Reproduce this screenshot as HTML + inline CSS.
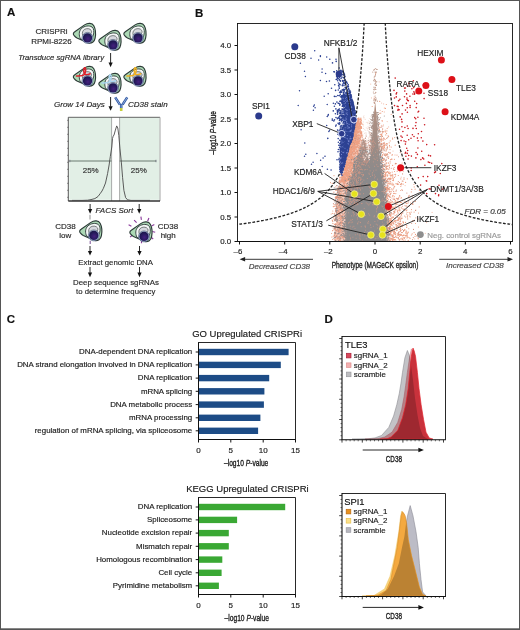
<!DOCTYPE html><html><head><meta charset="utf-8"><style>html,body{margin:0;padding:0;background:#fff}svg{display:block;will-change:transform;font-family:"Liberation Sans",sans-serif}</style></head><body>
<svg width="520" height="630" viewBox="0 0 520 630" font-family="'Liberation Sans', sans-serif">
<rect x="0" y="0" width="520" height="630" fill="#fff"/>
<defs>
<radialGradient id="nuc" cx="0.55" cy="0.6" r="0.6"><stop offset="0" stop-color="#45207e"/><stop offset="0.6" stop-color="#271a5e"/><stop offset="1" stop-color="#1c1648"/></radialGradient>
<g id="cellbody">
<path d="M2.2 15.2C0.8 13.8 1.2 12.3 2.8 11.3L12.6 4.4C16 2.1 20.2 2.3 21.8 5.2C23.4 8.2 24 13 23.1 17.6C22.5 21.3 19.6 23.2 16.2 22.4L5 17.6C3.9 17 3 16.2 2.2 15.2Z" fill="#acd9b5" stroke="#2c3a37" stroke-width="1.15"/>
<path d="M8.4 18.3C6.8 15 6.7 10.7 9.5 8C12.4 5.3 17.3 4.6 20 6.5C22 7.9 22.2 11.5 21.3 14.9L18.8 19.8L12.5 20.2Z" fill="#f4f6f6" stroke="#34403f" stroke-width="0.95"/>
<path d="M10.7 14.8C9.9 12.4 10.5 10 12.7 8.8C15.1 7.6 18 8 19.2 9.9C19.9 11.1 19.5 12.7 18.5 13.4L13.5 15.2Z" fill="#d6d8de" stroke="#4c5252" stroke-width="0.7"/>
</g>
<g id="nucleus">
<circle cx="15.5" cy="17.4" r="5.5" fill="#aabfe2" stroke="#3a4a62" stroke-width="0.55"/>
<circle cx="15.5" cy="17.4" r="4.65" fill="url(#nuc)"/>
</g>
<g id="cell"><use href="#cellbody"/><use href="#nucleus"/></g>
</defs>
<text x="7" y="16.3" font-size="11.5" font-weight="bold" fill="#111" stroke="#111" stroke-width="0.16">A</text>
<text x="195" y="16.5" font-size="11.5" font-weight="bold" fill="#111" stroke="#111" stroke-width="0.16">B</text>
<text x="6.8" y="322.7" font-size="11.5" font-weight="bold" fill="#111" stroke="#111" stroke-width="0.16">C</text>
<text x="324.5" y="322.6" font-size="11.5" font-weight="bold" fill="#111" stroke="#111" stroke-width="0.16">D</text>
<text x="51.5" y="34.4" font-size="8" text-anchor="middle" fill="#2a2a2a" stroke="#2a2a2a" stroke-width="0.16">CRISPRi</text>
<text x="51.4" y="44.2" font-size="8" text-anchor="middle" fill="#2a2a2a" stroke="#2a2a2a" stroke-width="0.16">RPMI-8226</text>
<use href="#cell" transform="translate(72 20.5)"/>
<use href="#cell" transform="translate(97.5 27.5)"/>
<use href="#cell" transform="translate(122.5 20.5)"/>
<text x="18.3" y="60.4" font-size="7.75" font-style="italic" fill="#2a2a2a" stroke="#2a2a2a" stroke-width="0.16">Transduce sgRNA library</text>
<line x1="110.6" y1="53" x2="110.6" y2="63.1" stroke="#111" stroke-width="0.9"/>
<path d="M108.5 62.6L112.7 62.6L110.6 67.2Z" fill="#111"/>
<g transform="translate(72 63.5)"><use href="#cellbody"/><path d="M4.5 12.6C7.5 12.4 10.5 12.6 12.3 11C13.8 9 14.2 5.2 13 4.2C11.6 3.8 11.2 7.4 12.4 10.2C13.4 11.8 15.8 11.3 18.2 10.2" fill="none" stroke="#e0202a" stroke-width="1.5" stroke-linecap="round" stroke-linejoin="round"/><use href="#nucleus"/></g>
<g transform="translate(97.5 70.5)"><use href="#cellbody"/><path d="M4.5 12.6C7.5 12.4 10.5 12.6 12.3 11C13.8 9 14.2 5.2 13 4.2C11.6 3.8 11.2 7.4 12.4 10.2C13.4 11.8 15.8 11.3 18.2 10.2" fill="none" stroke="#a9d4ef" stroke-width="1.5" stroke-linecap="round" stroke-linejoin="round"/><use href="#nucleus"/></g>
<g transform="translate(122.5 63.5)"><use href="#cellbody"/><path d="M4.5 12.6C7.5 12.4 10.5 12.6 12.3 11C13.8 9 14.2 5.2 13 4.2C11.6 3.8 11.2 7.4 12.4 10.2C13.4 11.8 15.8 11.3 18.2 10.2" fill="none" stroke="#f0b020" stroke-width="1.5" stroke-linecap="round" stroke-linejoin="round"/><use href="#nucleus"/></g>
<text x="54" y="106.8" font-size="8" font-style="italic" fill="#2a2a2a" stroke="#2a2a2a" stroke-width="0.16">Grow 14 Days</text>
<line x1="110.6" y1="97" x2="110.6" y2="106.7" stroke="#111" stroke-width="0.9"/>
<path d="M108.5 106.2L112.7 106.2L110.6 110.8Z" fill="#111"/>
<g fill="none" stroke-linecap="butt"><path d="M115.2 97.4L119.9 104.6M127.2 97.4L122.5 104.6" stroke="#2d55a2" stroke-width="2.5"/><path d="M115.2 97.4L119.9 104.6M127.2 97.4L122.5 104.6" stroke="#b4cdee" stroke-width="0.7"/><path d="M121.2 104L121.2 108.2" stroke="#2d55a2" stroke-width="2.6"/><path d="M121.2 104.5L121.2 108" stroke="#b4cdee" stroke-width="0.6"/><path d="M121.2 108L121.2 111" stroke="#c6cf3c" stroke-width="2.6"/></g>
<text x="128" y="106.8" font-size="8" font-style="italic" fill="#2a2a2a" stroke="#2a2a2a" stroke-width="0.16">CD38 stain</text>
<rect x="69.3" y="117.3" width="90.10000000000001" height="82.5" fill="#e2efe6"/>
<rect x="111.6" y="117.3" width="8" height="83.7" fill="#fff"/>
<line x1="111.6" y1="117.3" x2="111.6" y2="201" stroke="#8a8a8a" stroke-width="0.7"/>
<line x1="119.6" y1="117.3" x2="119.6" y2="201" stroke="#8a8a8a" stroke-width="0.7"/>
<line x1="68.3" y1="117.3" x2="160" y2="117.3" stroke="#555" stroke-width="0.9"/>
<line x1="160" y1="117.3" x2="160" y2="201" stroke="#9a9a9a" stroke-width="0.9"/>
<line x1="68.3" y1="117.3" x2="68.3" y2="201" stroke="#444" stroke-width="0.9"/>
<line x1="68.3" y1="201" x2="160" y2="201" stroke="#333" stroke-width="1.4"/>
<line x1="67.1" y1="120.3" x2="68.3" y2="120.3" stroke="#444" stroke-width="0.6"/>
<line x1="67.1" y1="127.3" x2="68.3" y2="127.3" stroke="#444" stroke-width="0.6"/>
<line x1="67.1" y1="134.3" x2="68.3" y2="134.3" stroke="#444" stroke-width="0.6"/>
<line x1="67.1" y1="141.3" x2="68.3" y2="141.3" stroke="#444" stroke-width="0.6"/>
<line x1="67.1" y1="148.3" x2="68.3" y2="148.3" stroke="#444" stroke-width="0.6"/>
<line x1="67.1" y1="155.3" x2="68.3" y2="155.3" stroke="#444" stroke-width="0.6"/>
<line x1="67.1" y1="162.3" x2="68.3" y2="162.3" stroke="#444" stroke-width="0.6"/>
<line x1="67.1" y1="169.3" x2="68.3" y2="169.3" stroke="#444" stroke-width="0.6"/>
<line x1="67.1" y1="176.3" x2="68.3" y2="176.3" stroke="#444" stroke-width="0.6"/>
<line x1="67.1" y1="183.3" x2="68.3" y2="183.3" stroke="#444" stroke-width="0.6"/>
<line x1="67.1" y1="190.3" x2="68.3" y2="190.3" stroke="#444" stroke-width="0.6"/>
<line x1="67.1" y1="197.3" x2="68.3" y2="197.3" stroke="#444" stroke-width="0.6"/>
<line x1="69.5" y1="161" x2="111.6" y2="161" stroke="#6a7a70" stroke-width="1.0"/>
<line x1="119.6" y1="161" x2="156" y2="161" stroke="#6a7a70" stroke-width="1.0"/>
<line x1="69.8" y1="159.8" x2="69.8" y2="162.2" stroke="#556" stroke-width="0.7"/>
<line x1="156" y1="159.8" x2="156" y2="162.2" stroke="#556" stroke-width="0.7"/>
<text x="90.7" y="173.1" font-size="8" text-anchor="middle" fill="#333" stroke="#333" stroke-width="0.16">25%</text>
<text x="138.8" y="172.8" font-size="8" text-anchor="middle" fill="#333" stroke="#333" stroke-width="0.16">25%</text>
<path d="M72 200.4L82 200.4L87.5 200.2L91 199.6L94.9 198.6L98 196.5L100.2 193.6L102 191L103.4 188.3L105.5 183L107.6 173.5L109.1 165L110.3 156.5L111.8 147L112.5 138.5L113.2 136.2L114 135L115.4 130.1L116.7 125.9L117.8 128L118.8 135.4L119.9 148.1L121.4 162.9L122.6 177.7L123.9 190.4L125.6 197.6L127.5 199.8L131 200.4L150 200.4" fill="none" stroke="#4a4a4a" stroke-width="0.9"/>
<line x1="90.1" y1="204" x2="90.1" y2="209.6" stroke="#111" stroke-width="0.9"/>
<path d="M88 209.1L92.2 209.1L90.1 213.7Z" fill="#111"/>
<line x1="139.2" y1="204" x2="139.2" y2="209.6" stroke="#111" stroke-width="0.9"/>
<path d="M137.1 209.1L141.3 209.1L139.2 213.7Z" fill="#111"/>
<text x="95.5" y="212.8" font-size="8" font-style="italic" fill="#2a2a2a" stroke="#2a2a2a" stroke-width="0.16">FACS Sort</text>
<g transform="translate(78.3 218)"><use href="#cell"/></g>
<line x1="90" y1="214.8" x2="90" y2="219.5" stroke="#777" stroke-width="0.8"/>
<line x1="90.2" y1="240.8" x2="90.2" y2="244" stroke="#6a3a8a" stroke-width="0.9"/>
<text x="65.5" y="228.7" font-size="8" text-anchor="middle" fill="#2a2a2a" stroke="#2a2a2a" stroke-width="0.16">CD38</text>
<text x="65.3" y="238.3" font-size="8" text-anchor="middle" fill="#2a2a2a" stroke="#2a2a2a" stroke-width="0.16">low</text>
<path d="M134.1 220.1L136.6 222.6M140.9 216.6L141.4 219.8M148.9 218L147.6 221.2M154.3 224.6L151.6 226.1M155.2 232.2L152.3 231.5M153.2 239L150.5 236.8M141.5 243.2L141.5 240.4M130.1 237L132.8 234.9M128.6 224.8L131.4 226.2" stroke="#8c3c9c" stroke-width="1.15" fill="none"/>
<g transform="translate(128.5 219)"><use href="#cell"/></g>
<text x="168" y="228.8" font-size="8" text-anchor="middle" fill="#2a2a2a" stroke="#2a2a2a" stroke-width="0.16">CD38</text>
<text x="168.2" y="238.3" font-size="8" text-anchor="middle" fill="#2a2a2a" stroke="#2a2a2a" stroke-width="0.16">high</text>
<line x1="90" y1="246" x2="90" y2="251.5" stroke="#111" stroke-width="0.9"/>
<path d="M87.9 251L92.1 251L90 255.6Z" fill="#111"/>
<line x1="139.5" y1="246" x2="139.5" y2="251.5" stroke="#111" stroke-width="0.9"/>
<path d="M137.4 251L141.6 251L139.5 255.6Z" fill="#111"/>
<text x="115.6" y="264.6" font-size="7.8" text-anchor="middle" fill="#2a2a2a" stroke="#2a2a2a" stroke-width="0.16">Extract genomic DNA</text>
<line x1="90" y1="267" x2="90" y2="273.1" stroke="#111" stroke-width="0.9"/>
<path d="M87.9 272.6L92.1 272.6L90 277.2Z" fill="#111"/>
<line x1="139.5" y1="267" x2="139.5" y2="273.1" stroke="#111" stroke-width="0.9"/>
<path d="M137.4 272.6L141.6 272.6L139.5 277.2Z" fill="#111"/>
<text x="116" y="285" font-size="7.85" text-anchor="middle" fill="#2a2a2a" stroke="#2a2a2a" stroke-width="0.16">Deep sequence sgRNAs</text>
<text x="115.7" y="294.2" font-size="7.75" text-anchor="middle" fill="#2a2a2a" stroke="#2a2a2a" stroke-width="0.16">to determine frequency</text>
<g>
<clipPath id="pclip"><rect x="237.5" y="23.5" width="275.0" height="218.0"/></clipPath>
<g clip-path="url(#pclip)">
<path d="M364.8 9.8L364.0 26.4L363.2 40.8L362.4 53.4L361.5 64.5L360.7 74.4L359.9 83.2L359.1 91.2L358.3 98.4L357.5 104.9L356.7 110.9L355.9 116.3L355.1 121.4L354.3 126.0L353.5 130.3L352.7 134.3L351.9 138.0L351.1 141.5L350.3 144.8L349.5 147.8L348.7 150.7L347.9 153.3L347.1 155.9L346.3 158.3L345.5 160.5L344.7 162.7L343.9 164.7L343.1 166.7L342.3 168.5L341.5 170.3L340.7 171.9L339.8 173.5L339.0 175.0L338.2 176.5L337.4 177.9L336.6 179.2L335.8 180.5L335.0 181.8L334.2 182.9L333.4 184.1L332.6 185.2L331.8 186.2L331.0 187.2L330.2 188.2L329.4 189.2L328.6 190.1L327.8 191.0L327.0 191.8L326.2 192.6L325.4 193.4L324.6 194.2L323.8 195.0L323.0 195.7L322.2 196.4L321.4 197.1L320.6 197.7L319.8 198.4L318.9 199.0L318.1 199.6L317.3 200.2L316.5 200.8L315.7 201.3L314.9 201.9L314.1 202.4L313.3 202.9L312.5 203.4L311.7 203.9L310.9 204.4L310.1 204.9L309.3 205.3L308.5 205.8L307.7 206.2L306.9 206.6L306.1 207.0L305.3 207.4L304.5 207.8L303.7 208.2L302.9 208.6L302.1 208.9L301.3 209.3L300.5 209.7L299.7 210.0L298.9 210.3L298.1 210.7L297.2 211.0L296.4 211.3L295.6 211.6L294.8 211.9L294.0 212.2L293.2 212.5L292.4 212.8L291.6 213.1L290.8 213.4L290.0 213.6L289.2 213.9L288.4 214.2L287.6 214.4L286.8 214.7L286.0 214.9L285.2 215.2L284.4 215.4L283.6 215.6L282.8 215.9L282.0 216.1L281.2 216.3L280.4 216.5L279.6 216.7L278.8 217.0L278.0 217.2L277.2 217.4L276.3 217.6L275.5 217.8L274.7 218.0L273.9 218.2L273.1 218.3L272.3 218.5L271.5 218.7L270.7 218.9L269.9 219.1L269.1 219.2L268.3 219.4L267.5 219.6L266.7 219.8L265.9 219.9L265.1 220.1L264.3 220.2L263.5 220.4L262.7 220.6L261.9 220.7L261.1 220.9L260.3 221.0L259.5 221.1L258.7 221.3L257.9 221.4L257.1 221.6L256.3 221.7L255.4 221.9L254.6 222.0L253.8 222.1L253.0 222.3L252.2 222.4L251.4 222.5L250.6 222.6L249.8 222.8L249.0 222.9L248.2 223.0L247.4 223.1L246.6 223.2L245.8 223.4L245.0 223.5L244.2 223.6L243.4 223.7L242.6 223.8L241.8 223.9L241.0 224.0L240.2 224.1L239.4 224.2L238.6 224.4L237.8 224.5L237.0 224.6" fill="none" stroke="#222" stroke-width="1.3" stroke-dasharray="2.8 1.6" clip-path="url(#pclip)"/>
<path d="M384.6 9.8L385.4 26.4L386.2 40.8L387.0 53.4L387.9 64.5L388.7 74.4L389.5 83.2L390.3 91.2L391.1 98.4L391.9 104.9L392.7 110.9L393.5 116.3L394.3 121.4L395.1 126.0L395.9 130.3L396.7 134.3L397.5 138.0L398.3 141.5L399.1 144.8L399.9 147.8L400.7 150.7L401.5 153.3L402.3 155.9L403.1 158.3L403.9 160.5L404.7 162.7L405.5 164.7L406.3 166.7L407.1 168.5L407.9 170.3L408.7 171.9L409.6 173.5L410.4 175.0L411.2 176.5L412.0 177.9L412.8 179.2L413.6 180.5L414.4 181.8L415.2 182.9L416.0 184.1L416.8 185.2L417.6 186.2L418.4 187.2L419.2 188.2L420.0 189.2L420.8 190.1L421.6 191.0L422.4 191.8L423.2 192.6L424.0 193.4L424.8 194.2L425.6 195.0L426.4 195.7L427.2 196.4L428.0 197.1L428.8 197.7L429.6 198.4L430.5 199.0L431.3 199.6L432.1 200.2L432.9 200.8L433.7 201.3L434.5 201.9L435.3 202.4L436.1 202.9L436.9 203.4L437.7 203.9L438.5 204.4L439.3 204.9L440.1 205.3L440.9 205.8L441.7 206.2L442.5 206.6L443.3 207.0L444.1 207.4L444.9 207.8L445.7 208.2L446.5 208.6L447.3 208.9L448.1 209.3L448.9 209.7L449.7 210.0L450.5 210.3L451.3 210.7L452.2 211.0L453.0 211.3L453.8 211.6L454.6 211.9L455.4 212.2L456.2 212.5L457.0 212.8L457.8 213.1L458.6 213.4L459.4 213.6L460.2 213.9L461.0 214.2L461.8 214.4L462.6 214.7L463.4 214.9L464.2 215.2L465.0 215.4L465.8 215.6L466.6 215.9L467.4 216.1L468.2 216.3L469.0 216.5L469.8 216.7L470.6 217.0L471.4 217.2L472.2 217.4L473.1 217.6L473.9 217.8L474.7 218.0L475.5 218.2L476.3 218.3L477.1 218.5L477.9 218.7L478.7 218.9L479.5 219.1L480.3 219.2L481.1 219.4L481.9 219.6L482.7 219.8L483.5 219.9L484.3 220.1L485.1 220.2L485.9 220.4L486.7 220.6L487.5 220.7L488.3 220.9L489.1 221.0L489.9 221.1L490.7 221.3L491.5 221.4L492.3 221.6L493.1 221.7L494.0 221.9L494.8 222.0L495.6 222.1L496.4 222.3L497.2 222.4L498.0 222.5L498.8 222.6L499.6 222.8L500.4 222.9L501.2 223.0L502.0 223.1L502.8 223.2L503.6 223.4L504.4 223.5L505.2 223.6L506.0 223.7L506.8 223.8L507.6 223.9L508.4 224.0L509.2 224.1L510.0 224.2L510.8 224.4L511.6 224.5L512.4 224.6" fill="none" stroke="#222" stroke-width="1.3" stroke-dasharray="2.8 1.6" clip-path="url(#pclip)"/>
<path d="M373.5 207.2h0M369.2 128.1h0M360.2 231.2h0M381.0 195.8h0M380.7 226.6h0M377.3 216.1h0M375.2 215.6h0M354.6 178.3h0M374.8 170.7h0M368.4 201.1h0M391.0 238.4h0M362.4 167.9h0M378.5 205.5h0M384.9 212.4h0M375.5 202.9h0M358.1 210.4h0M376.9 214.5h0M371.5 97.9h0M399.4 217.6h0M376.6 115.7h0M393.2 235.5h0M376.5 214.6h0M383.6 206.7h0M380.4 167.9h0M373.9 160.1h0M376.9 133.1h0M375.2 116.1h0M393.6 207.9h0M389.8 187.3h0M372.5 177.9h0M373.6 154.9h0M382.1 120.7h0M375.0 204.8h0M376.2 134.0h0M401.2 177.2h0M377.1 181.8h0M373.2 210.7h0M372.8 192.8h0M376.1 212.5h0M384.2 165.0h0M370.1 178.9h0M389.1 183.1h0M409.4 216.1h0M371.2 167.8h0M382.5 209.3h0M377.1 139.2h0M363.5 199.7h0M397.6 223.6h0M382.2 171.5h0M377.4 205.4h0M389.3 181.0h0M375.6 138.3h0M380.4 192.2h0M383.6 103.9h0M377.7 172.4h0M379.5 225.0h0M388.0 196.0h0M384.7 203.2h0M372.5 193.8h0M374.7 163.7h0M378.0 233.4h0M388.5 241.2h0M381.5 169.5h0M377.4 176.4h0M368.5 219.7h0M376.5 178.7h0M379.2 81.8h0M373.1 167.0h0M387.2 189.8h0M374.7 182.2h0M415.9 210.2h0M399.7 210.7h0M377.2 199.8h0M379.9 161.5h0M383.4 188.3h0M381.1 161.8h0M359.4 209.2h0M387.6 227.6h0M419.9 234.5h0M399.0 224.0h0M361.4 179.7h0M378.8 136.6h0M364.1 172.1h0M388.6 126.9h0M375.8 201.5h0M368.4 195.9h0M386.7 194.1h0M380.2 110.4h0M356.6 235.5h0M373.9 200.5h0M375.6 180.8h0M370.7 84.1h0M383.0 225.3h0M365.7 207.8h0M380.7 160.8h0M386.4 197.6h0M389.2 238.9h0M396.0 221.2h0M369.1 186.3h0M373.9 234.6h0M381.6 103.1h0M385.9 164.3h0M385.3 130.1h0M370.2 227.3h0M396.2 206.5h0M381.7 190.8h0M385.0 176.3h0M365.1 182.3h0M390.3 194.8h0M376.0 157.6h0M384.3 112.0h0M382.4 205.0h0M376.7 173.6h0M394.1 186.8h0M382.6 128.4h0M378.2 150.7h0M376.3 181.3h0M381.4 224.8h0M369.5 218.8h0M373.5 141.7h0M382.1 202.5h0M371.8 205.3h0M403.3 171.5h0M377.9 172.7h0M378.0 200.5h0M379.4 195.3h0M364.3 180.8h0M386.5 199.6h0M379.3 176.0h0M377.5 128.5h0M379.3 170.7h0M379.3 213.8h0M376.3 199.5h0M374.8 119.9h0M375.2 146.5h0M378.4 193.9h0M393.5 179.1h0M367.2 168.0h0M373.4 234.9h0M375.5 140.9h0M392.6 240.0h0M360.3 194.9h0M381.4 134.5h0M384.2 168.7h0M379.5 216.6h0M380.8 161.5h0M380.3 174.6h0M361.2 171.4h0M383.5 207.8h0M375.3 196.4h0M379.8 160.6h0M369.0 173.4h0M425.3 233.3h0M390.6 223.1h0M374.5 208.8h0M374.0 219.7h0M376.2 230.2h0M366.6 213.7h0M376.9 160.3h0M378.5 192.9h0M383.5 162.4h0M379.4 129.4h0M374.0 168.3h0M379.2 237.1h0M372.0 221.9h0M395.0 155.0h0M383.3 184.6h0M374.5 175.4h0M382.5 160.6h0M386.9 143.6h0M380.8 184.0h0M355.9 190.4h0M390.3 218.4h0M381.0 160.7h0M397.7 198.7h0M381.9 149.0h0M353.1 177.4h0M381.0 218.7h0M374.2 97.0h0M394.5 186.4h0M370.5 179.3h0M376.6 155.8h0M383.3 164.7h0M381.4 125.4h0M376.7 208.0h0M374.1 180.4h0M390.5 191.6h0M380.1 174.1h0M383.3 195.2h0M378.6 186.2h0M378.5 197.7h0M398.8 218.7h0M372.7 195.1h0M393.9 233.1h0M369.1 147.5h0M387.1 203.3h0M374.2 236.6h0M393.0 151.1h0M379.2 204.7h0M369.4 197.9h0M373.8 192.6h0M364.2 202.7h0M382.6 209.9h0M368.9 233.7h0M374.0 222.7h0M359.7 210.2h0M382.5 132.8h0M372.3 224.0h0M367.3 227.8h0M380.7 208.2h0M406.7 205.8h0M376.6 127.1h0M389.8 230.6h0M383.5 143.5h0M372.2 175.6h0M373.0 138.0h0M383.5 125.0h0M380.0 170.4h0M387.2 121.6h0M381.8 139.3h0M378.4 174.2h0M386.5 211.1h0M367.1 231.9h0M378.0 175.5h0M375.1 128.5h0M414.7 238.9h0M375.5 214.1h0M375.5 141.2h0M369.7 182.0h0M376.9 164.4h0M397.9 237.7h0M359.3 200.2h0M370.3 201.0h0M360.6 209.4h0M388.4 231.5h0M375.7 197.4h0M405.1 185.6h0M400.3 221.2h0M389.6 222.7h0M374.7 218.5h0M361.7 231.4h0M381.0 219.7h0M375.2 181.2h0M375.1 146.5h0M385.6 167.4h0M390.4 163.1h0M387.9 201.5h0M374.0 172.5h0M393.6 239.8h0M432.1 212.4h0M380.9 187.2h0M379.4 236.2h0M384.4 208.5h0M375.5 176.8h0M382.2 229.2h0M378.6 176.3h0M376.5 235.1h0M382.2 204.4h0M389.9 183.8h0M371.6 147.4h0M380.7 188.5h0M368.3 207.9h0M426.6 222.5h0M372.4 230.2h0M369.6 237.3h0M379.6 241.5h0M382.1 232.4h0M376.0 204.8h0M380.4 185.2h0M412.5 198.2h0M372.8 224.4h0M384.0 190.6h0M385.4 229.9h0M377.3 204.3h0M375.0 179.6h0M369.0 187.9h0M370.7 184.7h0" stroke="#f5c8b8" stroke-width="1.30" stroke-linecap="round" fill="none"/>
<path d="M389.5 229.0h0M387.3 176.2h0M381.8 148.2h0M383.2 220.9h0M384.0 233.7h0M398.9 218.7h0M381.0 182.5h0M358.1 221.5h0M374.7 133.5h0M366.6 167.8h0M367.5 224.6h0M385.9 166.9h0M391.9 184.7h0M375.1 155.0h0M386.6 162.9h0M374.9 168.6h0M387.5 188.3h0M370.8 191.7h0M382.3 111.5h0M374.5 139.3h0M371.7 221.0h0M383.4 180.2h0M376.5 200.1h0M386.1 178.0h0M402.1 163.0h0M376.2 232.8h0M405.2 240.0h0M392.9 231.1h0M373.1 127.9h0M382.9 181.7h0M375.2 184.9h0M385.3 237.8h0M383.9 187.2h0M372.5 168.4h0M379.4 152.6h0M371.8 231.5h0M383.7 207.0h0M379.0 193.7h0M415.0 236.4h0M372.9 192.5h0M375.5 205.8h0M375.6 206.8h0M379.4 168.9h0M380.2 192.9h0M387.1 202.1h0M378.6 240.8h0M378.2 222.3h0M368.6 188.4h0M372.9 240.8h0M383.1 218.9h0M379.4 148.2h0M390.7 183.2h0M375.7 151.4h0M380.8 224.6h0M368.6 193.8h0M386.6 203.5h0M379.0 216.7h0M380.5 212.1h0M388.2 181.4h0M375.9 126.1h0M377.5 144.9h0M373.0 231.4h0M391.6 220.9h0M373.3 231.1h0M389.5 196.3h0M396.0 224.7h0M370.4 222.9h0M387.3 203.3h0M376.9 184.8h0M382.0 224.1h0M376.9 151.3h0M375.2 201.5h0M379.5 129.5h0M375.8 149.2h0M377.0 160.3h0M384.4 229.1h0M377.6 230.0h0M401.5 234.7h0M381.2 180.6h0M381.1 181.0h0M368.9 223.5h0M380.7 224.6h0M374.9 150.7h0M381.0 138.8h0M390.6 178.7h0M375.5 218.5h0M387.5 179.0h0M394.3 199.4h0M374.4 102.8h0M363.8 222.7h0M382.7 236.4h0M387.4 194.7h0M381.2 182.2h0M385.8 191.1h0M379.7 217.3h0M386.7 226.6h0M367.7 233.1h0M379.6 187.2h0M364.2 227.0h0M382.7 222.5h0M396.9 198.7h0M355.6 236.6h0M386.2 200.8h0M379.4 166.8h0M366.3 237.3h0M371.1 232.4h0M362.6 204.6h0M388.5 204.7h0M385.5 226.3h0M381.8 185.3h0M385.5 230.4h0M365.8 202.1h0M375.6 200.2h0M368.6 241.3h0M382.4 131.1h0M367.7 224.3h0M393.4 238.9h0M375.7 73.6h0M387.4 175.5h0M384.0 208.4h0M376.0 153.4h0M381.5 197.9h0M419.4 190.4h0M372.1 151.1h0M374.7 149.2h0M379.7 123.3h0M385.1 139.5h0M383.2 232.3h0M389.6 220.2h0M377.7 222.1h0M380.0 152.3h0M386.6 133.4h0M393.8 237.5h0M383.3 229.7h0M381.7 204.8h0M414.1 232.6h0M375.8 164.4h0M367.8 200.8h0M355.8 223.7h0M372.2 106.5h0M373.0 222.8h0M370.5 221.6h0M385.1 216.9h0M390.1 226.3h0M364.6 178.8h0M379.0 156.6h0M409.0 197.8h0M392.7 207.5h0M353.3 184.4h0M399.7 169.6h0M375.3 135.1h0M406.4 225.2h0M387.4 197.0h0M352.6 204.1h0M372.4 204.1h0M375.9 147.0h0M369.5 218.9h0M374.8 171.3h0M381.2 163.3h0M380.8 240.7h0M379.8 113.3h0M371.2 197.4h0M369.1 233.6h0M385.8 134.9h0M382.1 120.8h0M369.0 224.4h0M353.5 235.9h0M373.4 209.6h0M369.1 218.5h0M378.7 148.3h0M374.8 136.7h0M374.2 219.1h0M370.2 216.9h0M376.3 171.9h0M391.2 147.1h0M372.8 139.0h0M365.3 174.3h0M375.3 208.2h0M376.9 140.1h0M372.6 150.0h0M394.9 228.8h0M384.1 240.4h0M377.2 141.6h0M404.9 210.2h0M384.6 241.3h0M362.3 188.9h0M376.3 238.1h0M374.9 238.8h0M380.3 211.9h0M385.5 108.4h0M383.3 209.9h0M392.6 139.1h0M396.0 237.3h0M379.7 101.4h0M383.2 222.0h0M388.7 195.6h0M364.8 218.5h0M402.0 208.5h0M391.2 114.3h0M373.0 130.1h0M372.1 141.2h0M407.8 215.0h0M379.1 227.9h0M368.4 225.4h0M371.2 232.5h0M383.8 212.4h0M382.1 178.2h0M367.6 154.6h0M386.6 181.3h0M383.7 188.2h0M393.2 184.1h0M402.7 236.0h0M381.8 210.8h0M363.9 192.8h0M370.1 177.8h0M349.7 165.6h0M380.8 113.1h0M373.1 185.8h0M368.6 223.2h0M385.2 203.2h0M376.2 217.7h0M372.6 195.5h0M380.0 220.9h0M386.2 199.2h0M408.7 196.6h0M376.3 130.6h0M372.0 229.5h0M378.4 154.1h0M377.1 232.5h0M365.0 191.1h0M379.8 163.9h0M407.3 178.8h0M379.3 203.5h0M379.2 186.5h0M381.0 172.1h0M374.0 98.9h0M382.5 205.9h0M351.8 204.4h0M372.1 240.9h0M386.3 104.5h0M371.3 206.1h0M383.3 236.4h0M382.3 121.1h0M393.9 213.9h0M380.1 218.4h0M384.4 202.0h0M370.9 191.1h0M374.8 231.4h0M371.8 176.6h0M379.0 218.4h0M383.8 210.6h0M381.3 137.1h0M373.9 194.3h0M377.0 222.2h0M381.9 217.0h0M380.0 144.8h0M372.9 170.4h0M382.5 136.5h0M375.6 123.2h0M382.1 202.9h0M390.8 214.9h0M384.9 211.6h0M372.0 211.2h0M385.6 197.3h0M379.8 195.6h0M352.0 211.4h0M382.8 236.3h0M394.6 212.4h0M397.2 235.7h0M380.4 144.8h0M405.5 217.0h0M380.2 235.0h0M371.6 241.2h0M400.8 178.9h0M380.6 172.4h0M375.2 218.1h0M384.4 108.0h0" stroke="#eea083" stroke-width="1.20" stroke-linecap="round" fill="none"/>
<path d="M356.3 121L355.3 127.6L354 134.1L352.6 140.7L349.9 147.2L348.2 153.8L346.5 160.3L344.9 166.9L343.2 173.4L341 180L338.5 190L336.5 210L335.5 241.5L349.5 241.5L348.5 215L347.5 195L350 180L355 168L359.5 156L362 146L361 135L358.5 126L356.5 121Z" fill="#f3d0c4"/>
<path d="M341.3 223.6h0M345.8 234.6h0M337.7 212.8h0M354.1 182.8h0M338.8 213.4h0M337.8 200.6h0M342.1 176.3h0M345.9 206.0h0M341.0 196.1h0M356.7 163.9h0M334.9 234.6h0M347.9 153.7h0M340.5 238.1h0M342.3 209.9h0M347.4 199.6h0M347.6 185.9h0M340.5 204.9h0M351.7 168.2h0M361.3 160.8h0M352.7 133.1h0M335.9 186.9h0M356.1 138.2h0M344.7 185.6h0M348.3 205.4h0M347.7 152.1h0M347.2 190.2h0M343.9 182.9h0M356.9 121.7h0M347.6 185.3h0M344.3 223.8h0M340.3 182.7h0M349.8 207.6h0M339.0 197.6h0M339.5 239.9h0M348.2 234.4h0M354.2 142.3h0M361.6 136.5h0M335.5 236.9h0M344.4 228.1h0M350.3 179.4h0M359.3 150.4h0M345.4 231.5h0M339.4 179.9h0M341.2 217.7h0M353.4 134.4h0M352.1 139.0h0M355.7 164.0h0M353.1 146.4h0M357.7 139.7h0M339.0 214.0h0M337.8 238.4h0M346.3 220.8h0M345.4 222.0h0M337.1 239.1h0M337.3 204.5h0M346.7 159.1h0M351.4 173.1h0M348.7 175.8h0M357.6 158.9h0M345.9 157.6h0M335.6 229.6h0M357.8 144.3h0M343.3 235.7h0M349.7 162.5h0M350.3 233.6h0M347.6 169.0h0M347.1 227.8h0M345.4 222.4h0M346.2 205.7h0M356.0 131.0h0M347.4 225.6h0M356.2 146.5h0M346.1 159.7h0M358.6 147.5h0M343.7 182.9h0M354.3 140.6h0M362.7 136.1h0M353.4 159.2h0M339.3 197.5h0M350.9 169.1h0M351.8 171.8h0M351.9 152.4h0M335.8 190.4h0M345.5 186.5h0M339.4 199.2h0M335.5 219.8h0M349.3 201.4h0M344.5 216.9h0M347.3 186.0h0M340.9 190.9h0M358.2 142.3h0M342.4 173.8h0M338.3 215.4h0M339.2 192.9h0M333.2 227.9h0M342.7 186.9h0M335.6 211.7h0M342.0 193.5h0M349.9 236.1h0M343.6 218.0h0M353.3 131.4h0M339.8 177.2h0M346.3 228.7h0M349.6 182.6h0M337.9 195.7h0M346.0 161.1h0M342.9 200.0h0M340.7 189.7h0M342.1 238.1h0M350.0 169.0h0M349.6 144.9h0M348.9 148.9h0M342.6 176.8h0M354.7 150.9h0M339.1 211.5h0M340.7 219.4h0M348.4 214.8h0M351.2 146.3h0M346.8 206.3h0M358.0 164.6h0M348.7 160.9h0M339.7 227.5h0M339.9 196.4h0M337.0 224.0h0M351.7 190.0h0M335.8 218.3h0M344.8 183.3h0M343.0 236.5h0M349.0 187.7h0M355.1 140.8h0M355.6 132.9h0M346.3 168.4h0M339.3 191.4h0M340.9 180.8h0M335.7 208.7h0M346.3 163.9h0M345.1 228.7h0M346.7 183.7h0M353.9 121.9h0M345.7 175.2h0M346.0 210.9h0M339.9 203.4h0M350.3 230.2h0M342.7 166.3h0M340.4 215.7h0M354.3 129.0h0M361.7 143.0h0M350.2 145.0h0M342.6 180.0h0M350.8 157.2h0M346.1 238.1h0M345.2 157.5h0M350.6 228.8h0M351.5 237.6h0M334.7 224.4h0M349.4 222.9h0M346.7 143.4h0M340.4 217.2h0M358.6 157.2h0M342.7 190.8h0M359.4 143.1h0M338.4 224.1h0M349.7 241.1h0M357.3 142.5h0M331.9 237.1h0M339.7 236.5h0M350.1 222.8h0M351.6 156.6h0M359.9 156.5h0M345.5 229.3h0M349.3 220.1h0M346.2 212.8h0M343.8 169.1h0M357.6 125.7h0M348.0 229.0h0M352.3 164.7h0M339.9 230.0h0M344.1 236.3h0M351.5 155.7h0M340.7 220.9h0M347.7 194.7h0M348.5 171.4h0M359.0 162.9h0M345.6 169.2h0M351.4 232.0h0M351.3 173.2h0M349.4 183.8h0M339.3 186.1h0M355.7 146.4h0M343.1 218.0h0M353.5 121.9h0M338.1 226.3h0M342.9 179.8h0M361.6 128.5h0M345.2 151.8h0M348.4 163.6h0M346.3 210.9h0M358.8 162.9h0M334.4 224.3h0M353.1 193.7h0M351.7 240.2h0M342.5 198.3h0M349.7 238.6h0M356.3 139.2h0M342.4 217.8h0M349.6 184.6h0M335.4 204.9h0M344.9 192.9h0M343.9 155.2h0M337.9 203.8h0M346.4 207.7h0M340.7 218.6h0M349.6 167.4h0M345.5 183.0h0M335.5 218.4h0M348.6 239.5h0M345.0 227.4h0M334.4 213.3h0M339.2 218.3h0M349.3 227.7h0M356.1 158.5h0M355.5 128.3h0M354.0 150.0h0M352.8 220.1h0M354.0 172.6h0M336.4 230.3h0M334.5 232.5h0M352.7 172.0h0M338.7 207.0h0M347.8 153.2h0M353.7 125.0h0M348.0 198.3h0M333.9 192.2h0M352.2 139.0h0M344.9 166.1h0M362.6 147.8h0M360.6 139.5h0M341.2 197.4h0M347.3 192.7h0M341.9 201.8h0M337.4 203.7h0M359.1 135.7h0M353.9 153.1h0M336.5 230.8h0M340.1 195.5h0M357.4 155.3h0M347.4 185.5h0M347.9 154.9h0M339.8 181.8h0M347.3 138.9h0M347.7 150.9h0M352.9 174.6h0M348.9 186.9h0M349.2 225.5h0M344.4 182.6h0M356.2 177.6h0M350.8 211.4h0M347.8 198.7h0M337.7 190.8h0M348.9 180.2h0M346.0 178.5h0M353.1 156.7h0M334.9 232.0h0M337.3 231.1h0M359.0 126.5h0M334.6 227.7h0M355.5 163.6h0M355.6 166.5h0M354.8 128.6h0M356.5 142.1h0M348.1 153.8h0M352.9 163.2h0M337.7 238.1h0M344.7 153.5h0M354.5 148.7h0M343.6 179.2h0M352.6 156.8h0M356.8 129.3h0M355.6 127.6h0M357.5 142.9h0M340.4 200.1h0M339.1 203.5h0M337.0 211.3h0M352.7 158.4h0M349.6 168.1h0M343.1 182.8h0M351.9 130.9h0M362.3 137.5h0M354.3 122.4h0M350.6 230.9h0M350.9 169.3h0M356.5 122.5h0M351.6 160.9h0M336.1 208.2h0M337.7 220.8h0M347.1 237.8h0M345.5 195.2h0M348.3 190.2h0M354.0 130.0h0M341.4 200.2h0M362.9 124.6h0M353.6 140.9h0M335.7 227.4h0M335.7 230.2h0M348.8 211.6h0M353.8 126.4h0M342.0 203.3h0M344.8 168.4h0M357.5 151.9h0M345.4 161.9h0M338.7 197.7h0M340.2 230.6h0M352.9 220.0h0M347.8 221.2h0M348.9 185.7h0M348.8 188.0h0M347.5 154.5h0M360.5 148.4h0M359.0 125.1h0M357.0 132.1h0M356.0 166.2h0M353.2 146.4h0M344.5 183.0h0M335.1 218.1h0M340.7 197.6h0M351.6 179.3h0M340.9 209.1h0M354.1 172.0h0M338.1 188.1h0M349.3 151.7h0M344.2 167.0h0M344.1 180.6h0M346.2 154.4h0M357.0 146.9h0M342.5 236.9h0M335.5 196.8h0M355.2 142.3h0M336.8 193.3h0M353.7 161.6h0M339.7 224.0h0M353.9 126.2h0M351.7 178.4h0M357.3 139.9h0M354.3 132.4h0M338.7 210.6h0M344.0 183.2h0M342.8 237.2h0M349.7 203.5h0M345.2 180.0h0M341.0 222.0h0M358.6 158.7h0M337.0 217.5h0M352.4 173.7h0M349.6 181.6h0M343.9 157.6h0M348.8 187.6h0M350.4 187.8h0M337.9 210.9h0M348.6 214.7h0M344.1 158.4h0M353.8 185.3h0M353.5 132.7h0M348.6 153.0h0M357.1 153.5h0M346.6 239.8h0M339.8 212.9h0M347.2 230.2h0M356.7 135.6h0M347.0 188.0h0M358.2 123.9h0M347.2 219.8h0M349.1 221.1h0M357.9 121.1h0M350.0 208.1h0M346.0 190.4h0M352.6 159.4h0M351.8 168.6h0M360.1 130.0h0M337.3 190.0h0M349.1 186.7h0M352.1 177.4h0M338.8 199.1h0M335.1 215.2h0M354.7 137.7h0M363.7 146.3h0M347.8 237.1h0M350.7 156.1h0M354.2 153.9h0M356.1 136.7h0M351.2 137.8h0M362.7 139.2h0M354.7 165.0h0M341.5 234.8h0M336.2 197.1h0M335.5 239.1h0M359.4 156.9h0M345.9 205.2h0M341.5 225.1h0M339.7 229.1h0M341.5 222.3h0M343.1 236.5h0M335.4 233.2h0M339.2 203.2h0M350.2 236.4h0M339.6 209.5h0M359.9 127.7h0M343.9 188.4h0M358.6 129.0h0M341.4 212.6h0M347.0 232.0h0M343.3 217.6h0M344.5 165.0h0M338.4 238.2h0M348.4 156.0h0M342.4 171.5h0M342.5 229.0h0M343.6 207.1h0M338.0 192.5h0M342.7 174.5h0M335.3 240.6h0M363.4 141.4h0M343.0 220.4h0M339.8 239.4h0M357.2 147.4h0M350.9 214.1h0M358.1 157.3h0M356.8 125.6h0M349.4 240.3h0M340.9 186.3h0M334.2 241.3h0M347.3 167.6h0M356.6 143.7h0M343.5 227.1h0M361.7 134.3h0M342.6 210.7h0M334.0 175.7h0M332.7 239.4h0M347.4 182.8h0M362.4 164.4h0M345.0 196.7h0M338.0 216.6h0M336.5 206.5h0M343.0 187.8h0M342.1 216.1h0M344.8 236.1h0M356.1 158.5h0M347.8 174.1h0M340.0 197.9h0M362.1 146.7h0M337.8 188.8h0M354.2 164.8h0M343.9 210.7h0M345.4 193.5h0M348.7 187.9h0M332.9 223.4h0M358.4 128.4h0M344.0 234.0h0M345.1 199.8h0M348.8 151.0h0M347.5 188.3h0M339.4 231.6h0M340.1 228.7h0M358.4 165.5h0M346.1 212.7h0M352.4 124.0h0M346.1 191.2h0M342.1 160.7h0M343.3 177.1h0M361.0 134.0h0M348.6 210.1h0M337.7 208.1h0M340.4 223.4h0M346.5 189.5h0M350.5 184.2h0M351.1 181.8h0M347.3 226.1h0M354.1 174.9h0M345.6 178.9h0M344.4 240.0h0M354.4 145.6h0M345.3 230.7h0M335.6 220.3h0M339.6 229.8h0M350.0 165.0h0M356.3 135.8h0M336.3 210.4h0M349.0 149.9h0M353.8 144.2h0M357.0 128.6h0M356.8 143.6h0M338.0 223.9h0M349.7 172.0h0M359.4 125.1h0M335.8 218.3h0M337.7 196.8h0M353.0 154.0h0M347.9 208.3h0M360.5 152.4h0M348.8 235.9h0M352.4 185.6h0M348.2 178.7h0M349.0 206.4h0M335.8 226.2h0M359.5 127.9h0M341.8 210.2h0M345.5 174.3h0M346.2 168.6h0M340.4 239.1h0M349.2 225.0h0M340.2 187.1h0M349.3 234.4h0M345.7 240.1h0M348.9 152.9h0M361.8 135.6h0M337.3 222.4h0M335.7 216.4h0M353.7 171.3h0M335.2 208.5h0M349.8 233.9h0M348.7 208.3h0M349.6 197.6h0M339.1 183.1h0M348.3 231.3h0M346.0 223.1h0M357.8 137.7h0M336.8 215.6h0M339.2 224.5h0M334.7 232.8h0M357.9 137.8h0M348.2 202.5h0M335.5 216.0h0M352.6 157.9h0M338.6 232.2h0M341.2 173.9h0M360.0 154.2h0M358.6 157.1h0M360.9 127.0h0M333.6 217.9h0M357.6 167.9h0M345.6 144.7h0M341.5 209.8h0M355.6 122.2h0M337.9 208.0h0M342.1 202.5h0M358.5 159.7h0M358.6 159.3h0M351.0 218.0h0M335.6 198.6h0M359.7 124.4h0M353.9 142.3h0M349.0 212.6h0M344.5 200.2h0M340.2 193.2h0M336.4 202.6h0M334.5 241.4h0M355.4 165.5h0M349.8 225.0h0M339.3 182.1h0M337.1 206.0h0M338.0 229.1h0M335.0 240.8h0M334.7 237.6h0M346.1 160.5h0M348.3 190.4h0M347.1 166.1h0M359.4 126.0h0M346.3 159.7h0M350.3 152.1h0M353.6 126.5h0M354.3 174.0h0M349.0 225.6h0M356.1 139.0h0M341.8 230.4h0M354.8 125.2h0M342.7 222.8h0M347.7 207.8h0M345.6 161.5h0M340.1 197.8h0M351.4 143.5h0M348.9 218.5h0M346.3 184.8h0M348.7 165.8h0M353.7 170.0h0M349.9 236.9h0M346.4 163.6h0M340.2 222.6h0M360.4 137.6h0M339.0 232.1h0M341.9 221.7h0M361.5 128.0h0M345.1 175.2h0M364.7 142.9h0M350.2 148.7h0M341.3 216.2h0M351.0 144.4h0M359.8 136.0h0M337.0 213.3h0M343.3 164.3h0M336.1 201.3h0M351.2 183.2h0M346.4 237.8h0M353.4 164.1h0M363.5 157.4h0M342.4 217.4h0M340.0 180.7h0M341.1 206.2h0M337.4 192.6h0M360.6 133.5h0M353.9 174.3h0M350.1 235.2h0M357.8 142.0h0M347.4 161.9h0M356.0 149.1h0M353.5 133.4h0M357.0 236.2h0M343.6 170.9h0M347.9 198.0h0M349.8 146.8h0M349.3 154.8h0M359.1 118.2h0M360.9 131.1h0M342.3 225.6h0M347.3 236.7h0M340.7 222.6h0M360.0 135.9h0M348.6 235.9h0M354.6 153.6h0M357.4 154.5h0M343.7 233.6h0M335.7 236.9h0M356.3 148.8h0M338.1 207.7h0M349.3 231.6h0M358.5 122.7h0M363.6 142.4h0M361.3 122.0h0M336.2 215.2h0M336.4 236.2h0M349.7 238.7h0M340.6 207.9h0M335.8 235.0h0M340.3 181.9h0M333.3 236.2h0M346.1 229.5h0M342.7 185.0h0M339.2 232.3h0M337.0 206.8h0M347.6 231.5h0M342.0 236.7h0M340.0 195.2h0M354.1 132.3h0M354.9 145.4h0M338.0 220.0h0M335.0 221.0h0M350.4 221.6h0M350.6 232.3h0M360.4 144.9h0M351.8 143.8h0M344.3 167.6h0M335.5 229.3h0M355.6 137.6h0M344.3 162.6h0M346.0 166.3h0M347.3 185.4h0M358.8 131.1h0M332.7 213.4h0M359.9 132.2h0M355.0 146.0h0M344.4 228.1h0M335.4 204.8h0M347.5 186.2h0M349.6 143.8h0M362.0 142.7h0M335.1 228.3h0M346.1 193.4h0M339.8 201.7h0M348.1 224.7h0M355.0 135.3h0M352.2 152.0h0M361.8 142.8h0M347.4 162.7h0M338.9 240.1h0M341.6 188.0h0M345.2 236.9h0M337.6 238.7h0M349.8 181.8h0M342.6 233.5h0M352.3 142.3h0M349.2 183.6h0M344.8 230.8h0M330.5 182.6h0M346.0 221.1h0M343.1 206.6h0M340.7 194.4h0M360.4 150.3h0M346.3 233.4h0M346.1 174.0h0M341.2 203.5h0M344.1 177.8h0M354.3 127.3h0M344.8 203.0h0M340.6 231.3h0M340.5 198.0h0M335.5 197.4h0M354.7 188.4h0M342.9 217.8h0M342.5 237.2h0M353.4 154.8h0M364.0 139.4h0M348.9 209.0h0M341.9 227.3h0M338.6 198.8h0M352.6 196.6h0M352.3 172.1h0M339.3 209.6h0M334.9 219.5h0M363.4 156.7h0M350.4 178.1h0M355.4 208.8h0M348.8 208.1h0M332.3 183.4h0M339.5 193.0h0M352.1 178.6h0M336.4 233.0h0M343.7 213.8h0M340.6 232.0h0M346.3 193.6h0M358.2 145.4h0M340.3 210.1h0M358.8 134.8h0M336.7 206.3h0M354.5 135.6h0M351.9 135.7h0M342.6 231.3h0M348.7 233.1h0M363.1 143.9h0M349.3 198.2h0M354.9 175.6h0M350.0 167.7h0M358.3 132.3h0M359.1 159.9h0M350.0 233.4h0M341.4 162.6h0M359.1 141.3h0M341.0 207.5h0M361.2 165.6h0M348.9 221.2h0M341.2 208.0h0M354.0 239.3h0M354.9 166.9h0M362.9 146.1h0M359.2 145.1h0M339.8 240.6h0M343.9 177.5h0M348.4 201.9h0M347.4 235.9h0M355.1 238.6h0M338.6 205.3h0M340.1 206.0h0M347.9 195.4h0M343.9 186.9h0M344.0 230.2h0M342.9 186.5h0M339.6 193.8h0M357.3 160.6h0M343.2 218.5h0M356.1 171.1h0M357.0 142.3h0M339.7 236.1h0M356.5 126.4h0M357.3 155.2h0M357.0 129.0h0M346.3 155.9h0M334.2 200.7h0M349.1 189.0h0M346.9 191.7h0M348.8 150.6h0M346.9 214.8h0M361.0 132.8h0M358.6 148.9h0M336.8 219.4h0M350.2 186.0h0M339.8 184.6h0M336.7 212.7h0M343.7 236.0h0M336.7 235.4h0M349.7 179.0h0M362.1 134.9h0M349.3 145.8h0M354.8 143.1h0M355.8 121.8h0M336.0 224.0h0M347.2 206.7h0M347.6 153.2h0M345.1 164.7h0M334.3 234.1h0M340.3 238.6h0M342.6 186.8h0M347.7 224.3h0M353.7 177.9h0M336.0 211.9h0M349.7 219.6h0M341.0 195.8h0M344.5 178.6h0M356.7 139.0h0M354.7 129.5h0M341.2 166.1h0M344.5 172.3h0M349.7 184.5h0M336.9 221.7h0M344.2 180.3h0M348.1 148.1h0M338.7 236.8h0M340.8 208.5h0M334.3 206.4h0M354.7 158.8h0M351.2 144.1h0M354.9 122.9h0M337.3 190.7h0M358.2 150.9h0M340.4 234.5h0M357.5 135.8h0M349.5 152.8h0M335.5 233.4h0M358.4 155.0h0M334.2 219.4h0M354.3 130.4h0M348.2 175.9h0M346.6 190.4h0M346.7 237.8h0M360.7 132.4h0M341.2 233.0h0M342.8 196.1h0M353.9 147.3h0M338.9 230.6h0M343.2 218.7h0M343.4 238.0h0M346.9 156.1h0M344.5 179.8h0M349.5 205.5h0M339.6 177.9h0M352.4 157.9h0M336.1 218.9h0M349.4 231.8h0M361.4 135.5h0M338.1 191.1h0M355.7 167.5h0M354.4 145.8h0M339.5 202.6h0M349.0 194.1h0M348.8 227.8h0M342.0 204.9h0M335.1 231.9h0M352.1 171.8h0M340.1 235.9h0M338.8 211.0h0M353.5 134.6h0M351.7 141.6h0M351.2 147.4h0M346.5 180.7h0M338.9 187.0h0M352.4 177.9h0M347.0 157.4h0M336.8 193.8h0M353.6 160.5h0M345.3 186.0h0M361.4 133.9h0M345.8 179.3h0M337.1 238.3h0M349.8 144.0h0M350.3 222.0h0M356.5 127.6h0M349.2 232.6h0M335.3 197.4h0M331.6 233.5h0M344.4 173.0h0M332.6 230.7h0M357.1 163.7h0M349.1 212.2h0M351.1 167.9h0M362.0 146.2h0M341.6 189.7h0M358.9 134.9h0M349.5 193.0h0M336.0 215.9h0M352.0 139.6h0M340.3 174.6h0M348.9 223.7h0M353.7 171.7h0M334.7 227.7h0M341.0 177.4h0M360.7 154.8h0M343.3 169.3h0M351.6 165.0h0M346.9 214.0h0M352.0 148.3h0M335.7 229.8h0M348.1 193.5h0M348.7 224.3h0M357.3 157.4h0M332.2 220.1h0M353.1 153.9h0M360.1 147.0h0M350.1 232.5h0M354.9 134.3h0M344.4 167.4h0M349.0 239.7h0M352.4 174.4h0M334.1 230.1h0M350.7 212.2h0M347.5 170.3h0M359.1 170.4h0M337.8 237.9h0M341.1 202.0h0M351.6 137.6h0M349.7 230.1h0M345.0 236.8h0M350.8 161.9h0M338.2 190.0h0M346.0 164.1h0M332.8 211.0h0M345.3 232.5h0M356.3 147.3h0M351.5 170.2h0M360.3 129.8h0M346.1 171.3h0M334.7 239.5h0M353.0 134.3h0M336.0 210.9h0M356.2 130.7h0M338.6 228.0h0M353.1 145.8h0M341.1 179.6h0M349.6 171.6h0M357.0 140.9h0M334.4 235.6h0M334.7 216.2h0M335.8 224.5h0M349.2 128.2h0M347.1 232.1h0M333.3 206.7h0M354.6 144.8h0M341.7 229.4h0M342.5 187.5h0M358.2 169.5h0M347.8 202.0h0M358.6 126.5h0M347.0 233.4h0M354.6 158.4h0M356.3 127.6h0M335.9 205.1h0M343.2 199.3h0M346.4 213.6h0M348.0 148.9h0M340.5 240.9h0M336.4 206.0h0M353.7 162.2h0M347.9 154.0h0M349.9 240.5h0M337.6 197.9h0M347.0 231.4h0M351.2 190.8h0M358.0 164.5h0M344.6 169.7h0M345.3 187.9h0M341.3 212.1h0M352.5 143.9h0M345.8 161.8h0M357.3 127.3h0M342.5 228.6h0M345.3 232.6h0M349.0 211.4h0M351.9 170.6h0M334.5 237.7h0M350.4 224.1h0M338.7 233.3h0M355.1 125.0h0M339.5 214.3h0M360.1 135.6h0M354.0 154.5h0M364.4 144.8h0M344.8 212.4h0M339.3 180.7h0M347.5 177.3h0M361.7 133.2h0M353.8 148.0h0M349.5 237.8h0M347.5 175.4h0M358.9 161.0h0M343.9 239.0h0M341.5 192.0h0M356.1 142.3h0M349.2 178.1h0M351.5 170.6h0M346.2 224.9h0M345.0 216.2h0M358.1 142.6h0M356.2 125.7h0M335.0 236.6h0M359.4 153.9h0M340.3 219.3h0M356.2 159.9h0M339.1 198.1h0M352.5 142.9h0M358.0 162.6h0M335.5 223.9h0M349.5 218.6h0M333.7 226.0h0M334.2 229.3h0M346.0 210.5h0M354.0 162.1h0M343.6 193.6h0M335.4 217.9h0M363.3 148.8h0M357.0 127.0h0M344.5 200.1h0M357.4 164.0h0M342.2 199.6h0M353.5 178.3h0M331.2 214.0h0M346.7 197.0h0M342.8 198.5h0M352.6 174.4h0M352.9 137.4h0M337.0 190.3h0M341.9 211.0h0M350.4 222.4h0M339.2 238.3h0M335.7 216.1h0M334.8 228.3h0M362.5 148.2h0M336.4 227.6h0M349.7 238.3h0M352.0 158.7h0M344.4 228.2h0M336.4 206.3h0M360.7 137.0h0M349.7 161.1h0M342.6 214.2h0M336.9 230.8h0M351.9 141.0h0M358.0 118.7h0M337.9 229.6h0M336.2 219.7h0M348.4 148.5h0M345.7 226.0h0M352.2 176.3h0M349.8 147.3h0M344.7 226.3h0M361.1 147.0h0M340.7 181.0h0M365.8 152.0h0M352.7 176.1h0M354.2 137.0h0M347.5 188.9h0M342.3 220.7h0M347.0 201.5h0M336.7 230.2h0M341.6 218.6h0M355.0 149.8h0M363.3 148.6h0M337.7 196.3h0M355.7 162.0h0M356.5 160.8h0M345.8 200.1h0M361.4 131.5h0M361.3 160.4h0M347.1 208.4h0M342.0 202.1h0M346.4 186.5h0M362.1 146.4h0M360.3 124.6h0M352.4 144.6h0M356.7 158.7h0M335.3 219.6h0M344.1 240.7h0M336.6 196.4h0M332.6 220.7h0M348.6 214.7h0M355.4 121.7h0M346.6 156.0h0M351.1 181.4h0M335.7 226.6h0M357.7 152.5h0M353.6 230.5h0M349.3 157.2h0M361.6 140.7h0M340.2 206.4h0M340.0 229.4h0M363.5 140.7h0M353.2 167.2h0M339.1 231.5h0M353.9 154.7h0M353.8 133.8h0M334.1 204.7h0M359.3 143.4h0M355.4 116.8h0M347.1 207.4h0M343.9 206.7h0M345.6 236.3h0" stroke="#eea083" stroke-width="1.20" stroke-linecap="round" fill="none"/>
<path d="M338.5 224.8h0M345.3 181.8h0M342.6 233.0h0M344.1 204.4h0M349.3 212.1h0M335.5 237.8h0M350.9 180.1h0M340.0 205.5h0M340.4 237.3h0M342.7 191.3h0M344.6 179.9h0M344.2 184.3h0M343.9 228.0h0M336.6 185.5h0M353.3 183.8h0M337.1 235.7h0M347.1 187.7h0M349.7 231.4h0M342.0 228.8h0M344.6 186.2h0M340.4 187.3h0M338.9 222.7h0M335.6 210.7h0M341.9 177.0h0M336.9 204.0h0M337.9 208.5h0M340.6 240.0h0M338.7 206.1h0M341.7 232.3h0M335.2 241.5h0M336.7 212.5h0M345.6 221.8h0M344.3 226.3h0M348.0 209.8h0M339.0 237.0h0M351.5 187.7h0M347.7 203.7h0M346.6 208.7h0M346.5 190.4h0M337.1 198.0h0M348.6 215.2h0M338.0 241.5h0M341.6 236.8h0M349.3 226.9h0M342.9 185.3h0M338.6 201.0h0M337.7 197.4h0M335.0 228.5h0M339.3 195.9h0M333.9 241.4h0M337.1 196.7h0M343.1 204.0h0M342.6 188.6h0M338.3 203.0h0M349.3 211.4h0M343.5 228.6h0M336.7 204.8h0M343.7 187.0h0M342.4 228.3h0M344.6 185.4h0M341.0 215.7h0M340.6 228.0h0M342.0 220.1h0M336.9 230.6h0M342.4 185.6h0M348.4 200.7h0M349.0 206.1h0M342.6 209.3h0M335.6 230.2h0M343.9 214.3h0M339.5 183.5h0M340.4 229.8h0M351.2 228.9h0M342.3 210.0h0M340.8 197.2h0M338.8 226.8h0M351.0 184.4h0M337.2 200.6h0M341.7 180.4h0M339.3 228.6h0M343.4 231.8h0M344.0 208.9h0M340.2 214.8h0M339.8 225.9h0M335.8 216.4h0M342.1 215.5h0M342.3 208.8h0M338.0 227.8h0M345.2 207.2h0M340.7 207.8h0M339.9 229.0h0M338.6 189.4h0M348.7 179.9h0M346.0 178.3h0M348.6 196.3h0M339.4 223.1h0M340.6 223.8h0M347.0 235.8h0M347.2 176.4h0M336.2 208.2h0M341.8 216.3h0M340.3 201.9h0M342.7 228.7h0M345.5 237.4h0M339.8 206.9h0M337.4 234.0h0M341.7 202.2h0M351.2 176.0h0M340.8 178.9h0M341.2 222.2h0M349.0 215.1h0M343.0 237.8h0M355.5 179.9h0M342.7 195.9h0M345.9 231.8h0M349.6 237.3h0M335.8 208.9h0M347.9 200.9h0M348.2 228.0h0M336.4 236.7h0M342.6 225.8h0M345.4 189.5h0M342.9 203.6h0M347.2 226.8h0M341.0 180.7h0M347.9 235.4h0M346.9 193.0h0M338.4 211.2h0M345.2 219.2h0M338.6 231.7h0M344.1 234.7h0M347.6 217.1h0M336.4 198.6h0M342.8 203.6h0M338.1 210.7h0M349.6 211.4h0M348.4 177.7h0M337.6 208.6h0M338.2 213.1h0M343.4 194.0h0M343.3 179.9h0M347.6 183.2h0M336.4 212.9h0M337.0 207.6h0M340.5 228.8h0M339.9 207.9h0M351.2 177.8h0M333.4 203.6h0M338.9 234.3h0M343.4 227.8h0M344.5 190.7h0M338.2 192.0h0M344.3 179.8h0M348.3 209.8h0M338.1 187.3h0M335.9 216.0h0M335.5 228.1h0M342.5 222.6h0M351.5 204.4h0M341.4 217.8h0M341.3 177.1h0M348.6 207.2h0M339.9 224.0h0M346.8 239.5h0M348.1 206.8h0M347.4 219.5h0M335.3 237.6h0M344.8 237.4h0M350.9 181.5h0M349.5 188.7h0M340.8 228.4h0M335.6 210.2h0M339.3 241.1h0M342.9 233.8h0M337.8 201.7h0M339.8 182.3h0M341.8 210.3h0M345.7 193.5h0M334.8 233.4h0M344.2 215.2h0M352.2 176.3h0M340.2 209.0h0M345.1 218.8h0M349.3 230.4h0M339.0 241.3h0M350.7 180.5h0M346.5 207.3h0M339.0 186.6h0M347.5 213.6h0M343.7 195.7h0M337.1 219.4h0M346.4 235.2h0M339.1 181.4h0M340.7 188.2h0M346.0 177.7h0M334.3 228.9h0M340.1 198.3h0M337.8 192.4h0M349.4 236.4h0M335.0 237.1h0M337.7 199.3h0M346.1 200.4h0M341.3 181.2h0M352.3 177.4h0M336.4 197.4h0M341.6 222.7h0M343.2 229.7h0M341.0 204.2h0M349.1 214.4h0M341.5 234.8h0M349.8 222.1h0M337.2 197.8h0M345.8 233.0h0M349.7 239.9h0M348.5 200.5h0M341.0 234.4h0M347.8 193.2h0M343.6 207.0h0M347.9 198.2h0M338.0 209.0h0M343.7 218.6h0M340.3 212.9h0M340.2 191.3h0M336.2 211.4h0M337.2 200.8h0M337.8 203.2h0M348.2 208.2h0M345.0 240.9h0M339.5 215.0h0M343.0 225.3h0M345.3 187.9h0M344.4 226.2h0M341.8 216.4h0M342.5 203.2h0M346.8 179.8h0M351.7 183.1h0M348.6 238.4h0M342.7 195.3h0M349.9 179.1h0M336.8 206.0h0M339.0 215.1h0M348.9 240.9h0M345.8 178.9h0M350.6 235.7h0M346.7 203.0h0M343.6 185.2h0M346.6 235.2h0M349.5 185.7h0M336.4 236.2h0M349.5 235.3h0M344.3 235.1h0M336.7 216.0h0M339.5 212.5h0M345.2 177.9h0M347.1 185.9h0M334.8 235.6h0M342.0 187.6h0M348.5 212.7h0M346.9 228.3h0M344.3 215.9h0M343.9 183.6h0M341.6 202.1h0M335.7 224.4h0M339.2 216.4h0M332.8 221.4h0M338.2 230.9h0M340.0 200.2h0M338.2 218.8h0M339.2 190.4h0M346.9 215.4h0M350.1 227.0h0M344.7 230.8h0M348.6 191.3h0M349.1 227.9h0" stroke="#d49484" stroke-width="1.10" stroke-linecap="round" fill="none"/>
<path d="M336.3 211.3h0M338.3 203.1h0M337.7 233.7h0M345.8 193.8h0M341.8 203.5h0M346.8 207.0h0M349.8 233.0h0M339.8 187.6h0M342.1 186.1h0M335.4 193.8h0M346.1 192.7h0M345.5 191.8h0M338.5 194.2h0M336.4 210.6h0M337.8 236.9h0M339.3 192.0h0M345.9 203.2h0M345.0 206.6h0M339.3 205.4h0M346.0 238.1h0M337.8 192.9h0M340.9 204.3h0M339.6 204.4h0M349.7 223.5h0M343.1 219.1h0M341.1 200.9h0M346.2 239.4h0M349.2 227.6h0M349.2 187.5h0M343.0 233.4h0M337.1 217.1h0M340.7 241.3h0M346.6 234.7h0M336.5 221.3h0M343.5 239.7h0M339.7 189.8h0M349.4 185.9h0M339.4 236.8h0M348.3 236.5h0M338.5 202.8h0M343.1 231.6h0M346.7 199.7h0M334.5 237.7h0M338.7 233.4h0M343.1 205.5h0M345.8 221.4h0M351.1 191.8h0M335.7 220.0h0M347.7 218.7h0M347.8 212.5h0M340.9 191.4h0M349.6 235.3h0M336.8 208.1h0M339.7 227.1h0M343.6 210.1h0M338.9 227.1h0M339.6 218.0h0M350.4 211.0h0M349.0 218.2h0M336.8 203.8h0M340.6 235.6h0M350.0 190.8h0M346.5 223.3h0M349.6 229.8h0M340.3 195.2h0M339.8 213.8h0M336.1 214.3h0M335.2 240.7h0M339.8 232.9h0M349.6 189.8h0M342.8 208.0h0M348.5 204.0h0M339.2 239.0h0M342.8 216.4h0M347.1 194.0h0M343.8 227.1h0M350.0 200.3h0M335.3 232.0h0M340.1 197.3h0M348.9 196.9h0M338.6 190.0h0M343.5 226.2h0M348.3 191.2h0M338.5 240.6h0M341.5 234.4h0M336.4 215.0h0M348.4 202.3h0M338.6 226.8h0M337.7 199.5h0M349.3 224.4h0M344.7 221.7h0M341.3 198.0h0M337.6 225.7h0M334.7 232.8h0M341.4 194.9h0M338.1 233.2h0M344.3 195.6h0M339.2 201.3h0M346.2 210.4h0M347.7 220.9h0M342.7 195.3h0M335.8 240.5h0M335.6 203.8h0M344.6 198.2h0M336.7 202.6h0M340.5 222.3h0M348.4 240.9h0M350.8 237.9h0M337.7 195.5h0M338.7 230.1h0M346.6 216.3h0M348.2 231.0h0M339.2 220.5h0M337.4 229.1h0M342.8 208.1h0M349.3 223.9h0M337.8 185.8h0M335.7 216.9h0M343.5 236.7h0M350.6 238.5h0M341.6 241.2h0M344.1 190.1h0M349.7 214.8h0M345.4 210.7h0M345.7 228.9h0M333.8 238.2h0M338.0 201.2h0M335.4 225.3h0M336.5 208.2h0M343.0 235.7h0M349.9 229.1h0M344.8 193.2h0M336.4 218.8h0M349.2 225.6h0M346.1 197.2h0M341.4 195.4h0M342.1 213.1h0M349.3 216.6h0M335.6 237.2h0M335.5 218.2h0M341.8 216.6h0M334.3 228.1h0M334.9 227.6h0M346.9 223.7h0M342.4 220.2h0M345.1 192.5h0M336.6 219.8h0M347.9 190.2h0M345.5 197.6h0M345.2 190.8h0M335.8 199.6h0M340.6 208.9h0M348.9 210.7h0M340.2 187.6h0M335.8 220.2h0M335.7 217.0h0M337.5 220.9h0M341.7 231.0h0M336.4 217.8h0M350.1 228.6h0M337.3 210.4h0M343.4 234.6h0M346.6 214.0h0M349.9 229.0h0M341.3 200.5h0M343.4 229.8h0M340.5 225.2h0M334.6 220.5h0M341.3 235.2h0M336.2 214.0h0M342.8 223.1h0M334.2 187.8h0M342.8 231.3h0M340.0 203.0h0M347.7 229.8h0M336.6 212.1h0M348.7 205.9h0M348.0 193.3h0M335.4 227.8h0M334.3 214.9h0M346.4 233.5h0M335.1 201.9h0M344.1 186.5h0M339.1 186.7h0M344.2 226.4h0M337.8 191.8h0M342.3 241.0h0M349.8 237.9h0M343.3 219.9h0M345.9 205.9h0M344.2 223.9h0M337.0 220.0h0M337.5 190.8h0M343.6 233.5h0M342.2 199.7h0M348.2 203.7h0M349.2 231.5h0M343.5 203.8h0M346.7 198.0h0M348.0 190.9h0M344.2 199.0h0M349.8 239.0h0M342.7 218.5h0M343.4 234.9h0M340.8 238.4h0M344.8 225.7h0M335.7 233.6h0M347.1 226.3h0M350.1 238.6h0M343.3 190.8h0M350.7 207.0h0M338.7 197.4h0M346.5 210.0h0M341.0 208.5h0M348.7 216.2h0M339.4 236.9h0M337.6 219.3h0M347.5 195.6h0M343.8 241.1h0M350.5 197.9h0M350.2 232.6h0M339.0 193.2h0M342.2 212.0h0M340.7 241.2h0M349.8 232.9h0M336.1 206.2h0M335.4 219.2h0M341.3 206.9h0M346.8 187.4h0M342.7 229.2h0M348.5 202.1h0M348.1 193.1h0M345.6 198.2h0M336.2 209.3h0M348.9 223.2h0M335.3 232.6h0M348.3 201.6h0M347.5 194.2h0M335.9 216.6h0M352.4 238.9h0M351.2 205.7h0M339.4 224.0h0M344.3 227.7h0" stroke="#9a9090" stroke-width="1.10" stroke-linecap="round" fill="none"/>
<path d="M348.3 156.9h0M347.2 167.9h0M342.7 175.9h0M355.3 138.5h0M346.3 181.2h0M346.1 172.9h0M353.0 157.9h0M344.3 181.4h0M351.1 165.9h0M351.3 158.6h0M343.2 175.9h0M357.1 119.1h0M354.1 138.1h0M354.3 133.9h0M354.0 160.6h0M355.2 181.6h0M357.5 121.0h0M359.7 128.5h0M357.7 141.7h0M356.0 140.1h0M350.5 148.1h0M350.6 155.6h0M352.7 172.7h0M348.4 164.7h0M362.0 149.2h0M358.7 128.1h0M342.5 180.9h0M354.7 149.0h0M345.5 165.6h0M347.9 178.2h0M349.6 179.2h0M352.8 175.6h0M360.3 122.4h0M353.1 177.4h0M347.0 165.0h0M360.2 146.4h0M350.8 177.3h0M355.3 148.8h0M346.9 174.3h0M358.9 135.2h0M347.3 164.1h0M355.9 136.6h0M344.8 180.5h0M356.4 177.8h0M357.1 130.6h0M353.8 148.6h0M356.3 119.4h0M350.9 173.1h0M355.1 132.4h0M357.9 142.6h0M343.8 179.5h0M350.7 175.9h0M359.0 154.9h0M355.4 134.5h0M356.4 134.5h0M358.3 153.9h0M351.6 149.7h0M348.5 168.1h0M354.1 138.4h0M348.3 153.5h0M358.2 126.5h0M359.6 122.8h0M355.5 136.6h0M348.8 156.2h0M352.1 151.8h0M352.5 148.4h0M357.9 124.9h0M360.3 124.5h0M349.4 154.0h0M359.8 119.9h0M350.8 150.3h0M349.1 173.1h0M353.4 139.2h0M347.9 180.4h0M352.3 152.7h0M355.6 135.1h0M353.0 146.7h0M351.9 154.2h0M350.3 162.7h0M357.7 131.8h0M357.7 129.2h0M353.3 142.2h0M342.9 176.0h0M345.8 174.9h0M351.6 162.7h0M356.2 124.2h0M348.2 157.4h0M347.2 170.1h0M354.5 135.3h0M353.0 159.6h0M349.5 159.1h0M343.7 175.6h0M356.8 136.2h0M350.4 152.0h0M355.4 132.8h0M357.9 153.5h0M348.3 157.6h0M357.0 118.6h0M343.1 180.6h0M346.6 166.8h0M355.9 124.6h0M350.3 152.2h0M359.7 126.5h0M359.8 129.0h0M341.4 181.1h0M356.6 133.6h0M359.0 123.5h0M361.5 127.6h0M361.2 157.7h0M356.9 122.5h0M358.1 129.7h0M354.8 135.7h0M349.6 154.1h0M353.5 140.3h0M345.1 172.6h0M351.8 142.6h0M355.0 141.4h0M358.1 138.1h0M357.2 126.4h0M353.2 140.0h0M351.7 148.5h0M345.9 166.5h0M348.6 172.8h0M351.1 167.9h0M355.1 129.8h0M349.9 152.6h0M360.9 118.2h0M347.1 163.7h0M348.6 173.7h0M355.8 147.3h0M352.4 158.5h0M347.6 158.9h0M356.8 130.8h0M346.5 164.5h0M357.8 124.4h0M342.9 177.4h0M346.2 166.6h0M357.6 170.1h0M349.7 160.4h0M346.2 176.6h0M348.4 155.7h0M356.4 144.2h0M342.9 175.2h0M345.5 181.1h0M356.8 120.2h0M351.5 144.3h0M343.8 180.1h0M358.1 157.5h0M354.7 148.3h0M349.4 159.9h0M345.3 181.8h0M356.2 163.9h0M347.0 172.9h0M359.6 124.8h0M356.8 125.4h0M353.6 150.8h0M341.6 179.7h0M343.0 176.6h0M348.9 155.4h0M350.8 159.0h0M350.6 145.3h0M351.0 164.2h0M355.6 126.6h0M345.2 169.5h0M346.7 162.5h0M344.5 177.2h0M355.2 140.5h0M356.7 131.0h0M346.4 164.4h0M360.1 124.3h0M349.1 175.0h0M346.6 179.4h0M356.7 135.8h0M350.5 166.8h0M349.4 153.8h0M356.3 170.8h0M346.9 162.8h0M353.3 146.8h0M346.8 178.9h0M356.2 138.4h0M349.4 166.6h0M357.2 137.1h0M353.6 151.9h0M355.6 131.2h0M357.4 133.1h0M353.0 141.8h0M355.5 161.6h0M357.1 124.5h0M341.9 180.0h0M350.9 149.2h0M357.4 131.8h0M359.6 124.2h0M354.4 146.6h0M352.7 149.4h0M354.5 134.1h0M358.2 120.7h0M358.5 120.4h0M352.9 141.2h0M354.0 136.0h0M354.1 139.2h0M359.4 128.1h0M354.0 142.7h0M361.0 123.1h0M347.2 158.3h0M351.1 144.6h0M346.1 171.7h0M357.9 128.8h0M356.8 118.9h0M358.3 132.3h0M344.7 179.9h0M351.5 155.0h0M355.4 153.9h0M349.5 156.3h0M347.4 164.2h0M358.1 142.7h0M348.9 165.0h0M352.0 146.8h0M356.0 135.2h0M346.6 169.1h0M357.7 121.1h0M360.0 148.1h0M358.1 119.3h0M352.3 166.7h0M358.7 132.2h0M347.6 166.0h0M346.5 164.1h0M349.3 181.9h0M355.0 144.6h0M357.1 118.6h0M357.9 139.3h0M346.9 171.1h0M342.0 178.0h0M360.2 167.8h0M356.5 121.7h0M359.9 123.4h0M353.4 140.0h0M348.1 168.0h0M345.8 170.4h0M349.0 178.6h0M355.8 127.2h0M355.6 131.3h0M350.5 147.1h0M346.0 170.1h0M354.4 143.9h0M353.1 149.7h0M345.6 170.3h0M349.9 162.2h0M358.1 143.0h0M352.9 163.5h0M351.8 167.9h0M348.6 159.4h0M353.7 139.5h0M349.9 165.2h0M347.4 178.7h0M347.4 158.0h0M356.5 121.6h0M357.6 144.6h0M351.7 153.3h0M356.7 151.4h0M355.8 125.2h0M348.8 175.7h0M355.0 130.1h0M348.7 177.3h0M354.6 132.9h0M356.1 126.8h0M350.5 171.3h0M360.3 137.9h0M361.0 136.7h0M343.2 180.7h0M352.5 140.9h0M354.9 173.0h0M354.3 133.2h0M354.3 136.1h0M349.6 180.4h0M348.1 155.2h0M358.1 126.7h0M357.3 150.7h0M353.5 145.5h0M357.3 123.4h0M350.7 146.8h0M358.9 141.3h0M353.5 139.7h0M358.8 127.5h0M355.0 166.1h0M356.0 124.5h0M354.6 133.8h0M350.4 145.6h0M362.0 164.6h0M346.1 168.1h0M350.9 146.3h0M352.9 146.1h0M360.4 126.2h0M349.1 166.1h0M356.9 134.2h0M343.9 175.7h0M358.5 131.9h0M357.7 135.6h0M361.6 132.7h0M360.4 133.6h0M358.8 123.8h0M349.8 175.5h0M348.6 171.0h0M354.1 135.6h0M357.4 126.2h0M348.6 156.3h0M344.3 169.8h0M347.7 170.4h0M352.3 159.5h0M353.8 137.4h0M357.1 141.0h0M354.4 151.1h0M347.0 175.5h0M354.4 156.2h0M350.6 150.6h0M346.1 162.6h0M359.3 141.7h0M358.3 170.2h0M342.6 181.8h0M354.9 171.0h0M347.2 158.5h0M354.4 151.8h0M357.2 118.7h0M344.4 172.1h0M355.3 133.7h0M344.2 173.6h0M352.5 151.5h0M342.9 179.3h0M354.9 133.5h0M354.6 134.7h0M353.2 159.9h0M350.9 150.0h0M350.6 170.2h0M351.4 162.2h0M351.9 146.1h0M352.8 145.1h0M350.5 175.7h0M358.1 126.2h0M354.0 160.5h0M350.4 158.1h0M360.6 119.8h0M350.0 157.3h0M355.1 153.5h0M349.3 180.3h0M350.2 148.9h0M358.5 119.7h0M354.8 161.1h0M352.8 167.5h0M355.2 133.4h0M356.3 129.4h0M358.7 128.1h0M350.5 161.7h0M351.0 149.4h0M356.5 121.7h0M354.6 146.1h0M358.5 118.3h0M361.0 122.0h0M350.0 156.3h0M349.4 173.3h0M355.7 125.2h0M346.2 167.5h0M343.8 176.7h0M346.2 166.2h0M344.3 169.1h0M356.8 142.3h0M358.8 157.8h0M355.1 131.2h0M343.6 174.8h0M356.6 120.0h0M354.5 136.3h0M355.7 141.8h0M347.0 161.2h0M352.5 165.5h0M347.2 161.4h0M341.9 181.5h0M361.3 126.8h0M341.8 178.6h0M351.3 165.0h0M355.7 126.9h0M351.1 176.8h0M344.1 181.9h0M354.0 145.0h0M350.3 147.1h0M348.6 157.6h0M349.4 173.8h0M351.2 151.9h0M357.5 118.9h0M356.0 143.2h0M356.3 144.8h0M359.4 140.8h0M346.6 167.0h0M350.0 156.6h0M342.7 178.6h0M347.5 180.6h0M346.0 180.9h0M347.4 174.0h0M353.0 141.3h0M361.2 166.1h0M347.7 157.6h0M345.4 170.0h0M348.9 155.9h0M359.0 138.4h0M358.8 143.4h0M360.9 147.0h0M350.7 162.1h0M348.6 165.0h0M353.4 148.9h0M358.8 161.0h0M347.3 180.8h0M356.6 130.4h0M344.8 172.8h0M346.9 164.5h0M345.4 166.9h0M355.2 130.6h0M354.7 143.2h0M349.8 150.8h0M348.6 156.6h0M358.4 141.5h0M350.7 165.8h0M347.1 179.4h0M350.3 154.3h0M349.2 156.9h0M357.1 150.2h0M348.3 179.4h0M354.5 162.7h0M349.3 157.3h0M352.5 165.8h0M346.2 175.0h0M353.4 139.1h0M346.1 176.4h0M360.3 121.5h0M347.3 172.3h0M352.3 181.9h0M347.4 169.3h0M355.7 128.3h0M351.3 157.8h0M355.6 126.5h0M361.7 123.9h0M349.2 169.9h0M355.8 147.4h0M349.9 156.1h0M344.6 180.5h0M356.4 126.8h0M356.3 141.7h0M356.7 150.0h0M346.7 180.9h0M360.6 121.9h0M344.3 181.7h0M355.0 140.9h0M344.0 176.6h0M359.2 120.0h0M346.7 164.2h0M361.1 120.0h0M353.8 137.7h0M354.4 144.0h0M345.0 170.4h0M345.0 177.8h0M357.6 127.0h0M347.1 169.2h0M348.8 153.0h0M346.8 162.5h0M354.9 141.1h0M356.2 160.3h0M348.6 168.2h0M349.8 178.5h0M348.4 155.5h0M348.2 167.4h0M356.1 132.2h0M350.2 146.3h0M345.5 170.3h0M350.8 175.5h0M358.1 122.8h0M347.1 163.4h0M353.3 146.8h0M355.8 144.4h0M347.9 177.7h0M345.2 173.6h0M352.1 152.2h0M358.6 137.1h0M350.0 149.2h0M350.5 159.9h0M351.3 151.1h0M361.0 132.7h0M348.8 156.1h0M357.2 124.5h0M352.5 142.5h0M356.4 162.0h0M348.5 154.6h0M350.1 160.6h0M359.2 125.1h0M350.5 149.2h0M361.1 153.5h0M358.0 119.7h0M358.1 141.3h0M353.9 136.6h0M349.6 149.4h0M344.4 181.8h0M344.7 180.8h0M349.4 173.9h0M359.4 125.7h0M342.9 180.3h0M359.4 124.1h0M354.8 135.8h0M355.4 139.0h0M360.1 125.2h0M344.7 177.0h0M346.4 161.8h0M350.6 147.1h0M360.0 121.6h0M354.3 138.1h0M355.5 152.2h0M352.0 162.6h0M344.9 167.1h0M352.9 162.2h0M350.6 158.1h0M359.1 119.3h0M354.4 137.8h0M344.1 173.5h0M347.8 159.7h0M356.7 121.3h0M351.4 151.3h0M347.6 174.6h0M350.6 153.9h0M352.0 156.9h0M346.2 167.4h0M354.9 148.2h0M349.2 162.6h0M359.1 127.9h0M352.1 141.7h0M349.5 180.6h0M354.6 131.7h0M356.7 124.2h0M349.0 167.4h0M352.6 164.0h0M353.5 163.6h0M352.2 143.1h0M355.1 141.9h0M346.7 169.3h0M348.1 160.3h0M347.9 175.9h0M350.8 148.8h0M344.2 175.1h0M360.5 131.0h0M349.9 177.5h0M358.9 140.0h0M345.8 176.9h0M350.9 179.6h0M356.8 143.3h0M355.3 147.7h0M357.5 127.5h0M344.8 178.3h0M350.0 177.8h0M351.9 151.8h0M356.7 123.3h0M349.4 152.4h0M350.8 155.1h0M346.2 162.5h0M354.9 153.9h0M355.0 130.8h0M357.6 160.8h0M345.8 168.8h0M358.9 128.0h0M356.3 134.2h0M346.3 166.0h0M346.1 164.6h0M348.4 167.7h0M348.8 172.9h0M356.7 123.7h0M345.0 174.3h0M346.1 162.2h0M350.4 160.3h0M351.0 146.1h0M343.3 181.2h0M347.7 164.0h0M360.9 121.9h0M357.4 135.5h0M361.4 120.2h0M347.5 172.6h0M350.2 157.4h0M349.8 176.1h0M352.9 159.2h0M344.6 177.4h0M344.2 175.2h0M354.6 145.7h0M349.5 150.4h0M357.0 133.2h0M352.6 171.9h0M343.4 176.1h0M358.6 158.4h0M358.9 147.5h0M353.5 139.3h0M350.5 146.1h0M348.6 159.1h0M350.0 163.7h0M359.4 129.0h0M351.9 155.6h0M346.5 164.6h0M359.9 179.4h0M358.6 121.4h0M352.3 146.3h0M347.6 159.1h0M351.4 152.9h0M356.5 126.2h0M353.9 165.9h0M354.1 142.5h0M343.4 180.3h0M352.9 144.6h0M360.7 127.4h0M356.9 119.0h0M361.1 122.7h0M346.0 171.7h0M361.0 127.4h0M358.7 143.1h0M343.1 175.2h0M351.9 163.5h0M348.6 163.7h0M352.7 157.0h0M356.5 153.1h0M356.7 119.0h0M354.7 136.5h0M353.2 142.5h0M356.1 137.4h0M358.0 143.3h0M356.7 135.3h0M349.3 151.1h0M346.1 174.1h0M353.1 143.2h0M346.9 168.9h0M345.9 170.5h0M354.2 151.8h0M359.7 131.0h0M347.1 159.0h0M360.8 119.0h0M351.6 153.5h0M347.0 173.7h0M348.7 156.0h0M354.1 142.0h0M349.9 173.7h0M343.5 176.5h0M354.4 147.0h0M348.2 178.6h0M352.4 157.0h0M348.4 153.7h0M362.0 147.2h0M345.3 166.6h0M351.1 148.4h0M345.2 167.6h0M351.6 147.7h0M343.8 180.3h0M355.2 130.5h0M359.1 131.3h0M361.9 147.4h0M358.7 137.0h0M356.2 124.0h0M355.0 132.7h0M345.3 165.7h0M357.9 132.9h0M347.4 172.5h0M350.3 147.1h0M348.8 176.9h0M353.5 147.8h0M350.5 149.2h0M354.9 130.6h0M345.3 178.4h0M343.9 174.0h0M347.1 172.1h0M353.6 148.0h0M346.5 162.1h0M354.1 150.6h0M348.0 157.5h0M349.2 153.5h0M342.8 181.6h0M349.9 153.7h0M352.0 149.6h0M345.4 169.7h0M360.4 128.8h0M350.2 163.3h0M348.2 162.2h0M353.8 136.3h0M351.5 177.7h0M352.2 168.8h0M347.1 162.7h0M350.0 165.8h0M358.1 121.8h0M359.8 148.6h0M352.0 150.3h0M349.5 151.9h0M352.4 143.2h0M357.8 122.7h0M354.7 142.0h0M357.8 146.5h0M351.6 144.1h0M348.5 165.1h0M347.6 165.8h0M343.1 178.8h0M349.9 180.3h0M356.0 126.1h0M361.1 140.6h0M344.8 168.1h0M358.1 122.2h0M353.3 158.3h0M358.9 123.9h0M347.0 163.2h0M351.6 155.1h0M355.9 128.8h0M345.4 180.7h0M341.7 181.9h0" stroke="#eea083" stroke-width="1.40" stroke-linecap="round" fill="none"/>
<path d="M403.8 230.6h0M405.8 201.9h0M382.6 129.2h0M392.6 138.1h0M402.6 200.6h0M411.8 189.4h0M389.8 239.3h0M381.7 165.7h0M392.7 221.9h0M401.5 232.6h0M391.3 168.3h0M389.2 191.2h0M385.2 153.9h0M399.1 217.8h0M389.7 241.2h0M402.6 173.9h0M387.9 193.4h0M403.6 235.2h0M386.6 228.7h0M383.9 176.2h0M388.5 195.9h0M399.4 239.9h0M401.3 225.5h0M386.7 190.9h0M391.0 200.5h0M380.2 144.0h0M385.7 155.9h0M385.6 202.5h0M385.2 161.8h0M387.0 218.4h0M400.2 223.3h0M385.8 223.3h0M380.0 140.3h0M391.7 235.9h0M390.4 193.9h0M400.3 234.9h0M384.2 193.3h0M406.1 206.1h0M390.8 216.0h0M398.4 219.4h0M400.2 219.6h0M410.4 214.1h0M388.6 219.7h0M389.8 209.9h0M398.3 238.3h0M384.2 187.1h0M381.6 165.7h0M394.5 227.3h0M403.6 230.6h0M387.5 228.7h0M384.5 176.6h0M380.6 150.0h0M386.0 202.4h0M389.9 208.0h0M412.7 203.3h0M386.3 191.8h0M400.2 231.5h0M398.1 222.9h0M384.8 194.5h0M390.1 161.8h0M380.6 151.6h0M382.0 133.9h0M386.6 180.2h0M402.4 229.5h0M387.4 219.5h0M389.3 230.0h0M396.1 224.9h0M388.0 230.4h0M387.3 181.7h0M389.3 204.2h0M384.2 192.8h0M384.3 138.8h0M387.2 241.0h0M394.7 211.4h0M388.7 156.9h0M391.6 220.8h0M389.8 178.9h0M386.6 210.8h0M383.4 182.0h0M381.5 159.6h0M412.7 220.9h0M384.0 143.6h0M399.8 196.1h0M387.0 214.4h0M384.3 176.7h0M398.4 234.4h0M386.5 159.9h0M395.6 176.0h0M398.4 232.6h0M378.5 125.5h0M400.0 218.3h0M402.8 211.7h0M402.3 206.2h0M388.5 225.2h0M387.7 188.8h0M388.2 219.9h0M385.8 221.1h0M395.3 233.1h0M379.9 139.6h0M400.2 152.6h0M390.6 220.1h0M381.6 166.2h0M383.2 166.2h0M406.9 193.1h0M395.4 218.1h0M396.9 204.0h0M397.5 225.9h0M386.6 189.6h0M383.8 188.5h0M397.9 210.5h0M388.8 178.9h0M388.6 178.6h0M393.0 231.8h0M386.4 208.3h0M389.7 229.2h0M391.1 210.5h0M395.8 222.6h0M402.9 221.9h0M392.0 239.3h0M382.0 148.2h0M385.5 199.0h0M396.3 190.1h0M390.2 152.9h0M392.7 208.3h0M401.5 184.7h0M387.9 231.8h0M391.1 222.8h0M399.1 207.4h0M389.9 232.0h0M389.2 211.9h0M385.3 179.6h0M402.2 204.5h0M387.4 146.8h0M393.1 227.0h0M413.3 237.6h0M398.7 232.1h0M387.3 223.4h0M397.1 204.1h0M387.2 229.4h0M387.3 206.8h0M393.7 191.4h0M386.2 180.4h0M383.8 180.7h0M393.9 187.8h0M393.0 216.8h0M390.2 202.8h0M401.2 215.3h0M408.8 228.7h0M386.2 229.7h0M395.8 241.0h0M390.4 233.6h0M409.1 195.4h0M386.0 175.0h0M388.6 216.7h0M385.7 216.6h0M392.9 229.3h0M394.1 230.3h0M380.9 156.4h0M391.1 238.5h0M393.8 222.9h0M406.1 235.4h0M402.2 181.1h0M404.3 237.8h0M383.6 192.1h0M386.7 207.0h0M398.6 233.5h0M415.5 210.4h0M414.6 220.8h0M384.7 204.7h0M385.0 186.2h0M392.4 241.4h0M387.3 166.0h0M393.4 168.7h0M398.3 181.6h0M385.4 199.9h0M397.0 220.2h0M404.0 177.9h0M407.7 218.9h0M385.9 165.6h0M389.6 233.7h0M401.9 218.4h0M385.7 192.0h0M391.0 206.1h0M386.2 213.8h0M385.2 206.1h0M385.2 204.1h0M398.5 156.8h0M389.8 214.4h0M382.5 174.1h0M390.0 218.3h0M389.0 214.5h0M394.7 199.6h0M382.9 143.3h0M389.0 238.1h0M389.7 192.1h0M382.9 126.1h0M383.3 138.9h0M390.5 240.1h0M388.3 227.9h0M393.0 223.6h0M380.9 127.4h0M402.4 204.0h0M397.2 220.3h0M386.9 188.4h0M388.4 239.7h0M389.5 196.9h0M397.6 184.4h0M387.6 200.8h0M383.5 149.7h0M408.0 203.0h0M395.2 204.2h0M393.1 213.7h0M387.9 233.4h0M404.7 216.0h0M393.9 233.9h0M386.3 227.7h0M399.6 234.6h0M396.3 163.6h0M389.0 229.3h0M386.6 220.2h0M400.3 216.9h0M384.6 203.8h0M399.2 223.2h0M383.4 179.8h0M390.6 181.3h0M385.9 183.6h0M413.0 201.2h0M389.0 223.3h0M400.5 221.1h0M396.6 227.5h0M391.1 213.5h0M386.4 168.9h0M397.2 183.3h0M383.7 190.0h0M389.9 220.9h0M381.1 143.5h0M383.9 197.1h0M413.5 229.4h0M388.1 228.2h0M383.4 168.4h0M385.4 217.6h0M385.7 218.6h0M398.7 199.1h0M390.7 227.6h0M387.5 179.3h0M400.0 224.4h0M383.0 168.3h0M388.6 152.2h0M386.1 219.2h0M382.4 170.2h0M396.1 228.8h0M398.1 198.4h0M394.4 237.5h0M390.8 179.2h0M385.5 219.6h0M387.6 190.7h0M388.1 135.7h0M380.7 153.3h0M390.7 219.8h0M385.5 174.9h0M383.9 145.6h0M399.7 225.2h0M391.8 159.5h0M385.4 179.1h0M398.3 237.6h0M392.4 236.4h0M395.4 163.4h0M393.2 199.3h0M390.5 232.7h0M389.7 178.2h0M400.3 234.5h0M389.3 201.9h0M385.6 160.6h0M402.3 190.5h0M382.3 167.9h0M387.6 217.7h0M395.3 232.4h0M407.0 233.9h0M384.8 164.1h0M394.4 212.7h0M380.8 150.1h0M381.9 147.8h0M383.8 182.9h0M392.1 238.3h0M383.7 190.3h0M387.0 206.7h0M382.7 155.6h0M387.4 215.1h0M394.7 212.5h0M383.8 188.4h0M394.9 174.5h0M385.1 200.5h0M386.1 226.5h0M397.1 230.3h0M402.8 212.9h0M381.3 126.7h0M399.5 182.5h0M393.7 237.1h0M387.4 186.9h0M389.7 189.2h0M387.1 171.9h0M397.9 202.3h0M390.4 199.6h0M386.5 223.3h0M384.0 198.0h0M385.8 208.7h0M387.2 215.7h0M384.1 142.4h0M388.6 228.3h0M386.9 221.0h0M384.5 193.1h0M386.3 202.9h0M395.4 202.9h0M411.7 223.5h0M400.7 230.5h0M398.4 238.8h0M397.5 199.1h0M406.4 214.0h0M380.8 146.9h0M401.8 213.6h0M390.3 224.4h0M394.7 221.1h0M394.5 231.4h0M408.4 201.7h0M388.5 188.6h0M388.0 186.7h0" stroke="#d88f7c" stroke-width="1.10" stroke-linecap="round" fill="none"/>
<path d="M405.5 232.9h0M384.1 189.6h0M402.0 235.5h0M390.3 175.1h0M385.4 132.0h0M389.0 188.0h0M385.0 205.9h0M389.3 220.3h0M401.9 217.0h0M382.6 179.7h0M400.3 226.3h0M416.5 235.8h0M390.8 215.6h0M392.6 165.4h0M401.8 238.9h0M392.2 189.9h0M395.8 220.4h0M392.8 239.3h0M390.7 216.2h0M396.9 214.8h0M397.5 220.6h0M384.5 198.3h0M386.4 209.8h0M388.3 199.6h0M400.7 190.5h0M389.0 231.2h0M415.8 217.8h0M413.0 220.9h0M408.3 232.2h0M385.4 182.4h0M397.9 225.6h0M402.0 238.1h0M391.7 188.8h0M387.2 153.6h0M386.1 212.9h0M385.5 174.9h0M401.4 197.5h0M380.3 134.4h0M403.0 181.2h0M389.5 167.2h0M390.9 234.4h0M391.6 230.8h0M385.5 187.4h0M383.3 184.5h0M385.1 169.9h0M385.6 197.7h0M389.7 205.9h0M386.8 215.1h0M389.9 183.1h0M381.2 157.0h0M400.3 238.9h0M392.1 222.7h0M390.0 174.9h0M389.0 194.7h0M391.7 218.3h0M393.5 180.6h0M385.7 214.1h0M380.4 146.3h0M395.4 209.9h0M418.3 238.7h0M415.4 201.4h0M393.7 184.9h0M393.5 179.1h0M386.6 168.8h0M385.6 178.6h0M393.4 217.4h0M400.9 230.4h0M383.1 175.1h0M400.2 234.1h0M388.5 210.1h0M385.8 187.0h0M390.0 149.6h0M390.1 214.7h0M403.5 237.8h0M383.3 159.4h0M389.6 209.4h0M418.0 237.9h0M399.1 218.7h0M392.6 239.7h0M390.9 233.8h0M386.5 217.6h0M381.8 159.7h0M393.9 231.3h0M384.6 184.0h0M385.6 204.9h0M385.0 181.4h0M391.3 212.7h0M399.8 209.7h0M386.1 191.3h0M381.1 141.6h0M387.1 232.2h0M389.1 234.8h0M389.5 165.2h0M383.3 180.0h0M391.3 224.0h0M382.0 139.1h0M392.2 172.1h0M418.5 227.0h0M381.6 167.4h0M391.1 222.7h0M394.5 207.8h0M411.1 212.2h0M407.4 235.8h0M384.2 195.4h0M384.4 187.9h0M385.2 191.7h0M390.6 220.4h0M386.6 219.9h0M397.7 234.2h0M388.2 237.1h0M389.1 168.8h0M395.4 221.0h0M414.2 186.9h0M383.7 192.5h0M385.7 197.6h0M386.2 166.7h0M389.0 179.0h0M386.1 228.8h0M400.0 221.6h0M390.2 223.2h0M402.3 238.3h0M386.6 229.4h0M407.1 236.4h0M389.0 165.3h0M393.0 240.3h0M392.8 180.4h0M398.6 220.6h0M382.0 169.3h0M387.2 128.3h0M399.1 217.1h0M404.2 209.2h0M408.2 240.4h0M386.8 220.9h0M394.2 167.5h0M388.1 238.1h0M400.6 228.9h0M407.7 233.1h0M395.4 239.6h0M392.1 178.2h0M394.4 159.3h0M393.3 235.9h0M393.4 178.9h0M398.9 197.3h0M394.5 171.5h0M388.2 224.8h0M391.2 221.4h0M387.6 216.0h0M386.8 155.3h0M395.6 174.3h0M406.9 225.8h0M391.1 238.6h0M383.9 150.0h0M399.9 210.7h0M383.2 146.8h0M393.5 231.8h0M403.5 222.2h0M384.5 143.8h0M406.9 209.8h0M393.8 233.1h0M402.2 226.6h0M406.6 210.7h0M394.7 220.9h0M382.6 154.6h0M393.8 212.0h0M414.1 212.1h0M388.0 233.8h0M396.9 228.9h0M385.6 221.8h0M394.2 196.3h0M386.3 221.6h0M387.1 202.8h0M390.1 218.6h0M397.4 228.0h0M386.6 172.7h0M389.0 209.4h0M403.2 235.5h0M392.8 174.3h0M398.9 224.6h0M385.7 220.3h0M392.4 228.5h0M405.6 182.4h0M398.4 235.3h0M384.8 202.7h0M389.6 228.4h0M384.9 197.5h0M382.4 170.5h0M383.5 175.9h0M386.8 149.6h0M397.4 211.5h0M381.3 139.6h0M399.9 223.6h0M398.4 235.1h0M399.4 236.5h0M412.3 203.8h0M386.1 187.2h0M383.3 148.2h0M389.8 152.9h0M400.8 186.3h0M389.7 178.7h0M388.0 184.9h0M390.6 230.4h0M407.3 216.1h0M387.8 189.5h0M392.1 206.7h0M395.6 234.4h0M390.4 233.7h0M391.9 214.1h0M387.9 220.8h0M388.7 163.2h0M383.7 137.9h0M412.9 204.5h0M385.3 188.1h0M398.7 201.8h0M415.5 234.4h0M394.7 210.0h0M383.1 186.1h0M391.8 235.2h0M392.9 237.7h0M398.0 219.3h0M384.1 158.4h0M389.5 145.4h0M401.0 241.1h0M384.5 146.1h0M386.1 191.5h0M384.5 199.1h0M418.2 219.1h0M400.9 213.2h0M384.5 180.1h0M404.9 237.5h0M386.9 220.9h0M385.4 189.0h0M381.5 143.4h0M393.0 195.4h0M402.5 232.6h0M382.9 184.7h0M399.9 201.9h0M386.1 168.8h0M386.0 226.7h0M390.1 240.4h0M385.8 217.4h0M406.2 203.2h0M385.8 172.2h0M392.1 238.8h0M409.7 237.8h0M388.4 172.6h0M381.5 134.7h0M382.0 172.3h0M391.9 239.6h0M392.2 225.3h0M389.0 227.9h0M394.0 221.5h0M382.6 177.2h0M383.0 165.0h0M388.5 232.7h0M404.1 209.1h0M388.2 227.7h0M380.1 134.5h0M406.7 227.4h0M389.3 215.4h0M403.8 235.2h0M383.1 178.2h0M393.4 239.6h0M398.6 226.4h0M385.3 212.1h0M387.2 238.5h0M397.0 201.1h0M401.6 183.4h0M386.8 198.2h0M385.2 176.5h0M409.9 213.9h0M381.3 140.9h0M389.0 171.9h0M387.9 185.3h0M387.0 154.6h0M383.7 178.1h0M382.8 132.3h0M384.3 203.6h0M382.3 147.9h0M389.6 188.1h0M388.5 158.4h0M399.8 205.0h0M396.3 226.7h0M380.6 131.5h0M407.2 212.5h0M400.0 218.8h0M385.9 220.3h0M379.4 127.1h0M388.3 202.0h0M388.0 235.2h0M387.9 166.3h0M383.9 183.6h0M390.8 223.4h0M410.0 238.4h0M383.8 153.8h0M381.7 139.6h0M400.8 235.5h0M397.9 212.1h0M392.3 217.5h0M385.3 144.9h0M396.4 202.5h0M404.5 230.2h0M389.5 179.1h0M412.3 195.9h0M381.8 166.8h0M385.2 212.8h0M384.7 179.1h0M409.0 206.3h0M386.3 205.7h0M381.6 144.7h0M386.5 207.3h0M395.4 200.5h0M386.4 154.4h0M390.4 226.5h0M393.3 208.5h0M392.9 175.9h0M388.3 162.9h0M398.3 175.5h0M391.1 219.5h0M401.2 223.6h0M404.8 229.4h0M412.5 239.6h0M403.2 209.3h0M383.2 166.4h0M381.8 165.4h0M387.4 210.1h0M406.6 232.8h0M390.6 238.0h0M393.6 193.3h0M389.7 230.1h0M388.1 209.0h0M386.0 196.9h0M383.5 145.0h0M385.4 203.6h0M382.8 180.0h0M390.5 233.0h0M394.5 239.4h0M382.0 172.5h0M400.6 228.0h0M396.4 198.4h0M407.3 207.1h0M405.8 231.0h0M396.6 241.3h0M387.5 147.6h0M392.7 185.0h0M387.1 143.7h0M385.7 173.2h0M398.1 213.2h0M390.0 172.8h0M381.2 136.0h0M387.3 168.5h0M396.5 224.8h0M392.6 229.3h0M383.7 188.2h0M397.2 171.2h0M404.4 201.0h0M382.8 146.2h0M390.9 176.2h0M394.6 229.8h0M391.4 238.4h0M387.1 174.8h0M386.0 197.1h0M409.2 212.6h0M388.6 222.2h0M401.5 202.5h0M386.1 226.1h0M393.8 227.3h0M395.2 145.2h0M384.4 174.9h0M386.3 231.3h0M387.5 156.8h0M390.0 224.3h0M396.0 209.7h0M412.2 233.8h0M385.3 173.6h0M396.4 230.6h0M385.1 205.6h0M389.1 222.9h0M389.0 208.7h0M390.4 178.1h0M381.3 141.1h0M402.5 239.7h0M405.0 205.7h0M387.7 210.9h0M383.8 192.1h0M392.4 196.2h0M401.9 189.5h0M382.6 152.3h0M391.8 217.6h0M385.1 131.2h0M386.8 166.5h0M387.0 238.1h0M394.6 212.3h0M391.3 223.1h0M385.3 189.2h0M394.5 240.0h0M399.8 229.5h0M389.9 209.7h0M387.5 181.2h0M410.1 216.8h0M401.0 198.1h0M388.1 169.6h0M387.6 188.3h0M388.0 189.4h0M384.5 172.0h0M391.2 191.5h0M388.6 189.8h0M386.1 219.6h0M391.7 209.5h0M390.4 172.8h0M411.3 191.9h0M385.6 182.0h0M385.4 209.8h0M383.6 165.7h0M395.3 164.0h0M392.0 198.0h0M392.7 235.5h0M383.3 146.5h0M391.7 224.4h0M386.9 130.9h0M399.8 231.8h0M391.2 228.2h0M399.6 195.7h0M394.7 137.6h0M392.2 201.4h0M404.0 235.2h0M384.1 189.7h0M386.1 163.4h0M389.9 225.1h0M403.1 184.2h0M381.6 150.7h0M390.4 228.9h0M383.8 186.8h0M394.6 218.5h0M391.6 225.1h0M393.9 169.4h0M389.7 235.2h0M392.8 234.8h0M385.6 155.3h0M388.2 204.5h0M404.0 179.3h0M392.0 155.2h0M403.7 240.0h0M400.3 184.1h0M406.6 231.2h0M396.0 183.7h0M389.0 211.1h0M384.8 154.6h0M386.7 187.4h0M389.8 189.8h0M389.7 210.9h0M386.5 231.2h0M394.0 198.2h0M390.7 178.3h0M384.3 193.1h0M390.6 232.9h0M386.7 191.6h0M385.8 196.3h0M390.7 204.3h0M395.8 236.4h0M380.8 156.3h0M391.1 175.2h0M407.4 217.1h0M395.8 193.6h0M385.0 193.6h0M390.2 202.2h0M387.4 241.2h0M395.5 236.1h0M407.0 203.6h0M384.0 148.5h0M389.7 212.1h0M384.5 199.4h0M387.5 228.1h0M383.3 188.1h0M403.5 231.5h0M415.5 223.5h0M388.6 205.6h0M391.8 158.9h0M382.0 135.6h0M394.9 202.0h0M395.2 201.5h0M389.2 142.8h0M397.2 184.2h0M384.0 181.7h0M388.6 205.3h0M390.2 240.9h0M390.2 140.9h0M397.7 202.0h0M385.5 200.5h0M401.6 218.7h0M384.4 147.4h0M383.1 140.4h0M391.8 229.2h0M399.3 224.0h0M383.6 183.9h0M394.1 231.6h0M390.7 232.4h0M390.4 197.2h0M385.4 199.5h0M399.7 234.9h0M411.4 235.0h0M398.1 210.1h0M386.8 196.3h0M411.5 209.6h0M385.6 176.1h0M382.9 152.0h0M387.9 185.0h0M388.9 223.6h0M396.0 191.2h0M384.8 143.8h0M400.4 202.4h0M387.5 222.9h0M387.7 185.7h0M394.6 186.6h0M389.7 146.8h0M392.7 177.0h0M378.9 128.9h0M392.2 239.3h0M413.9 184.5h0M396.6 204.1h0M387.9 175.0h0M389.5 167.3h0M394.4 193.3h0M403.5 223.0h0M387.4 198.4h0M391.3 232.2h0M399.8 214.6h0M404.0 241.4h0M386.1 195.5h0M390.7 224.8h0M392.0 241.0h0M399.3 239.7h0M398.4 184.2h0M390.4 194.1h0M401.4 214.6h0M397.0 155.1h0M395.2 215.5h0M393.4 188.8h0M387.6 183.8h0M384.3 203.4h0M395.3 206.1h0M390.1 223.1h0M387.1 235.8h0M389.4 221.2h0M387.5 171.7h0M390.1 187.5h0M401.2 207.6h0M389.6 227.4h0M383.2 160.4h0M387.1 180.8h0M405.5 222.4h0M383.3 173.2h0M412.2 241.5h0M387.3 230.3h0M388.7 173.5h0M407.1 234.1h0M407.0 237.9h0M405.3 235.4h0M406.8 235.7h0M383.8 176.7h0M383.5 172.8h0M394.4 177.4h0M402.6 224.9h0M392.7 240.8h0M383.6 131.6h0M389.7 173.4h0M391.3 231.1h0M381.1 159.6h0M405.6 236.0h0M381.3 138.8h0M410.5 203.0h0M389.1 237.3h0M404.5 238.3h0M393.0 202.3h0M397.2 233.5h0M391.1 234.4h0M389.2 237.7h0M392.3 154.7h0M399.1 208.5h0M396.8 237.6h0M384.3 172.2h0M392.2 217.9h0M393.6 211.6h0M394.3 233.0h0M387.1 195.4h0M389.1 204.5h0M398.0 202.0h0M388.4 206.0h0M408.1 237.4h0M392.1 183.2h0M384.4 190.1h0M388.8 203.1h0M392.0 203.9h0M386.0 210.0h0M385.0 174.8h0M402.0 226.4h0M386.6 189.7h0M386.0 196.0h0M396.8 214.9h0M386.3 150.8h0M388.6 136.7h0M388.9 178.0h0M388.6 183.2h0M382.9 162.5h0M386.6 188.2h0M392.0 175.3h0M383.8 187.6h0M381.9 156.7h0M388.5 230.2h0M387.7 240.3h0M393.8 224.0h0M418.5 213.0h0M395.6 209.6h0M386.6 143.7h0M391.1 193.1h0M386.6 214.3h0M391.2 202.4h0M415.1 189.2h0M394.6 233.9h0M393.5 223.1h0M390.8 221.2h0M380.5 146.5h0M384.5 145.4h0M386.8 215.2h0M398.0 210.0h0M400.5 224.6h0M383.5 169.7h0M383.0 179.7h0M397.5 217.2h0M390.0 184.3h0M387.5 200.8h0M392.8 240.8h0M390.6 159.7h0M387.4 203.7h0M388.1 238.8h0M395.0 232.5h0M399.8 171.7h0M388.2 211.1h0M419.2 206.9h0M382.4 157.9h0M390.3 208.7h0M398.9 205.2h0M401.2 197.9h0M381.7 146.3h0M384.3 198.9h0M400.5 184.4h0M389.1 227.6h0M385.0 181.8h0M384.9 206.0h0M393.8 207.0h0M386.0 205.9h0M386.6 138.3h0" stroke="#eea083" stroke-width="1.20" stroke-linecap="round" fill="none"/>
<linearGradient id="gspike" gradientUnits="userSpaceOnUse" x1="0" y1="100" x2="0" y2="175"><stop offset="0" stop-color="#b8917f"/><stop offset="1" stop-color="#8b8a8b"/></linearGradient>
<path d="M346.5 241.5L346 220L347 200L349.5 185L353.5 172L357.5 161L361.5 151L364.5 142L366.2 148L367.5 156L369.5 163L370.8 150L372 138L373.4 120L374.5 108L375.2 102L375.9 108L376.8 120L377.8 138L379.2 152L381 168L383.5 190L385.8 215L386.8 241.5Z" fill="url(#gspike)"/>
<path d="M380.5 162.5h0M348.1 192.5h0M354.6 161.2h0M367.1 152.1h0M380.1 155.5h0M385.6 199.5h0M386.5 209.7h0M350.1 180.6h0M388.3 235.9h0M381.8 163.8h0M360.0 151.1h0M354.5 166.8h0M385.3 205.3h0M386.6 233.9h0M382.5 175.2h0M382.0 173.8h0M355.8 161.8h0M345.9 235.3h0M351.3 177.2h0M382.5 157.7h0M348.1 191.3h0M389.5 228.7h0M380.4 154.7h0M386.8 234.3h0M345.3 226.3h0M387.2 230.2h0M380.0 155.6h0M345.0 240.1h0M386.9 224.4h0M380.8 166.0h0M388.5 232.7h0M369.5 154.0h0M382.8 170.7h0M347.9 192.7h0M380.0 153.1h0M351.0 179.7h0M344.3 216.3h0M367.0 152.0h0M386.1 213.3h0M345.2 202.8h0M344.9 241.1h0M369.1 161.5h0M344.4 240.5h0M383.3 173.2h0M384.2 184.4h0M384.7 198.4h0M386.9 236.3h0M381.4 169.6h0M370.1 156.6h0M387.4 240.8h0M354.0 162.1h0M382.8 181.4h0M346.7 194.4h0M386.5 227.5h0M346.3 204.5h0M345.2 222.3h0M344.3 218.5h0M381.1 162.3h0M381.5 167.5h0M367.4 153.5h0M359.0 155.0h0M344.7 221.4h0M369.8 150.3h0M344.1 229.6h0M381.2 157.9h0M381.1 163.4h0M349.2 182.7h0M345.9 207.1h0M382.2 161.7h0M345.8 204.6h0M344.3 226.1h0M383.3 187.6h0M345.9 214.4h0M345.9 218.0h0M383.8 192.6h0M387.3 239.6h0M346.5 204.5h0M384.0 171.1h0M361.2 150.6h0M388.2 234.5h0M346.2 236.6h0M384.6 180.6h0M382.5 180.9h0M369.3 151.0h0M381.7 171.1h0M358.4 155.4h0M346.8 198.8h0M345.4 231.3h0M386.8 218.8h0M383.3 179.8h0M348.6 186.6h0M381.3 152.9h0M386.9 211.1h0M381.1 150.3h0M354.5 164.6h0M386.4 224.3h0M344.7 213.3h0M384.8 203.2h0M357.8 156.1h0M385.6 208.0h0M385.7 209.0h0M344.7 231.2h0M344.3 230.2h0M344.4 208.3h0M390.8 212.6h0M369.9 153.0h0M353.2 168.2h0M380.6 154.4h0M345.2 223.6h0M386.1 220.1h0M345.8 228.9h0M379.9 157.2h0M387.0 237.5h0M386.5 223.1h0M369.6 160.9h0M344.6 240.4h0M345.5 208.3h0M370.2 154.1h0M389.9 226.6h0M385.3 196.9h0M386.3 195.8h0M347.0 198.6h0M383.5 189.9h0M348.2 191.4h0M386.0 208.7h0M344.1 207.3h0M386.7 236.4h0M351.2 177.2h0M386.6 194.6h0M381.6 169.2h0M354.4 158.7h0M382.7 179.8h0M342.9 217.3h0M348.9 178.7h0M381.7 173.2h0M342.3 227.8h0M361.4 150.8h0M353.3 171.4h0M355.8 159.1h0M369.9 158.4h0M353.6 170.0h0M345.0 209.7h0M355.2 166.6h0M369.0 153.3h0M386.4 208.0h0M386.5 201.6h0M356.4 160.4h0M385.6 206.1h0M355.2 166.9h0M353.9 165.2h0M349.4 181.8h0M360.3 150.5h0M356.8 162.4h0M360.2 153.9h0M385.3 182.2h0M346.1 226.3h0M385.5 195.9h0M383.4 171.5h0M389.6 223.9h0M346.4 210.6h0M383.2 173.4h0M349.3 176.6h0M379.4 151.1h0M367.8 156.6h0M347.9 191.7h0M384.8 200.9h0M381.4 160.0h0M387.2 225.2h0M358.4 155.5h0M345.7 235.5h0M385.0 202.6h0M386.7 231.8h0M346.2 211.4h0M350.7 177.7h0M386.8 224.4h0M386.2 202.4h0M384.2 169.6h0M349.5 185.1h0M360.2 153.0h0M383.4 179.8h0M385.0 204.3h0M386.9 230.9h0M346.9 200.9h0M387.0 229.6h0M347.8 194.5h0M346.6 204.7h0M384.8 164.9h0M384.6 194.8h0M383.8 188.1h0M346.1 210.3h0M354.1 166.6h0M385.8 212.6h0M367.7 154.4h0M352.1 174.7h0M345.3 197.2h0M345.0 207.4h0M353.5 171.0h0M345.8 209.0h0M357.3 161.0h0M381.9 161.1h0M381.7 172.2h0M352.5 175.1h0M386.8 228.3h0M346.1 231.2h0M346.2 241.3h0M381.3 152.0h0M346.7 206.0h0M353.9 170.2h0M351.5 178.0h0M385.0 198.7h0M345.7 206.4h0M370.1 151.8h0M345.7 226.4h0M354.3 168.1h0M382.5 175.8h0M345.8 232.9h0M348.7 189.9h0M346.7 199.6h0M359.7 155.0h0M347.6 183.4h0M388.6 218.3h0M388.7 223.0h0M384.6 192.7h0M385.2 206.9h0M385.5 199.8h0M388.8 230.9h0M386.3 221.2h0M346.1 209.4h0M384.4 198.2h0M348.2 190.6h0M359.5 154.4h0M346.2 206.5h0M386.5 201.1h0M388.6 219.9h0M354.5 166.5h0M381.9 166.2h0M383.3 187.1h0M345.6 230.0h0M385.2 194.3h0M346.0 210.7h0M360.5 152.0h0M346.0 205.3h0M352.8 174.1h0M383.6 180.9h0M386.7 203.7h0M343.5 206.5h0M382.0 165.7h0M354.4 169.5h0M351.8 173.2h0M386.7 218.2h0M342.0 205.2h0M382.0 169.6h0M367.1 153.4h0M370.4 152.8h0M385.3 191.0h0M370.6 151.6h0M354.9 157.9h0M383.9 182.8h0M385.1 204.9h0M383.9 194.1h0M368.5 156.3h0M345.3 217.2h0M344.3 204.4h0M348.5 188.1h0M347.7 193.0h0M381.0 162.1h0M355.1 163.9h0M355.9 164.4h0M384.4 166.5h0M345.9 228.5h0M346.0 218.8h0M350.3 181.2h0M380.8 157.5h0M389.2 240.5h0M369.6 162.1h0M387.0 238.5h0M358.9 153.8h0M358.0 156.5h0M346.2 236.9h0M384.8 180.3h0M387.2 205.0h0M346.1 229.2h0M380.1 155.9h0M346.7 195.7h0M384.6 186.5h0M385.2 198.5h0M346.5 208.5h0M382.9 181.1h0M387.4 226.8h0M380.2 154.9h0M348.8 184.5h0M348.3 191.3h0M386.9 220.0h0M353.6 164.8h0M383.5 183.2h0M345.9 236.2h0M355.2 157.6h0M354.8 166.0h0M367.5 153.3h0M367.6 155.3h0M379.5 151.0h0M346.1 211.5h0M343.3 223.2h0M346.1 214.1h0M353.1 168.4h0M385.9 211.3h0M344.9 234.1h0M354.6 162.6h0M386.5 219.3h0M388.7 241.1h0M386.7 222.3h0M381.9 169.5h0M346.6 205.8h0M353.9 159.4h0M390.1 235.8h0M384.9 192.4h0M344.1 226.5h0M357.8 157.2h0M359.3 156.3h0M354.5 169.1h0M347.1 183.8h0M344.9 224.2h0M347.9 194.4h0M348.5 187.8h0M344.6 201.5h0M348.0 189.8h0M353.5 166.2h0M346.4 204.2h0M345.6 229.6h0M385.6 185.0h0M382.8 179.5h0M386.7 225.0h0M346.5 201.6h0M368.8 156.7h0M346.4 206.5h0M387.4 230.0h0M385.7 189.1h0M380.8 155.5h0M382.7 164.9h0M345.7 239.9h0M386.4 208.2h0M346.5 240.3h0M385.1 206.6h0M388.3 234.5h0M347.2 192.3h0M360.3 151.7h0M386.8 225.1h0M386.6 233.1h0M385.8 209.2h0M382.2 164.8h0M379.9 152.8h0M386.2 210.9h0M380.3 154.8h0M342.2 235.3h0M380.2 155.5h0M388.3 219.8h0M369.4 153.7h0M369.7 153.9h0M346.3 236.1h0M345.7 217.9h0M359.3 150.1h0M385.1 198.5h0M360.0 154.6h0M383.0 180.3h0M348.1 187.1h0M384.6 199.3h0M382.2 173.3h0M345.1 199.1h0M343.3 207.6h0M387.4 234.7h0M349.8 183.9h0M345.4 212.2h0M355.2 160.9h0M344.8 208.2h0M383.2 182.5h0M387.7 234.0h0M382.8 180.4h0M344.7 224.9h0M345.1 237.5h0M386.8 240.2h0M384.2 190.2h0M344.9 230.5h0M346.1 200.2h0M383.6 190.2h0M387.1 220.7h0M381.8 169.5h0M355.0 162.7h0M387.0 218.1h0M385.1 203.2h0M359.4 155.5h0M384.1 185.1h0M343.3 210.1h0M387.4 212.5h0M346.4 199.4h0M359.9 151.0h0M380.0 156.8h0M357.9 157.9h0M345.7 215.0h0M383.0 176.9h0M347.7 195.6h0M358.8 153.8h0M346.8 197.5h0M385.7 204.7h0M346.0 238.7h0M386.2 219.5h0M385.2 188.3h0M344.4 228.4h0M354.3 165.5h0M384.9 195.6h0M369.4 160.0h0M384.8 192.2h0M388.0 235.1h0M384.7 190.1h0M369.7 158.2h0M382.3 158.4h0M346.6 200.9h0M346.2 231.0h0M383.2 176.2h0M387.0 229.4h0M367.0 151.8h0M345.5 240.3h0M385.1 205.6h0M387.0 224.3h0M351.2 177.5h0M347.1 197.7h0M369.3 160.3h0M384.7 199.7h0M381.8 163.7h0M386.0 214.7h0M346.0 224.1h0M346.1 225.9h0M381.3 170.0h0M345.2 180.7h0M383.7 189.2h0M342.7 225.8h0M348.4 179.5h0M369.8 157.7h0M346.9 194.9h0M388.3 235.7h0M382.0 164.0h0M385.3 207.9h0M344.8 227.6h0M383.1 186.3h0M344.6 236.3h0M346.1 213.0h0M381.0 166.7h0M346.3 206.9h0M343.6 201.4h0M386.3 221.1h0M386.8 214.7h0M344.8 228.5h0M381.7 173.2h0M345.0 232.7h0M369.1 153.3h0M381.6 171.9h0M386.4 182.1h0M344.9 235.1h0M350.3 181.5h0M348.0 186.4h0M384.7 179.3h0M382.9 183.8h0M380.1 159.1h0M345.3 226.3h0M383.4 188.1h0M380.7 154.7h0M344.2 208.1h0M380.7 157.9h0M349.6 183.3h0M380.0 157.4h0M368.1 155.4h0M360.6 152.2h0M350.8 177.0h0M345.3 241.4h0M386.2 219.8h0M386.5 228.1h0M382.3 172.9h0M385.2 193.5h0M343.8 224.2h0M386.7 214.7h0M344.8 224.0h0M367.1 152.1h0M387.2 239.6h0M384.0 184.7h0M350.1 179.1h0M349.3 184.6h0M346.2 237.9h0M383.1 180.9h0M357.3 156.5h0M345.0 203.6h0M385.5 202.2h0M355.0 166.8h0M345.9 220.6h0M345.4 209.4h0M388.4 221.4h0M379.5 152.1h0M387.6 200.9h0M354.6 168.4h0M345.6 205.9h0M346.0 217.5h0M347.6 189.7h0M385.0 194.7h0M386.4 228.0h0M345.1 201.1h0M355.3 166.7h0M354.2 167.4h0M369.0 154.3h0M385.6 208.6h0M382.0 175.4h0M351.6 159.6h0M356.5 156.9h0M346.8 201.8h0M344.1 230.8h0M347.1 199.3h0M357.8 157.5h0M351.2 177.7h0M382.6 176.6h0M387.8 230.5h0M384.1 187.9h0M387.2 207.7h0M345.6 219.0h0M386.0 214.5h0M347.9 192.8h0M381.2 159.7h0M345.1 235.1h0M367.7 154.0h0M357.2 160.6h0M357.2 156.4h0M385.7 204.4h0M386.9 215.2h0M345.7 233.9h0M345.6 237.7h0M356.9 160.2h0M384.0 192.1h0M345.8 211.6h0M346.3 207.3h0M386.4 209.3h0M383.2 173.7h0M383.3 185.2h0M344.4 224.8h0M388.5 237.8h0M385.6 197.3h0M352.3 174.9h0M382.9 175.1h0M344.9 201.5h0M387.7 225.6h0M346.3 197.7h0M367.4 151.3h0M386.9 237.8h0M347.6 196.4h0M386.1 219.9h0M386.6 210.3h0M346.1 205.5h0M346.0 199.4h0M368.5 159.3h0M346.1 235.3h0M353.6 164.2h0M386.1 216.6h0M386.0 209.9h0M346.1 240.0h0M358.7 157.2h0M369.0 152.8h0M382.0 176.2h0M380.8 162.0h0M386.4 229.1h0M345.4 218.3h0M349.3 182.2h0M369.4 158.5h0M387.1 205.5h0M357.9 158.7h0M387.9 217.2h0M385.1 196.5h0M345.6 212.3h0M384.3 183.2h0M385.2 197.7h0M349.8 183.6h0M350.5 181.2h0M382.7 167.0h0M382.2 167.2h0M357.4 159.3h0M342.6 205.0h0M385.5 203.0h0M345.7 215.8h0M345.7 204.0h0M344.7 235.2h0M382.4 177.5h0M346.1 203.4h0M386.2 193.2h0M383.9 184.8h0M382.1 161.6h0M386.9 237.9h0M380.8 163.5h0M345.5 221.5h0M384.3 198.4h0M388.7 239.0h0M354.6 165.3h0M387.7 225.2h0M380.5 151.3h0M382.7 178.6h0M385.0 196.3h0M385.1 206.8h0M345.5 207.5h0M346.4 238.2h0M359.2 156.4h0M367.7 155.8h0M385.4 189.7h0M389.2 233.9h0M369.1 160.5h0M345.7 200.1h0M381.2 160.0h0M387.7 222.0h0M384.0 194.5h0M389.7 213.5h0M344.5 210.2h0M346.0 198.4h0M380.3 156.4h0M345.9 228.8h0M352.7 174.5h0M389.7 234.4h0M386.5 214.0h0M367.8 153.9h0M367.6 155.9h0M380.6 162.8h0M379.9 153.4h0M386.7 225.6h0M380.1 156.1h0" stroke="#8b8a8b" stroke-width="1.20" stroke-linecap="round" fill="none"/>
<path d="M377.5 112.5h0M377.6 125.8h0M378.2 135.6h0M367.7 146.0h0M370.3 139.8h0M373.1 115.8h0M361.8 148.9h0M362.3 147.9h0M376.6 114.1h0M371.3 127.1h0M380.1 139.6h0M372.7 128.8h0M365.5 138.0h0M363.8 141.3h0M377.3 117.0h0M363.3 139.9h0M366.9 146.8h0M369.6 149.5h0M378.5 126.1h0M379.4 131.9h0M380.3 117.8h0M361.9 148.2h0M365.5 143.1h0M378.7 143.9h0M369.4 127.8h0M372.1 128.1h0M379.2 149.7h0M373.2 117.0h0M372.7 119.3h0M367.3 147.0h0M378.3 123.8h0M378.2 132.3h0M370.1 145.1h0M362.2 144.9h0M361.0 149.0h0M378.8 122.6h0M379.7 146.8h0M371.6 128.0h0M369.1 131.7h0M378.1 131.2h0M378.7 140.6h0M362.8 142.9h0M370.5 145.7h0M380.9 145.7h0M371.7 115.0h0M372.0 136.8h0M369.8 147.3h0M371.7 140.5h0M377.3 123.4h0M362.7 145.7h0M373.7 115.8h0M360.5 147.9h0M371.1 146.8h0M366.2 145.3h0M379.2 143.4h0M370.7 142.3h0M377.7 116.0h0M378.7 142.7h0M379.1 142.1h0M370.9 142.9h0M379.2 147.4h0M377.3 119.0h0M377.0 113.9h0M371.4 133.4h0M363.6 142.6h0M371.5 138.2h0M362.4 147.6h0M370.9 146.0h0M365.6 144.9h0M370.3 125.4h0M370.5 145.2h0M377.2 114.7h0M370.3 149.9h0M360.0 146.7h0M370.4 132.5h0M379.5 149.7h0M369.8 123.6h0M378.3 125.0h0M378.8 147.7h0M362.9 143.3h0M369.3 133.1h0M371.8 128.1h0M377.7 127.5h0M372.1 120.4h0M377.3 117.3h0M380.1 132.0h0M378.0 129.1h0M362.7 145.0h0M378.5 143.3h0M371.7 132.9h0M372.8 115.0h0M378.4 117.7h0M361.6 148.0h0M362.4 147.7h0M377.2 124.3h0M371.3 143.7h0M369.9 149.9h0M368.6 140.3h0M364.3 140.0h0M379.4 148.8h0M379.4 141.7h0M371.4 120.0h0M377.4 129.7h0M373.7 115.1h0M379.3 141.5h0M362.3 140.3h0M378.4 142.7h0M372.1 125.5h0M367.1 149.6h0M378.8 119.9h0M372.8 125.7h0M373.5 116.7h0M370.0 136.0h0M361.9 145.2h0M362.0 146.4h0M384.3 116.0h0M370.8 133.2h0M365.8 145.9h0M382.1 149.9h0M379.6 136.7h0M378.9 139.0h0M377.8 137.2h0M370.6 122.1h0M372.6 114.6h0M372.5 125.2h0M369.6 148.1h0M381.5 149.5h0M362.2 144.1h0M371.9 133.8h0M370.6 149.7h0M378.9 127.9h0M379.6 146.7h0M371.3 135.4h0M377.8 130.2h0M370.9 146.1h0M377.5 118.6h0M365.9 143.8h0M379.0 146.5h0M361.8 143.1h0M371.1 147.0h0M366.5 147.5h0M363.4 142.8h0M372.9 118.7h0M373.9 112.4h0M369.9 148.3h0M377.2 115.5h0M377.5 129.1h0M378.7 142.6h0M371.2 142.3h0M362.1 141.6h0M371.1 140.5h0M371.3 141.4h0M373.8 115.0h0M377.4 116.7h0M378.0 126.5h0M370.9 137.6h0M365.6 141.1h0M379.0 124.5h0M367.0 147.3h0M378.1 135.9h0M372.9 122.5h0M370.0 127.2h0M370.7 119.2h0M372.0 128.5h0M371.5 141.0h0M361.3 148.0h0M371.6 127.0h0M370.7 140.3h0M371.3 142.2h0M370.2 134.6h0M379.8 142.4h0M381.6 147.9h0M378.0 130.6h0M372.4 119.0h0M361.7 147.2h0M378.3 131.2h0M379.7 130.6h0M367.6 149.0h0M371.4 136.7h0M372.1 116.9h0M372.2 135.6h0M379.3 138.3h0M373.5 114.3h0M371.6 139.9h0M377.8 138.4h0M361.8 149.7h0M363.8 144.1h0M372.7 116.2h0M372.0 137.8h0M371.3 130.2h0M371.7 119.8h0M378.9 142.2h0M377.9 136.4h0M363.7 141.8h0M376.8 116.5h0M367.8 149.8h0M372.6 126.0h0M362.4 142.6h0M377.8 127.9h0M368.3 149.8h0M377.0 122.3h0M378.4 136.9h0M370.8 139.6h0M366.6 149.2h0M369.1 127.7h0M372.3 134.2h0M364.3 141.7h0M382.2 131.5h0M362.7 147.2h0M372.7 125.5h0M378.7 146.0h0M360.5 149.1h0M377.0 116.1h0M359.8 148.8h0M373.7 116.8h0M377.7 120.4h0M372.5 125.1h0M372.0 126.0h0M362.5 146.3h0M372.5 119.1h0M370.7 148.2h0M378.5 114.4h0M378.0 128.9h0M377.9 137.5h0M377.6 128.8h0M378.6 131.0h0M363.3 140.4h0M379.3 119.4h0M373.8 114.1h0M372.3 123.7h0M377.8 121.7h0M362.8 144.0h0M372.2 126.8h0M377.0 121.6h0M379.2 146.3h0M372.5 126.9h0M372.3 120.7h0M370.8 146.2h0M371.8 139.7h0M371.5 137.6h0M377.6 118.4h0M372.3 117.5h0M370.3 141.0h0M374.0 112.8h0M372.6 114.6h0M372.0 133.7h0M373.3 121.5h0M368.6 149.3h0M376.9 113.5h0M369.8 129.4h0M361.2 147.9h0M365.4 140.6h0M381.5 144.2h0M371.5 123.0h0M377.5 119.4h0M372.1 123.7h0M370.8 144.3h0M378.1 124.6h0M361.2 144.9h0M367.2 149.1h0M378.2 140.3h0M372.5 118.1h0M376.6 117.1h0M364.8 141.5h0M376.7 112.4h0M380.6 136.3h0M372.9 120.4h0M379.1 145.4h0M372.1 123.1h0M377.4 118.2h0M362.9 145.0h0M378.1 133.3h0M371.6 140.2h0M362.6 146.0h0M371.5 142.9h0M373.6 112.1h0M378.3 122.3h0M379.3 130.2h0M371.1 143.6h0M379.3 146.9h0M378.1 140.2h0M378.2 112.5h0M373.3 119.6h0M364.7 142.1h0M371.9 134.3h0M365.2 142.8h0" stroke="#a8928a" stroke-width="1.10" stroke-linecap="round" fill="none"/>
<path d="M374.6 98.9h0M374.0 87.0h0M374.1 87.6h0M374.3 79.3h0M375.5 74.3h0M376.0 72.3h0M373.8 89.4h0M375.4 101.0h0M377.2 69.5h0M375.0 88.9h0M375.0 76.3h0M375.7 68.6h0M376.7 81.7h0M375.1 96.0h0M375.5 87.3h0M375.8 92.4h0M372.8 72.1h0M374.4 103.3h0M375.0 81.5h0M375.4 99.9h0M374.6 84.0h0M375.5 83.6h0M375.7 97.5h0M375.8 82.3h0M374.1 102.0h0M373.4 92.0h0M376.5 85.5h0M373.7 80.7h0M375.0 72.0h0M375.7 83.8h0M374.0 93.6h0M374.3 102.4h0M373.8 100.0h0M376.6 69.5h0M373.8 70.2h0M376.4 72.1h0M375.9 85.4h0M375.2 75.5h0M375.8 89.4h0M377.4 101.2h0M375.5 80.7h0M375.0 79.8h0M376.1 98.8h0M375.8 100.4h0M374.9 80.0h0M374.3 79.1h0M376.4 85.1h0M376.0 99.3h0M374.0 100.3h0M374.1 89.8h0M375.4 93.0h0M375.3 72.1h0M374.4 69.3h0M374.2 77.1h0M375.7 72.3h0" stroke="#c09a8a" stroke-width="1.20" stroke-linecap="round" fill="none"/>
<path d="M372.0 233.8h0M367.9 149.3h0M355.0 171.8h0M358.6 197.1h0M351.9 160.6h0M387.8 154.8h0M357.3 219.1h0M352.9 237.2h0M377.6 228.1h0M348.7 212.8h0M377.6 206.2h0M378.4 204.7h0M355.8 167.6h0M358.7 178.3h0M348.6 204.7h0M376.2 224.2h0M387.1 196.0h0M352.3 219.5h0M349.8 183.9h0M351.9 163.4h0M373.3 226.3h0M385.1 151.0h0M366.1 135.1h0M382.3 136.5h0M360.8 149.3h0M357.6 234.0h0M380.4 235.6h0M360.2 239.2h0M377.1 236.5h0M357.2 198.6h0M366.9 183.6h0M374.5 175.0h0M356.4 185.3h0M366.2 136.4h0M351.4 186.4h0M373.3 236.5h0M363.2 148.6h0M355.1 196.1h0M359.2 138.1h0M387.6 181.1h0M355.6 155.8h0M364.9 235.8h0M353.7 213.9h0M355.0 203.5h0M380.8 160.7h0M365.6 227.2h0M373.7 171.0h0M369.3 167.2h0M351.5 170.1h0M385.4 193.7h0M386.5 227.4h0M375.1 238.9h0M365.4 226.2h0M351.1 220.8h0M385.9 148.9h0M358.9 153.0h0M361.2 226.7h0M386.9 157.8h0M387.1 154.4h0M387.6 187.6h0M349.8 235.1h0M385.1 177.9h0M382.2 230.1h0M379.5 226.7h0M375.9 238.3h0M384.7 211.9h0M350.5 238.9h0M366.2 202.9h0M362.0 203.5h0M356.6 195.8h0M351.2 154.7h0M357.8 223.9h0M360.5 222.4h0M374.4 177.9h0M384.7 155.1h0M374.3 146.4h0M354.7 189.8h0M383.4 208.8h0M351.0 179.3h0M386.7 233.7h0M366.9 147.4h0M374.7 142.6h0M354.4 138.4h0M350.5 238.0h0M375.6 143.7h0M351.1 222.7h0M382.9 206.6h0M365.6 215.5h0M372.5 201.7h0M363.7 215.0h0M370.5 203.0h0M380.9 216.2h0M384.8 232.1h0M353.8 215.9h0M359.2 214.5h0M377.8 136.8h0M359.9 238.1h0M369.0 173.2h0M362.6 234.8h0M352.6 222.1h0M368.4 221.4h0M382.8 214.3h0M369.5 148.4h0M363.0 140.8h0M364.9 226.1h0M386.7 232.1h0M369.4 195.0h0M352.5 153.0h0M387.0 182.1h0M357.1 214.7h0M382.6 178.3h0M355.9 205.2h0M363.3 161.6h0M356.1 136.6h0M368.8 223.1h0M379.4 228.3h0M361.5 203.6h0M362.6 144.2h0M368.8 199.4h0M376.4 191.2h0M350.2 177.8h0M354.2 178.3h0M383.7 190.0h0M371.8 180.9h0M374.1 216.8h0M378.0 238.1h0M367.4 147.1h0M355.0 160.0h0M365.1 185.6h0M356.0 157.7h0M373.0 202.5h0M373.4 201.4h0M362.3 181.9h0M380.8 169.8h0M367.3 178.5h0M363.5 212.6h0M358.2 192.9h0M356.8 193.5h0M376.8 164.8h0M373.6 155.4h0M377.7 225.0h0M382.2 144.4h0M386.1 233.2h0M385.2 192.5h0M352.8 172.1h0M366.1 158.1h0M372.5 202.3h0M355.7 152.9h0M367.5 223.0h0M382.2 146.7h0M374.0 204.9h0M356.1 238.3h0M349.5 222.1h0M385.8 209.5h0M381.0 173.4h0M378.8 201.4h0M382.9 191.5h0M359.4 155.1h0M354.0 201.2h0M377.4 179.2h0M350.4 172.0h0M350.9 162.5h0M381.4 239.4h0M382.0 179.1h0M377.7 207.2h0M374.1 195.3h0M382.0 200.2h0M356.3 179.0h0M364.3 232.5h0M348.2 154.6h0M357.1 204.4h0M381.0 148.9h0M367.1 169.4h0M350.2 171.5h0M353.1 158.0h0M352.8 227.1h0M373.3 161.9h0M383.7 200.6h0M355.8 188.4h0M357.2 145.8h0M363.9 180.1h0M357.1 151.5h0M349.9 198.8h0M387.1 144.9h0M360.5 185.9h0M348.8 222.4h0M354.8 187.3h0M353.1 207.0h0M374.9 221.5h0M374.1 181.5h0M364.4 214.7h0M367.7 203.9h0M359.3 173.9h0M357.6 217.8h0M384.5 159.9h0M377.9 220.9h0M375.1 159.5h0M355.0 179.4h0M352.9 212.1h0M384.8 155.5h0M362.2 188.0h0M368.1 161.2h0M375.2 176.7h0M376.6 211.8h0M350.8 220.0h0M372.4 175.5h0M377.8 155.0h0M354.3 203.1h0M359.7 139.0h0M370.1 170.8h0M370.4 176.5h0M366.7 152.2h0M358.8 221.9h0M350.2 226.3h0M354.4 143.8h0M368.2 165.8h0M365.6 230.3h0M357.9 190.9h0M352.2 168.5h0M351.3 147.3h0M368.9 186.3h0M351.5 193.4h0M350.3 229.1h0M370.7 188.7h0M357.5 214.2h0M375.6 152.3h0M368.5 235.3h0M380.2 151.0h0M355.5 177.3h0M373.2 204.5h0M351.7 147.6h0M362.0 197.9h0M382.9 160.5h0M363.5 193.7h0M355.6 140.6h0M384.3 172.1h0M370.7 224.8h0M360.3 193.9h0M381.9 174.5h0M376.0 202.3h0M385.0 159.5h0M354.4 214.2h0M381.4 175.1h0M369.2 174.3h0M361.2 151.8h0M349.9 241.0h0M370.3 225.1h0M353.1 194.8h0M381.9 175.9h0M354.2 172.3h0M384.3 220.1h0M356.7 215.5h0M353.9 226.3h0M359.2 234.9h0M360.1 235.1h0M361.2 160.0h0M381.9 219.5h0M357.4 223.2h0M351.2 190.5h0M363.6 153.7h0M374.4 184.5h0M352.5 192.3h0M374.6 166.3h0M360.9 183.6h0M383.7 158.4h0M363.6 146.9h0M382.0 201.2h0M382.3 206.8h0M349.1 169.0h0M357.8 139.0h0M386.6 200.2h0M386.9 185.4h0M384.5 150.1h0M353.1 186.9h0M371.0 227.6h0M372.6 172.7h0M369.4 187.7h0M383.3 233.6h0M377.6 160.4h0M356.5 187.7h0M383.6 216.7h0M356.8 213.8h0M349.2 156.4h0M365.4 138.3h0M350.3 201.5h0M378.0 166.5h0M378.4 142.6h0M372.2 174.1h0M384.0 224.3h0M361.4 200.3h0M387.2 148.6h0M386.3 145.3h0M385.4 204.0h0M374.5 189.4h0M376.7 209.8h0M374.5 231.1h0M368.1 158.4h0M359.2 162.5h0M365.1 152.1h0M377.8 150.9h0M387.9 198.2h0M387.2 224.9h0M377.1 149.6h0M357.3 170.5h0M369.9 186.9h0M349.9 163.3h0M384.0 192.5h0M358.0 166.5h0M374.7 186.3h0M351.5 138.3h0M361.5 152.1h0M353.6 212.3h0M360.0 236.1h0M359.4 188.2h0M372.7 142.3h0M374.3 215.8h0M379.4 219.1h0M364.5 161.0h0M369.5 141.7h0M376.7 208.6h0M364.8 148.0h0M382.9 225.0h0M381.9 206.0h0M387.1 147.5h0M379.3 195.3h0M376.8 217.5h0M384.3 234.7h0M366.1 141.3h0M362.6 241.0h0M351.8 142.4h0M386.3 210.7h0M378.8 191.4h0M364.5 145.8h0M351.5 215.9h0M387.7 226.0h0M360.3 222.6h0M365.2 160.4h0M377.0 158.0h0M369.2 204.0h0M365.4 153.0h0M359.3 169.8h0M373.3 138.2h0M382.3 222.1h0M379.9 225.8h0M355.0 228.5h0M356.3 194.8h0M359.2 156.8h0M355.3 234.8h0M351.1 169.7h0M353.4 177.7h0M359.4 197.3h0M349.8 137.0h0M369.7 215.1h0M355.5 138.5h0M352.2 146.8h0M356.0 135.0h0M368.7 213.8h0M370.2 135.1h0M357.9 200.3h0M367.8 231.9h0M386.4 167.1h0M377.4 207.7h0M366.2 238.8h0M358.1 182.7h0M374.1 158.7h0M368.8 205.0h0M348.3 223.3h0M364.2 208.4h0M353.4 142.6h0M382.0 191.5h0M372.7 204.8h0M387.5 137.7h0M363.2 185.0h0M381.9 162.8h0M387.2 200.5h0M376.0 170.1h0M355.8 168.6h0M367.5 162.3h0M382.9 198.9h0M370.0 190.7h0M353.3 182.1h0M360.8 154.7h0M349.9 197.4h0M368.3 144.8h0M358.7 172.5h0M358.8 161.3h0M363.4 156.2h0M359.6 184.9h0M354.2 185.6h0M360.8 186.8h0M362.5 157.3h0M358.1 173.3h0M361.2 164.8h0M360.3 183.6h0M373.2 141.0h0M350.2 200.2h0M351.6 202.5h0M355.9 200.3h0M357.9 204.5h0M365.1 145.2h0M354.8 178.6h0M360.4 180.4h0M356.9 202.9h0M353.5 200.3h0M372.0 151.6h0M350.0 189.6h0M361.8 179.6h0M357.8 203.0h0M350.9 196.9h0M360.5 177.9h0M366.5 153.1h0M351.3 189.5h0M362.5 174.8h0M353.3 176.3h0M373.5 146.0h0M355.1 198.4h0M361.9 157.8h0M357.3 188.1h0M353.2 178.9h0M354.8 171.1h0M367.5 161.9h0M366.3 149.0h0M368.5 160.7h0M351.7 190.9h0M356.5 176.5h0M354.5 188.0h0M353.8 197.3h0M352.1 186.0h0M364.4 142.8h0M357.5 189.1h0M365.9 143.9h0M354.5 199.7h0M357.6 194.5h0M350.5 199.5h0M364.3 148.8h0M360.1 172.6h0M357.5 203.4h0M360.8 167.2h0M363.5 164.5h0M364.5 149.6h0M353.7 173.2h0M363.0 146.9h0M353.4 182.9h0M358.5 172.5h0M357.1 188.1h0M353.1 204.6h0M358.9 176.2h0M362.8 159.8h0M373.7 144.4h0M357.9 195.1h0M354.7 202.3h0M349.5 203.2h0M369.7 153.1h0M357.3 166.7h0M373.9 141.9h0M361.9 162.8h0M358.2 172.0h0M358.9 201.6h0M362.2 164.4h0M349.4 197.1h0M349.4 203.8h0M356.3 198.3h0M356.2 167.7h0M349.8 197.1h0M354.2 177.0h0M354.6 201.8h0M358.6 164.8h0M355.1 199.8h0M352.7 181.1h0M365.4 143.6h0M365.9 160.8h0M368.8 153.7h0M355.0 203.4h0M358.9 177.6h0M352.5 194.6h0M362.4 169.8h0M357.9 194.8h0M351.0 204.5h0M362.9 154.8h0M348.8 201.5h0M360.7 157.7h0M358.3 193.1h0M358.9 165.7h0M354.0 186.4h0M358.0 182.5h0M364.7 140.9h0M369.7 145.7h0M360.3 173.0h0M358.2 185.0h0M350.4 204.2h0M358.4 194.1h0M354.0 191.0h0M373.3 147.8h0M353.5 185.2h0M359.7 172.2h0M363.5 174.5h0M350.7 203.3h0M368.2 149.3h0M363.3 174.6h0M356.7 183.2h0M356.5 180.5h0M358.9 173.3h0M370.8 141.3h0M362.3 163.1h0M356.3 180.9h0M359.8 173.1h0M351.1 182.6h0M359.1 193.3h0M361.4 169.1h0M360.7 183.8h0M356.5 179.9h0M364.9 143.2h0M353.7 183.3h0M360.0 167.7h0M367.7 154.8h0M364.7 162.8h0M364.4 169.9h0M360.5 154.0h0M350.1 192.4h0M372.6 146.8h0M362.7 150.0h0M363.3 161.8h0M350.1 190.7h0M350.4 198.9h0M361.6 174.4h0M353.3 204.7h0M366.3 159.8h0M356.7 174.1h0M352.4 187.3h0M349.5 202.2h0M357.1 183.9h0M369.4 145.9h0M356.8 182.4h0M365.0 149.7h0M361.1 178.2h0M362.2 157.8h0M359.8 194.6h0M356.5 198.3h0M370.1 140.7h0M356.8 171.6h0M371.5 148.2h0M358.5 165.6h0M357.2 165.4h0M357.0 169.4h0M361.2 169.3h0M357.9 178.0h0M356.8 174.0h0M359.1 163.5h0M365.1 158.4h0M366.9 156.7h0M370.4 141.4h0M360.5 190.2h0M357.4 187.1h0M350.6 184.2h0M352.7 194.2h0M366.0 162.7h0M359.3 166.0h0M371.1 152.3h0M367.7 161.1h0M363.6 175.5h0M354.8 180.7h0M365.3 169.5h0M352.1 202.1h0M369.1 158.6h0M353.4 200.1h0M357.0 181.8h0M367.9 141.0h0M351.0 198.8h0M352.2 194.8h0M358.6 178.8h0M361.0 182.4h0M356.2 181.8h0M352.6 186.9h0M372.3 149.7h0M357.5 197.3h0M364.2 157.9h0M359.1 171.8h0M363.1 148.3h0M362.1 172.5h0M365.2 148.3h0M357.9 183.9h0M353.1 174.6h0M363.0 157.5h0M366.2 143.7h0M364.1 159.8h0M357.3 199.2h0M364.7 154.0h0M354.0 185.4h0M355.6 170.0h0M372.6 141.6h0M351.2 187.7h0M356.6 191.2h0M350.3 187.9h0M351.1 193.4h0M355.4 191.7h0M369.1 145.7h0M356.9 202.4h0M353.3 198.1h0M364.9 156.0h0M369.2 157.4h0M349.0 198.8h0M372.5 150.1h0M355.5 172.3h0M357.0 192.9h0M350.6 196.1h0M362.4 155.8h0M359.4 177.6h0M360.4 179.4h0M369.0 145.9h0M350.6 190.7h0M362.7 176.2h0M351.6 201.8h0M370.6 151.0h0M350.3 193.5h0M353.9 203.3h0M360.3 186.0h0M352.4 201.1h0M370.4 155.6h0M366.5 164.0h0M360.5 189.3h0M359.3 200.5h0M359.3 159.7h0M371.3 146.6h0M350.0 198.0h0M355.0 196.5h0M359.4 171.9h0M366.4 147.1h0M361.9 164.1h0M357.1 181.4h0M362.2 164.5h0M369.9 144.9h0M363.8 144.4h0M360.8 157.1h0M363.4 165.0h0M360.0 166.6h0M365.3 165.6h0M353.3 190.2h0M359.3 197.5h0M356.0 175.5h0M358.8 187.7h0M365.9 161.7h0M371.2 153.4h0M356.3 175.0h0M358.5 180.5h0M356.0 202.9h0M363.9 158.2h0M360.0 162.7h0M350.9 195.4h0M364.1 148.5h0M368.6 142.5h0M364.2 162.0h0M369.9 147.6h0M366.5 143.7h0M360.7 169.5h0M355.5 174.5h0M366.8 163.0h0M366.3 162.2h0M368.0 143.4h0M351.9 184.3h0M358.4 168.5h0M373.2 140.2h0M351.6 185.4h0M372.1 145.1h0M356.0 174.0h0M363.8 147.5h0M356.6 200.5h0M352.3 178.9h0M355.4 167.6h0M350.0 196.3h0M371.0 148.5h0M355.9 197.4h0M351.9 188.9h0M364.9 160.9h0M367.3 153.2h0M355.4 175.6h0M352.8 184.3h0M355.6 166.4h0M349.6 198.8h0M356.6 193.4h0M364.2 164.6h0" stroke="#c99686" stroke-width="1.00" stroke-linecap="round" fill="none"/>
<path d="M369.4 136.5h0M369.3 148.8h0M369.4 154.6h0M365.8 142.1h0M362.9 134.8h0M364.0 157.2h0M364.2 119.0h0M363.6 138.8h0M364.1 138.6h0M369.9 137.4h0M365.8 130.2h0M363.0 131.6h0M362.7 123.6h0M369.9 127.2h0M368.3 137.2h0M369.7 121.5h0M362.1 136.6h0M363.2 145.4h0M364.3 160.0h0M364.0 117.4h0M368.6 148.7h0M369.2 159.7h0M368.1 126.2h0M370.3 125.6h0M370.2 151.2h0M367.9 123.8h0M367.4 122.3h0M370.6 144.6h0M370.4 133.4h0M370.8 116.3h0M370.0 144.1h0M365.8 153.9h0M368.6 138.6h0M367.1 155.9h0M364.0 115.8h0M369.2 131.6h0M363.2 121.9h0M364.0 156.9h0M366.5 155.2h0M367.2 128.3h0M363.7 157.3h0M367.3 153.4h0M363.5 116.7h0M363.4 125.9h0M362.9 146.0h0M368.6 120.7h0M369.6 133.8h0M370.9 137.8h0M364.5 138.8h0M365.8 157.6h0M368.5 155.9h0M368.1 130.2h0M368.2 149.4h0M368.0 148.3h0M366.9 142.0h0M364.0 151.8h0M366.5 133.0h0M369.4 118.5h0M364.6 139.5h0M366.3 146.0h0M366.2 127.7h0M365.6 158.2h0M364.3 139.6h0M364.6 129.8h0M367.7 128.3h0M365.3 132.9h0M364.4 133.3h0M370.3 155.5h0M367.6 130.1h0M363.1 155.7h0M366.5 140.0h0M370.5 132.8h0M366.3 122.3h0M364.2 159.1h0M364.7 159.4h0M367.3 146.2h0M363.6 117.7h0M368.3 157.0h0M365.5 119.3h0M366.3 155.0h0M367.1 142.6h0M369.8 139.4h0M367.1 140.0h0M368.0 122.9h0M368.0 141.2h0M369.5 157.3h0M369.4 122.3h0M367.0 143.4h0M363.3 145.9h0M363.5 128.4h0" stroke="#f3ddd4" stroke-width="1.10" stroke-linecap="round" fill="none"/>
<path d="M344.6 125.5h0M350.6 97.9h0M352.9 126.2h0M343.8 82.6h0M340.9 156.8h0M353.4 113.9h0M351.0 98.8h0M353.9 110.8h0M351.6 100.9h0M346.6 142.5h0M340.7 136.4h0M347.7 115.3h0M333.4 103.2h0M349.1 143.3h0M351.6 115.0h0M344.6 80.6h0M349.6 100.5h0M347.7 150.8h0M351.4 103.9h0M340.6 127.1h0M351.3 138.4h0M347.2 124.5h0M342.6 117.9h0M354.0 111.7h0M338.3 90.0h0M352.6 106.0h0M336.9 102.1h0M331.5 88.3h0M342.8 71.1h0M341.3 101.5h0M349.1 120.6h0M345.2 109.7h0M346.7 97.9h0M340.5 154.5h0M341.9 91.1h0M349.9 129.7h0M345.6 109.7h0M349.0 146.4h0M353.8 120.5h0M344.4 152.2h0M343.9 73.0h0M346.9 134.3h0M341.3 160.6h0M339.6 167.1h0M346.4 136.2h0M347.0 117.0h0M342.5 143.6h0M351.8 102.1h0M349.1 129.9h0M343.2 128.6h0M346.0 110.3h0M338.4 142.3h0M340.9 112.8h0M335.6 90.4h0M343.2 129.3h0M350.5 95.7h0M342.5 132.7h0M345.9 126.5h0M343.1 97.4h0M352.7 130.5h0M350.1 133.2h0M351.6 129.3h0M342.5 140.8h0M341.3 168.7h0M343.4 148.5h0M344.1 94.0h0M344.9 105.5h0M341.7 102.8h0M344.2 111.3h0M339.0 124.3h0M342.2 144.9h0M339.1 79.2h0M340.8 154.8h0M343.4 138.6h0M342.9 170.4h0M355.4 120.8h0M348.2 133.2h0M345.3 139.0h0M345.2 140.0h0M342.6 134.3h0M338.2 109.8h0M342.7 101.8h0M343.0 153.4h0M347.8 96.7h0M342.6 138.6h0M345.2 134.0h0M345.5 120.1h0M355.5 121.2h0M342.2 114.2h0M346.0 144.5h0M340.5 112.6h0M352.1 136.6h0M342.4 145.2h0M349.0 97.2h0M353.6 129.7h0M341.7 159.2h0M342.0 136.8h0M344.8 132.9h0M350.5 125.3h0M350.9 119.2h0M354.5 127.0h0M349.0 101.4h0M345.7 82.7h0M346.7 98.3h0M346.7 113.1h0M341.7 147.5h0M347.5 134.5h0M344.0 117.8h0M347.5 145.8h0M352.7 133.6h0M347.6 145.4h0M348.3 84.7h0M346.1 93.3h0M346.7 154.0h0M350.8 123.1h0M343.4 77.8h0M347.0 148.9h0M347.1 135.9h0M347.5 142.7h0M354.3 119.1h0M351.2 138.7h0M350.9 120.8h0M349.2 143.8h0M342.8 151.0h0M346.9 103.2h0M345.8 104.9h0M340.9 165.0h0M345.0 76.4h0M347.6 105.1h0M348.2 145.0h0M340.8 129.0h0M352.8 115.7h0M347.6 150.0h0M345.2 97.3h0M348.7 97.8h0M349.9 106.0h0M352.4 133.9h0M353.2 112.2h0M345.2 127.0h0M344.1 91.6h0M339.6 92.2h0M355.5 118.9h0M343.4 133.4h0M348.5 143.9h0M351.4 108.8h0M343.2 122.9h0M342.6 142.0h0M346.2 136.3h0M340.1 80.6h0M343.9 125.4h0M351.3 99.7h0M349.5 124.0h0M341.9 71.4h0M340.8 156.2h0M351.6 132.7h0M352.3 104.6h0M340.9 127.0h0M345.5 89.0h0M344.4 128.8h0M340.5 152.1h0M355.4 113.7h0M345.7 159.8h0M344.6 150.8h0M349.9 97.9h0M351.6 114.4h0M346.8 154.9h0M351.2 127.4h0M347.8 97.7h0M351.4 106.0h0M344.1 131.4h0M353.9 114.4h0M346.6 108.6h0M346.1 135.9h0M338.6 117.7h0M346.4 143.8h0M346.4 155.0h0M351.9 129.0h0M350.1 95.5h0M350.3 112.6h0M343.1 117.7h0M345.4 83.3h0M346.8 112.0h0M347.9 152.1h0M340.6 168.0h0M350.3 106.6h0M351.2 127.4h0M345.9 154.1h0M344.5 156.1h0M344.8 100.9h0M352.9 130.3h0M346.6 150.6h0M346.7 109.0h0M346.3 142.1h0M350.5 97.4h0M334.4 96.4h0M328.2 93.7h0M345.0 105.6h0M352.8 131.0h0M342.8 150.5h0M351.2 118.2h0M339.4 124.0h0M337.6 130.1h0M343.9 163.2h0M347.6 129.8h0M353.3 130.1h0M349.0 121.4h0M342.6 169.0h0M345.7 106.5h0M352.0 131.0h0M348.5 144.7h0M352.3 130.0h0M347.5 146.3h0M354.8 114.3h0M342.8 106.1h0M348.2 141.7h0M343.9 89.6h0M350.2 104.1h0M339.4 109.0h0M342.7 168.3h0M340.0 119.0h0M343.0 95.3h0M348.7 109.0h0M355.2 114.0h0M332.3 120.2h0M342.3 113.5h0M353.3 109.8h0M350.4 141.0h0M345.7 107.3h0M347.9 152.3h0M343.6 139.2h0M341.3 165.5h0M346.7 87.9h0M350.1 120.8h0M347.7 104.7h0M344.5 105.6h0M340.3 92.4h0M340.1 84.8h0M347.9 127.6h0M340.1 148.0h0M339.8 84.4h0M347.0 139.0h0M341.6 95.8h0M350.1 111.7h0M347.4 83.3h0M348.3 136.2h0M353.7 125.0h0M339.2 116.7h0M351.0 109.5h0M349.1 130.4h0M349.3 123.4h0M344.4 74.1h0M348.2 101.3h0M338.0 111.1h0M351.0 94.8h0M349.1 140.1h0M350.8 102.6h0M347.8 97.2h0M350.0 138.2h0M343.9 106.6h0M348.6 112.7h0M351.0 95.9h0M351.6 117.6h0M340.6 72.8h0M349.1 145.8h0M342.6 164.3h0M342.9 96.4h0M350.7 110.3h0M349.5 105.0h0M345.7 136.0h0M353.3 121.0h0M347.1 134.5h0M348.3 133.2h0M341.5 157.1h0M341.2 141.9h0M342.1 113.0h0M348.2 107.1h0M349.1 134.5h0M343.0 158.6h0M343.2 164.1h0M347.9 134.1h0M342.2 136.5h0M350.9 134.8h0M332.5 62.9h0M348.2 100.2h0M346.7 109.0h0M349.2 139.6h0M341.0 92.2h0M347.0 141.3h0M346.2 133.9h0M341.3 118.8h0M349.7 116.3h0M345.4 95.5h0M348.0 139.9h0M344.1 164.0h0M349.6 127.5h0M344.7 160.3h0M349.4 141.7h0M345.3 104.5h0M342.9 127.9h0M352.3 112.4h0M347.2 132.1h0M349.6 132.7h0M349.8 109.5h0M347.0 145.6h0M348.9 137.1h0M351.0 128.4h0M350.6 102.3h0M344.7 156.5h0M348.8 95.7h0M332.3 119.0h0M355.3 119.9h0M346.9 146.0h0M348.8 132.8h0M344.0 131.0h0M353.1 128.6h0M329.4 81.0h0M345.9 153.0h0M347.2 90.9h0M345.3 118.0h0M341.8 115.3h0M346.4 119.9h0M347.4 150.9h0M352.6 128.4h0M343.4 111.0h0M350.5 141.0h0M346.1 156.5h0M331.1 170.0h0M342.5 129.4h0M346.7 127.1h0M341.4 171.9h0M341.7 144.9h0M342.9 84.1h0M341.8 141.4h0M342.3 142.9h0M349.7 139.5h0M342.3 135.9h0M343.8 148.8h0M354.3 125.0h0M354.7 116.9h0M347.3 142.1h0M349.6 114.7h0M336.0 59.3h0M353.2 119.7h0M338.6 85.4h0M354.8 119.6h0M341.3 173.9h0M353.1 125.6h0M339.0 103.5h0M342.2 106.3h0M347.2 94.3h0M338.9 159.6h0M350.7 97.9h0M342.2 74.7h0M346.2 106.0h0M351.9 120.9h0M351.6 111.1h0M343.0 116.7h0M344.6 163.9h0M336.6 76.2h0M348.3 133.0h0M342.8 119.5h0M343.3 115.7h0M345.2 154.2h0M354.9 121.6h0M345.2 114.0h0M343.8 113.3h0M340.7 155.6h0M343.6 103.9h0M345.9 135.4h0M353.6 110.4h0M344.5 106.0h0M344.8 126.2h0M343.3 127.1h0M351.7 132.1h0M346.7 152.2h0M342.6 153.4h0M343.1 96.6h0M348.8 111.5h0M353.9 113.8h0M353.7 119.6h0M350.8 130.5h0M347.5 146.3h0M334.4 71.9h0M346.6 121.2h0M345.1 157.2h0M343.5 128.6h0M343.0 162.8h0M343.3 135.6h0M351.3 97.6h0M345.7 84.5h0M353.8 127.9h0M345.9 131.5h0M346.3 110.6h0M346.6 82.0h0M337.0 79.3h0M344.3 113.7h0M352.1 100.6h0M344.8 116.4h0M345.8 149.8h0M346.9 108.7h0M352.1 137.1h0M352.2 103.7h0M349.6 120.0h0M344.3 143.4h0M352.8 114.6h0M348.9 111.7h0M353.4 131.4h0M342.6 146.8h0M338.8 145.2h0M339.8 123.5h0M351.2 138.3h0M344.4 101.4h0M345.1 79.7h0M348.2 102.0h0M350.2 96.9h0M345.9 120.6h0M346.4 120.6h0M341.3 164.7h0M342.2 95.6h0M342.8 134.7h0M346.8 153.8h0M342.7 109.6h0M340.6 114.0h0M351.9 130.8h0M349.5 139.8h0M347.1 91.7h0M338.0 111.4h0M348.7 145.6h0M348.5 107.4h0M346.9 133.6h0M355.2 113.1h0M349.4 140.5h0M352.1 133.6h0M345.9 101.0h0M354.7 112.8h0M343.3 152.9h0M343.4 96.1h0M339.2 132.3h0M354.0 106.9h0M345.0 99.4h0M354.1 114.4h0M343.4 163.7h0M349.5 129.0h0M351.4 125.3h0M347.4 110.4h0M347.6 145.6h0M339.6 122.8h0M350.7 126.0h0M345.0 108.5h0M350.6 118.8h0M342.2 103.1h0M347.5 135.9h0M351.4 114.3h0M348.6 142.8h0M342.7 145.2h0M352.5 111.9h0M353.4 106.9h0M344.8 150.8h0M341.8 167.4h0M349.9 138.3h0M353.2 125.6h0M339.2 130.9h0M346.1 98.6h0M343.6 98.1h0M354.6 127.4h0M343.2 158.3h0M346.2 109.8h0M352.6 101.1h0M351.3 101.5h0M348.6 88.4h0M350.7 120.6h0M348.5 143.8h0M337.2 77.8h0M345.4 160.5h0M346.6 114.2h0M340.9 149.2h0M353.7 121.5h0M341.7 116.2h0M345.2 158.0h0M336.2 125.0h0M342.7 138.3h0M353.6 110.0h0M337.7 80.7h0M337.8 95.5h0M350.3 131.5h0M351.8 127.6h0M350.3 93.1h0M340.7 157.6h0M339.3 95.8h0M349.7 141.7h0M352.5 120.8h0M354.7 125.4h0M348.8 105.8h0M337.3 111.0h0M351.8 122.6h0M339.9 164.8h0M342.1 74.3h0M343.0 159.6h0M339.6 84.3h0M346.4 150.3h0M343.5 165.4h0M341.3 125.6h0M343.9 113.0h0M344.9 108.8h0M327.4 169.3h0M346.9 87.4h0M341.3 148.3h0M351.7 118.5h0M339.6 161.8h0M351.6 127.6h0M343.6 94.5h0M347.3 123.2h0M344.0 149.8h0M352.2 134.9h0M342.7 119.9h0M352.7 136.6h0M352.9 117.1h0M349.5 96.7h0M343.8 74.9h0M349.9 123.6h0M343.3 139.6h0M341.1 171.8h0M346.9 108.3h0M344.5 146.4h0M351.7 130.1h0M353.3 116.5h0M347.1 150.5h0M349.1 131.7h0M343.3 71.6h0M346.2 145.4h0M354.0 115.5h0M339.9 101.4h0M343.7 149.5h0M353.1 135.1h0M344.1 82.8h0M348.9 122.4h0M335.7 126.1h0M348.3 135.7h0M347.4 145.9h0M352.1 111.1h0M353.1 104.8h0M350.3 92.4h0M347.1 121.2h0M349.8 111.3h0M345.0 106.2h0M352.2 124.2h0M348.3 139.0h0M328.9 131.5h0M349.7 93.7h0M348.1 148.4h0M345.2 87.6h0M346.4 103.2h0M343.8 131.0h0M337.5 112.2h0M346.9 101.1h0M352.1 104.6h0M338.1 123.3h0M337.0 159.8h0M345.2 80.0h0M350.6 141.6h0M347.5 94.1h0M343.6 167.4h0M340.6 149.7h0M351.7 117.5h0M352.5 127.5h0M349.7 92.8h0M354.1 128.7h0M348.4 120.3h0M352.9 122.9h0M348.1 151.7h0M352.8 133.3h0M348.6 107.7h0M340.5 134.7h0M350.7 133.9h0M343.5 95.7h0M342.0 145.0h0M346.8 113.4h0M354.3 121.8h0M345.1 150.6h0M344.3 116.3h0M349.9 133.4h0M333.3 110.9h0M351.3 115.5h0M345.3 98.1h0M344.0 161.8h0M342.5 149.2h0M350.9 94.8h0M349.1 141.7h0M354.9 110.5h0M350.8 109.0h0M350.1 136.6h0M350.4 138.3h0M342.9 109.6h0M346.8 133.3h0M344.9 154.5h0M350.5 92.0h0M329.8 59.2h0M342.7 148.8h0M335.4 103.9h0M344.5 111.6h0M352.5 126.3h0M345.2 116.5h0M345.3 142.8h0M340.4 119.4h0M342.5 128.2h0M349.3 107.2h0M345.9 148.9h0M350.2 121.1h0M344.7 131.6h0M352.9 117.7h0M350.2 108.4h0M345.8 128.7h0M349.4 107.9h0M353.7 116.2h0M348.1 144.4h0M350.6 121.0h0M347.8 120.1h0M342.2 150.5h0M344.8 154.3h0M348.9 130.3h0M336.0 117.5h0M347.3 109.0h0M343.0 125.3h0M353.4 111.2h0M354.1 118.6h0M342.1 141.3h0M350.5 128.5h0M342.9 117.4h0M343.8 132.5h0M350.9 95.0h0M345.9 145.9h0M340.9 70.4h0M348.1 85.3h0M354.5 125.6h0M346.2 144.0h0M354.2 114.2h0M342.7 147.9h0M346.3 112.2h0M337.3 110.5h0M344.4 102.4h0M344.6 118.6h0M344.7 145.8h0M345.2 130.9h0M351.2 117.6h0M351.7 127.1h0M342.7 101.7h0M344.3 121.8h0M350.5 96.3h0M344.9 149.2h0M348.2 115.5h0M346.3 101.0h0M346.5 156.0h0M351.7 130.3h0M350.3 141.4h0M353.8 113.8h0M342.3 116.1h0M339.7 140.2h0M344.7 119.2h0M352.8 123.4h0M346.0 101.9h0M347.0 155.9h0M348.0 89.7h0M345.3 128.9h0M344.8 163.2h0M346.0 157.3h0M345.3 135.3h0M352.3 130.5h0M344.5 117.6h0M347.5 120.1h0M344.7 142.2h0M348.8 115.9h0M346.6 87.6h0M342.4 115.7h0M350.3 131.3h0M347.2 145.0h0M343.4 125.8h0M348.1 102.5h0M342.4 129.3h0M344.4 109.6h0M346.7 153.0h0M345.6 149.9h0M333.8 71.8h0M352.4 121.8h0M344.0 77.9h0M348.8 102.9h0M352.9 103.8h0M351.5 97.0h0M341.0 125.8h0M349.0 129.0h0M351.1 139.9h0M348.1 89.9h0M345.0 149.8h0M339.5 110.8h0M344.2 159.1h0M341.0 140.2h0M349.8 111.4h0M339.1 124.5h0M340.7 136.5h0M339.5 77.5h0M342.4 85.7h0M344.3 159.3h0M344.7 138.2h0M343.5 164.0h0M355.4 116.7h0M339.1 134.7h0M350.6 126.7h0M353.1 114.8h0M347.6 86.2h0M352.0 134.9h0M346.9 108.6h0M352.5 119.3h0M347.4 99.3h0M345.7 108.1h0M352.3 129.5h0M351.0 116.9h0M346.8 125.2h0M348.0 136.2h0M347.9 129.7h0M346.0 133.0h0M336.7 70.8h0M344.7 157.7h0M351.5 111.5h0M351.3 97.4h0M350.1 113.1h0M345.2 153.8h0M346.2 102.4h0M340.7 142.2h0M340.1 161.2h0M350.8 103.0h0M342.1 133.1h0M351.2 130.1h0M342.7 164.9h0M348.8 128.6h0M350.7 133.9h0M352.3 133.2h0M353.6 118.8h0M351.8 111.0h0M343.6 116.2h0M352.7 117.0h0M340.2 129.2h0M342.7 151.3h0M344.0 143.7h0M344.8 150.7h0M346.0 110.2h0M344.9 164.0h0M349.2 107.5h0M345.5 89.0h0M327.8 138.4h0M346.1 112.6h0M346.7 128.9h0M338.1 78.2h0M349.8 118.8h0M346.8 148.6h0M349.6 124.5h0M348.8 123.9h0M343.6 145.0h0M352.6 130.8h0M350.5 120.2h0M344.9 145.8h0M335.4 113.8h0M353.4 104.0h0M346.4 92.9h0M346.5 121.4h0M349.4 90.0h0M350.9 121.4h0M351.1 141.5h0M352.3 137.5h0M353.9 123.8h0M346.9 109.5h0M344.8 83.8h0M349.7 122.7h0M341.6 146.0h0M343.5 121.9h0M341.6 145.5h0M344.1 110.7h0M339.0 76.0h0M352.7 107.9h0M343.8 153.7h0M351.7 116.0h0M334.4 106.2h0M325.0 156.3h0M350.9 140.7h0M343.5 122.4h0M347.4 145.0h0M345.8 143.2h0M352.9 133.9h0M342.8 165.3h0M351.6 121.1h0M349.8 118.1h0M347.9 104.4h0M337.3 118.8h0M348.4 135.7h0M348.7 145.9h0M342.6 130.7h0M346.0 81.2h0M344.9 155.2h0M348.2 149.3h0M348.0 115.9h0M343.3 120.9h0M350.7 131.4h0M344.2 98.5h0M347.6 145.3h0M347.8 89.9h0M345.1 111.0h0M343.9 91.3h0M355.1 112.6h0M349.6 102.7h0M344.0 83.3h0M343.5 152.3h0M344.6 152.5h0M348.6 93.3h0M342.0 150.7h0M344.0 103.5h0M341.4 171.6h0M349.6 119.0h0M349.6 97.4h0M340.4 126.9h0M348.8 140.8h0M344.6 77.3h0M346.6 134.5h0M349.5 123.7h0M338.2 138.6h0M346.5 144.3h0M348.6 139.4h0M339.4 113.0h0M348.8 131.5h0M340.3 94.2h0M340.5 110.9h0M352.3 133.6h0M345.3 95.8h0M348.9 145.7h0M348.3 150.5h0M347.6 151.1h0M334.8 84.7h0M353.5 129.1h0M340.5 81.3h0M343.0 168.5h0M342.5 80.5h0M350.0 107.9h0M342.6 105.7h0M334.5 119.8h0M345.2 105.0h0M335.9 108.9h0M347.1 97.9h0M344.5 90.0h0M342.6 164.0h0M342.0 175.2h0M346.3 150.5h0M349.9 143.4h0M339.5 120.4h0M349.3 113.3h0M350.0 133.1h0M345.0 154.7h0M344.6 109.4h0M338.5 83.0h0M349.5 108.7h0M347.2 102.0h0M346.3 117.8h0M352.6 105.8h0M342.9 72.1h0M344.7 149.4h0M354.2 118.7h0M336.2 61.4h0M349.4 93.5h0M342.1 127.1h0M344.5 110.6h0M346.7 135.7h0M337.9 118.1h0M349.2 104.2h0M347.3 107.8h0M346.8 125.0h0M353.1 123.2h0M343.4 93.1h0M341.2 161.4h0M350.1 92.6h0M346.5 81.9h0M350.0 90.9h0M347.9 119.9h0M344.3 94.8h0M353.8 120.7h0M340.8 130.0h0M343.6 155.9h0M342.8 138.8h0M345.5 158.7h0M344.5 75.0h0M345.7 143.8h0M343.6 103.9h0M351.2 142.1h0M352.7 135.8h0M350.1 99.9h0M347.4 125.4h0M340.2 80.6h0M347.2 132.2h0M348.9 130.9h0M343.4 92.6h0M354.0 118.7h0M349.9 110.0h0M344.6 147.6h0M347.5 118.5h0M343.2 167.4h0M346.9 115.5h0M347.6 123.0h0M352.0 132.4h0M347.0 99.0h0M342.4 99.2h0M340.0 143.7h0M347.6 100.2h0M336.0 96.5h0M353.3 109.8h0M346.1 119.2h0M345.4 96.1h0M341.2 100.6h0M354.9 122.5h0M343.6 144.7h0M351.6 134.3h0M347.2 150.9h0M342.3 85.3h0M350.0 105.8h0M349.4 122.4h0M342.7 147.6h0M346.6 118.4h0M343.3 135.8h0M339.6 147.4h0M346.3 148.2h0M341.9 77.1h0M343.6 93.2h0M351.1 118.9h0M342.0 129.2h0M348.9 91.8h0M351.2 97.9h0M353.4 126.9h0M338.8 109.4h0M344.8 100.1h0M349.1 102.6h0M353.6 105.4h0M350.3 118.8h0M350.9 117.1h0M343.0 143.3h0M340.9 148.2h0M344.1 115.8h0M342.8 81.5h0M350.1 91.8h0M348.9 117.8h0M344.0 80.5h0M347.4 107.2h0M344.0 85.6h0M348.8 130.7h0M346.5 81.9h0M345.3 115.3h0M351.5 132.7h0M350.9 98.0h0M351.9 116.1h0M352.7 114.2h0M348.4 100.1h0M351.2 134.9h0M351.2 107.5h0M339.9 80.4h0M347.1 148.0h0M340.2 132.7h0M346.9 140.2h0M353.8 110.5h0M341.5 138.3h0M348.0 121.9h0M347.3 127.7h0M344.4 139.0h0M350.2 118.0h0M347.0 92.3h0M343.8 133.3h0M354.0 113.5h0M338.2 103.3h0M345.7 126.2h0M346.7 134.9h0M341.4 170.4h0M348.4 100.4h0M349.8 125.1h0M339.3 88.3h0M345.3 147.6h0M348.9 140.1h0M339.7 169.3h0M348.9 113.1h0M342.0 141.3h0M350.9 117.5h0M350.7 138.0h0M338.4 149.5h0M344.9 159.7h0M339.3 118.4h0M343.3 140.9h0M341.6 169.6h0M345.9 125.7h0M343.5 105.3h0M349.8 103.6h0M345.4 134.4h0M353.7 130.5h0M344.4 77.6h0M348.2 122.6h0M352.4 106.6h0M349.2 91.9h0M346.6 150.4h0M348.4 120.6h0M351.5 98.6h0M333.8 120.9h0M352.4 107.8h0M345.0 125.0h0M341.7 120.0h0M344.3 166.5h0M342.9 166.0h0M354.3 124.8h0M343.5 105.3h0M339.8 105.3h0M346.3 108.9h0M339.2 68.0h0M345.1 162.8h0M340.2 113.8h0M347.8 135.7h0M350.0 104.7h0M344.2 152.8h0M340.6 91.1h0M352.4 103.1h0M353.6 106.1h0M340.9 159.2h0M354.1 121.7h0M343.5 89.4h0M341.1 129.1h0M347.2 115.9h0M350.0 126.8h0M349.1 135.0h0M339.2 158.2h0M349.6 128.3h0M351.5 140.4h0M352.0 100.1h0M347.6 145.4h0M350.0 94.5h0M345.9 93.4h0M346.0 110.7h0M344.5 103.7h0M348.9 122.0h0M340.8 140.8h0M340.0 76.8h0M349.9 125.4h0M347.9 113.6h0M348.3 128.0h0M342.4 95.9h0M351.6 111.2h0M346.5 140.3h0M348.4 106.2h0M344.3 138.8h0M346.3 82.4h0M342.0 109.1h0M343.0 150.5h0M336.2 79.5h0M347.0 97.5h0M350.3 132.4h0M343.9 138.4h0M337.5 77.1h0M344.0 146.2h0M346.5 149.9h0M342.4 137.9h0M350.8 130.7h0M343.6 102.3h0M350.9 114.8h0M337.6 114.3h0M344.8 143.0h0M349.3 141.0h0M347.0 96.6h0M347.2 130.8h0M342.4 158.1h0M347.9 95.8h0M350.2 124.7h0M346.9 153.1h0M341.2 168.9h0M337.5 112.7h0M355.2 112.5h0M343.0 115.8h0M343.1 159.6h0M354.6 110.6h0M343.6 90.5h0M347.4 111.4h0M344.3 109.5h0M344.0 144.9h0M353.9 117.0h0M352.5 132.7h0M344.4 111.9h0M350.8 129.6h0M348.9 136.5h0M352.7 125.4h0M348.0 102.9h0M342.3 149.7h0M352.8 116.2h0M349.8 106.1h0M343.4 154.4h0M346.9 135.4h0M343.5 125.8h0M348.8 148.7h0M346.6 130.4h0M344.5 89.8h0M350.5 142.7h0M341.4 121.1h0M351.6 115.5h0M348.8 147.5h0M350.8 141.2h0M355.1 110.8h0M339.1 86.8h0M351.8 138.6h0M348.4 86.5h0M349.1 124.1h0M346.3 105.4h0M344.4 98.9h0M352.8 127.6h0M349.7 124.7h0M354.1 118.6h0M348.1 93.7h0M354.2 116.3h0M340.1 135.3h0M341.1 78.5h0M350.1 124.7h0M347.7 121.0h0M346.9 148.8h0M343.5 159.8h0M352.1 102.8h0M352.9 102.5h0M345.0 141.0h0M345.0 161.2h0M343.5 143.1h0M341.0 157.4h0M351.4 105.6h0M349.6 143.6h0M352.2 134.9h0M341.4 119.4h0M352.0 99.6h0M346.7 155.8h0M345.2 159.4h0M351.2 99.2h0M350.8 116.4h0M340.0 104.4h0M349.8 109.1h0M350.1 94.6h0M344.9 158.8h0M345.2 87.7h0M341.6 168.3h0M350.2 128.3h0M350.1 106.4h0M339.9 130.4h0M339.8 120.1h0M352.9 120.9h0M340.9 115.9h0M352.8 129.3h0M349.6 114.4h0M350.3 123.8h0M341.5 92.3h0M354.4 113.8h0M351.2 123.5h0M341.1 163.0h0M355.0 117.8h0M340.3 129.0h0M346.3 143.8h0M343.4 152.6h0M354.7 112.9h0M349.9 113.9h0M348.3 140.1h0M352.9 116.7h0M348.9 132.7h0M343.0 119.0h0M352.6 127.1h0M352.9 112.2h0M340.0 70.7h0M346.8 151.4h0M349.2 97.5h0M346.5 125.7h0M346.7 147.3h0M343.8 159.7h0M355.4 123.7h0M353.0 109.4h0M347.5 106.7h0M344.1 104.0h0M346.2 137.3h0M346.8 116.7h0M355.6 121.9h0M344.2 136.0h0M343.0 111.8h0M341.5 111.0h0M344.9 136.0h0M352.2 128.3h0M339.9 115.6h0M343.1 103.9h0M342.3 89.7h0M348.9 131.6h0M354.6 110.8h0M350.9 128.3h0M349.0 142.5h0M345.9 92.5h0M352.9 136.6h0M345.6 114.2h0M354.7 117.1h0M347.5 103.9h0M347.0 136.1h0M343.2 158.0h0M346.0 82.7h0M346.8 155.4h0M338.0 151.7h0M346.2 146.8h0M347.7 107.4h0M344.2 92.0h0M350.0 117.3h0M341.6 116.4h0M348.7 104.7h0M351.9 128.0h0M353.0 127.1h0M341.3 162.3h0M347.0 95.1h0M347.2 146.2h0M351.4 139.5h0M337.9 134.3h0M350.6 103.1h0M347.7 138.9h0" stroke="#2c4193" stroke-width="1.60" stroke-linecap="round" fill="none"/>
<path d="M353 100L353.6 104L354.9 110L355.4 116L355.6 122L354.5 128L353.3 134L352.2 140L349.5 146L348 152L346.4 158L344.9 164L343.4 170L342.5 170L344 160L345.5 148L347 130L347.5 118L348.5 106L350 100Z" fill="#2f4597"/>
<path d="M350.3 126.8h0M352.9 110.7h0M352.4 112.4h0M341.1 97.3h0M348.8 107.8h0M349.9 96.0h0M349.4 122.4h0M351.9 139.5h0M348.4 128.5h0M345.9 133.2h0M350.2 128.3h0M352.9 111.0h0M346.7 148.4h0M341.7 139.6h0M344.8 135.9h0M348.3 126.8h0M340.6 143.6h0M340.3 168.4h0M345.7 106.7h0M340.8 172.4h0M344.3 119.3h0M350.8 121.2h0M351.1 105.3h0M343.8 141.0h0M352.8 128.4h0M351.8 111.0h0M344.8 160.8h0M347.1 147.2h0M350.0 139.4h0M346.1 137.6h0M346.1 133.2h0M343.5 165.1h0M353.3 129.4h0M350.1 136.6h0M343.1 133.4h0M352.6 132.0h0M341.3 153.8h0M346.1 108.1h0M347.9 144.6h0M352.0 109.2h0M354.7 114.1h0M351.3 116.3h0M348.6 117.6h0M344.1 163.2h0M344.8 105.5h0M346.2 145.0h0M342.9 156.1h0M351.2 106.3h0M347.3 110.9h0M354.9 112.8h0M347.9 96.8h0M352.5 116.6h0M349.5 107.6h0M350.3 106.2h0M353.1 121.2h0M347.4 96.0h0M344.2 153.4h0M355.1 116.5h0M347.6 122.4h0M350.2 144.0h0M341.2 96.1h0M350.5 96.9h0M347.0 139.5h0M345.3 108.1h0M346.6 141.2h0M349.2 120.6h0M347.3 122.0h0M345.3 128.3h0M344.5 159.4h0M344.1 95.9h0M347.6 110.7h0M346.4 144.6h0M345.6 151.1h0M352.3 136.4h0M346.7 139.6h0M344.7 104.8h0M349.9 120.2h0M344.8 136.8h0M345.7 111.5h0M349.8 142.7h0M348.7 104.0h0M346.7 146.8h0M343.9 95.6h0M345.4 156.9h0M353.6 125.0h0M345.0 144.7h0M348.3 118.9h0M348.1 116.3h0M348.0 118.6h0M344.2 101.7h0M354.0 124.4h0M348.1 150.1h0M344.8 103.9h0M352.2 121.5h0M344.0 157.8h0M344.4 157.0h0M347.6 147.4h0M344.4 109.0h0M344.3 119.8h0M350.2 99.8h0M346.7 100.8h0M342.9 133.5h0M351.2 109.0h0M348.3 138.2h0M352.4 116.6h0M350.4 123.5h0M347.0 146.1h0M353.0 108.5h0M343.6 130.3h0M346.3 118.5h0M343.9 108.1h0M352.7 123.5h0M344.7 100.7h0M353.8 107.1h0M341.7 139.6h0M341.8 148.8h0M352.0 133.0h0M348.5 106.8h0M342.4 101.5h0M350.1 97.6h0M342.2 140.1h0M344.8 118.8h0M347.7 150.2h0M345.0 140.1h0M347.7 115.0h0M350.7 104.2h0M344.0 160.1h0M341.2 171.3h0M345.0 160.5h0M344.7 139.3h0M345.7 114.8h0M344.4 150.6h0M348.2 108.8h0M347.2 114.8h0M353.7 109.4h0M350.3 113.9h0M340.4 156.3h0M342.7 137.1h0M344.9 135.7h0M349.9 97.9h0M346.0 145.2h0M343.6 140.3h0M344.9 117.1h0M345.2 121.7h0M343.4 152.1h0M347.7 137.4h0M341.4 148.4h0M342.9 158.1h0M342.8 147.3h0M354.2 122.8h0M341.0 161.7h0M344.9 110.5h0M349.4 127.2h0M344.4 99.3h0M344.4 138.6h0M346.5 145.1h0M346.2 97.3h0M350.6 116.8h0M346.8 105.6h0M353.5 121.4h0M346.2 105.4h0M342.5 172.6h0M345.1 130.2h0M349.5 109.1h0M345.2 96.9h0M342.8 152.9h0M344.2 142.6h0M349.8 135.0h0M348.5 136.8h0M348.2 130.5h0M350.6 115.0h0M349.4 128.2h0M346.5 141.6h0M344.4 113.9h0M342.9 168.7h0M340.0 145.6h0M340.8 169.1h0M347.2 128.5h0M351.9 111.5h0M347.8 119.4h0M350.2 129.3h0M351.2 101.3h0M352.0 136.3h0M345.1 120.3h0M344.9 129.8h0M346.7 141.2h0M346.8 129.5h0M344.4 144.0h0M351.3 121.8h0M352.4 110.1h0M350.8 112.7h0M342.2 166.3h0M354.3 108.6h0M351.1 123.1h0M342.4 162.7h0M345.3 141.6h0M344.1 126.7h0M353.5 122.8h0M350.5 107.3h0M340.3 151.6h0M349.3 121.4h0M352.4 129.6h0M340.6 170.4h0M350.6 125.5h0M341.8 154.8h0M350.4 129.8h0M353.0 108.3h0M350.4 117.1h0M342.4 98.2h0M343.8 102.3h0M348.1 139.0h0M353.5 105.2h0M349.4 118.6h0M352.2 139.4h0M349.8 106.9h0M345.4 153.2h0M352.5 103.9h0M350.6 131.9h0M347.4 135.2h0M348.4 112.0h0M344.5 157.4h0M348.1 125.7h0M348.0 123.4h0M348.6 128.8h0M348.5 143.1h0M350.9 123.6h0M342.3 165.9h0M352.7 130.3h0M347.6 121.3h0M341.4 160.1h0M349.9 100.5h0M346.5 155.4h0M344.1 95.7h0M354.3 108.0h0M346.5 105.1h0M353.1 124.0h0M353.4 105.5h0M347.1 99.9h0M344.3 149.1h0M344.3 117.2h0M348.5 97.9h0M341.4 143.0h0M350.4 131.2h0M352.9 108.1h0M347.1 112.6h0M343.8 103.9h0M350.1 121.2h0M348.0 104.2h0M347.3 102.2h0M352.7 130.5h0M342.3 142.1h0M343.3 104.8h0M349.9 109.5h0M347.4 131.5h0M346.3 135.4h0M345.2 108.0h0M351.3 110.0h0M341.1 161.7h0M346.6 120.4h0M353.8 127.0h0M345.5 99.7h0M354.3 109.9h0M350.1 130.8h0M353.4 117.7h0M344.8 110.3h0M350.0 143.5h0M349.4 99.4h0M346.3 147.9h0M343.0 99.9h0M351.4 140.3h0M350.4 117.3h0M349.6 114.6h0M347.0 97.0h0M348.5 128.0h0M340.0 162.6h0M344.5 164.6h0M353.3 104.2h0M340.8 96.7h0M352.1 116.1h0M350.6 131.8h0M347.5 142.1h0M347.7 143.6h0M345.1 113.0h0M347.3 127.4h0M354.3 115.5h0M341.3 155.9h0M342.7 169.5h0M342.3 135.2h0M345.4 104.7h0M343.5 101.0h0M353.3 120.5h0M345.4 145.1h0M343.0 137.4h0M344.1 160.7h0M345.7 100.8h0M342.6 160.9h0M352.4 111.4h0M345.6 115.8h0M347.2 108.1h0M346.5 140.5h0M350.2 108.3h0M342.5 167.3h0M349.6 126.3h0M343.7 155.4h0M346.4 155.8h0M345.0 151.2h0M348.3 144.6h0M347.3 95.4h0M346.5 153.4h0M341.6 160.0h0M352.2 124.8h0M349.2 123.4h0M348.9 100.1h0M342.2 137.1h0M347.5 115.1h0M350.6 109.3h0M350.0 130.7h0M346.9 122.8h0M345.2 120.0h0M344.2 152.7h0M347.7 117.4h0M351.6 102.3h0M348.1 146.2h0M349.7 108.7h0M343.7 159.3h0M342.3 163.7h0M350.1 126.3h0M349.5 100.6h0M341.3 144.8h0M350.6 133.9h0M344.3 133.6h0M346.3 114.4h0M347.5 149.6h0M341.3 159.4h0M340.4 150.3h0M347.4 131.0h0M344.1 132.2h0M345.1 122.5h0M354.8 111.5h0M343.8 102.7h0M352.6 122.7h0M347.5 134.9h0M353.9 117.5h0M341.9 152.6h0M345.5 127.1h0M347.8 103.9h0M343.7 146.8h0M350.6 122.8h0M346.3 131.0h0M343.9 161.1h0M353.1 110.5h0M341.3 144.0h0M343.5 141.9h0M352.7 135.6h0M343.4 160.3h0M343.2 150.7h0M349.9 115.7h0M345.8 154.1h0M343.0 142.9h0M351.1 111.4h0M347.0 140.6h0M351.2 114.9h0M351.9 107.7h0M345.7 111.5h0M347.3 120.8h0M340.2 164.0h0M343.0 141.9h0M343.9 139.6h0M349.5 102.0h0M345.1 119.3h0M347.1 97.5h0M353.9 119.1h0M342.4 145.1h0M350.4 124.7h0M343.8 152.8h0M351.4 122.4h0M351.9 104.3h0M344.7 129.6h0M341.3 166.5h0M351.0 95.6h0M346.2 138.9h0M345.1 143.4h0M344.8 121.5h0M349.6 131.5h0M350.8 114.5h0M341.1 146.7h0M346.9 128.7h0M351.5 125.2h0M349.2 137.4h0M352.6 102.5h0M340.9 157.7h0M343.4 143.4h0M347.5 113.4h0M347.1 128.4h0M342.5 146.2h0M344.7 110.8h0M345.0 127.9h0M344.3 100.7h0M340.9 145.7h0M346.5 137.1h0M343.2 169.1h0M345.5 132.4h0M344.7 162.0h0M346.8 95.7h0M343.3 105.3h0M350.2 133.8h0M345.2 95.2h0M348.2 143.6h0M341.8 170.3h0M343.0 144.5h0M353.0 107.1h0M343.3 149.0h0M341.6 168.9h0M341.1 171.7h0M340.6 149.9h0M344.5 154.4h0M340.1 153.7h0M347.8 113.6h0M347.6 141.9h0M347.4 105.2h0M345.3 146.4h0M340.8 159.0h0M346.3 140.7h0M354.0 111.8h0M350.8 133.4h0M346.4 123.1h0M341.8 155.5h0M350.1 114.1h0M354.2 119.2h0M342.1 151.9h0M343.6 132.2h0M348.3 121.1h0M345.0 113.6h0M353.0 107.9h0M348.5 100.7h0M344.3 123.2h0M346.7 143.3h0M351.6 99.2h0M342.5 169.3h0M341.7 150.0h0M349.1 120.4h0M343.6 150.2h0M349.6 101.8h0M352.5 105.7h0M348.4 118.6h0M345.9 142.7h0M349.1 140.6h0M353.7 111.2h0M340.1 155.2h0M345.2 111.6h0M343.6 143.0h0M342.0 136.0h0M343.0 156.4h0M341.7 97.8h0M348.0 141.8h0M350.2 141.6h0M348.5 126.7h0M350.6 115.6h0M350.4 116.1h0M344.5 97.0h0M350.5 112.9h0M352.5 110.6h0M343.5 128.2h0M344.0 133.4h0M350.8 135.2h0M342.1 134.6h0M350.2 126.5h0M341.7 138.5h0M347.2 144.5h0M342.3 165.8h0M344.5 121.4h0M351.0 127.7h0M353.9 116.5h0M342.4 148.5h0M346.5 141.1h0M344.7 139.6h0M346.5 105.1h0M352.2 126.0h0M348.5 149.5h0M347.9 96.3h0M348.6 100.0h0M345.1 113.3h0M345.2 145.2h0M344.7 98.0h0M345.4 153.6h0M346.7 128.9h0M344.5 112.5h0M344.2 160.8h0M351.0 133.1h0M343.0 164.2h0M343.7 161.9h0M346.9 147.5h0M351.0 121.4h0M344.8 160.7h0M345.4 157.0h0M340.7 161.0h0M342.6 137.9h0M350.6 130.3h0M344.5 162.7h0M344.5 97.5h0M344.3 114.4h0M344.3 114.4h0M347.4 97.4h0M343.7 130.8h0M341.9 159.5h0M345.6 147.0h0M343.5 138.7h0M342.8 169.2h0M352.7 115.8h0M345.1 150.6h0M349.6 102.3h0M353.9 128.7h0M346.8 134.1h0M347.0 122.4h0M349.3 119.5h0M350.1 137.0h0M349.4 110.9h0M346.6 108.2h0M353.3 108.8h0M348.0 99.9h0M346.3 123.6h0M346.8 134.3h0M350.2 131.3h0M341.3 160.7h0M350.8 105.0h0M344.5 161.6h0M353.9 128.4h0M351.8 135.5h0M346.5 152.0h0M348.1 150.0h0M348.6 108.8h0M340.7 148.7h0M343.5 141.5h0M354.0 108.6h0M344.1 108.4h0M351.4 100.6h0M343.2 133.1h0M347.7 96.2h0M349.3 125.9h0M344.7 127.0h0M346.4 108.1h0M343.0 134.9h0M348.7 116.4h0M351.7 120.7h0M340.2 151.3h0M347.0 136.9h0M346.7 147.4h0M347.6 139.8h0M344.6 134.3h0M350.8 129.7h0M344.8 103.5h0M342.1 98.2h0M343.3 139.3h0M349.4 129.3h0M343.1 102.6h0M345.9 120.8h0M341.6 143.7h0M348.2 141.9h0M346.9 131.5h0M348.2 134.5h0M344.7 132.9h0M353.0 123.2h0M346.6 115.6h0M345.0 109.8h0M344.3 114.4h0M352.9 102.1h0M351.6 133.5h0M347.3 106.7h0M345.5 116.5h0M340.4 171.5h0M345.4 119.4h0M343.1 142.0h0M346.6 120.8h0M347.5 114.3h0M349.7 103.3h0M342.4 103.8h0M342.9 154.9h0M342.8 155.0h0M350.5 118.9h0M344.3 103.6h0M352.0 101.1h0M346.4 130.3h0M348.7 117.7h0M350.7 139.9h0M354.9 119.6h0M347.2 109.1h0M348.7 140.8h0M340.9 148.5h0M345.5 147.7h0M341.7 167.7h0M343.5 164.4h0M346.4 144.1h0M344.2 134.3h0M342.9 130.9h0M345.8 159.6h0M345.1 136.2h0M343.3 96.6h0M342.3 96.3h0M344.3 104.4h0M341.6 137.9h0M354.0 115.1h0M344.7 150.3h0M352.5 112.6h0M340.0 171.4h0M340.9 153.1h0M351.5 136.2h0M345.5 151.2h0M354.3 114.5h0M342.4 161.6h0M342.0 154.0h0M350.5 124.9h0M345.6 124.4h0M348.1 141.3h0M346.3 102.2h0M350.5 110.1h0M349.4 96.2h0M345.6 159.8h0M346.7 104.1h0M350.6 96.1h0M348.0 107.3h0M346.3 128.0h0M351.6 108.6h0M340.9 152.5h0M345.3 131.7h0M341.7 146.1h0M341.8 149.0h0M344.7 134.9h0M340.8 150.6h0M353.4 129.7h0M351.2 120.3h0M343.1 136.5h0M350.9 105.2h0M342.1 146.9h0M348.0 98.9h0M354.1 126.0h0M348.4 116.4h0M351.0 105.9h0M344.8 138.9h0M343.5 136.5h0M348.0 111.6h0M347.0 98.8h0M347.5 130.7h0M344.9 139.8h0M340.2 143.5h0M340.9 161.4h0M346.2 153.0h0M341.9 100.0h0M347.8 130.4h0M342.2 149.9h0M345.9 119.2h0M353.3 126.2h0M343.8 148.5h0M346.5 153.3h0M345.4 158.2h0M341.6 159.6h0M350.6 140.8h0M353.8 114.4h0M342.1 171.8h0M340.6 162.7h0M342.2 142.0h0M347.6 109.6h0M349.8 139.8h0M351.2 135.5h0M353.9 112.0h0M343.3 131.1h0M349.1 97.4h0M345.8 122.4h0M347.0 121.0h0M350.0 95.7h0M344.4 104.2h0M342.5 98.1h0M347.3 118.0h0M352.7 132.7h0M340.0 160.3h0M341.9 140.4h0M353.2 108.3h0M342.4 165.2h0M343.7 162.3h0M348.6 121.2h0M347.4 104.0h0M348.6 112.6h0M347.9 129.0h0M352.0 108.1h0M340.2 149.6h0M347.5 137.7h0M347.6 151.0h0M354.1 122.5h0M347.5 146.9h0M350.7 108.9h0M354.2 117.4h0M347.8 99.8h0M353.0 112.8h0M349.8 115.2h0M343.6 164.4h0M350.6 118.5h0M352.3 122.2h0M348.3 143.8h0M340.5 153.3h0M341.9 140.1h0M348.8 134.0h0M347.4 117.3h0M344.4 123.7h0M354.1 128.1h0M342.0 164.6h0M343.1 144.7h0M347.8 95.3h0M343.0 103.3h0M345.5 108.6h0M342.2 172.2h0M342.4 101.7h0M351.7 126.6h0M345.8 113.5h0M353.9 129.2h0M348.2 137.2h0M351.7 129.8h0M342.4 156.0h0M345.6 128.4h0M342.8 164.5h0M347.9 139.0h0M340.7 166.4h0M353.8 122.1h0M344.6 108.9h0M353.3 129.4h0M345.0 136.3h0M344.3 108.9h0M346.0 95.3h0M342.2 145.5h0M344.7 126.7h0M350.8 124.9h0M348.3 139.4h0M348.5 110.8h0M344.9 137.2h0M346.4 141.6h0M347.3 109.7h0M352.2 133.6h0M342.4 140.2h0M350.4 117.8h0M347.0 123.0h0M347.7 143.9h0M347.4 124.7h0M346.6 134.2h0M347.3 97.1h0M342.3 137.0h0M350.4 126.8h0M349.8 136.5h0M344.3 138.6h0M344.8 121.9h0M343.1 142.1h0M350.9 119.8h0M347.9 106.5h0M340.5 158.9h0M342.4 155.9h0M341.6 136.6h0M350.0 97.0h0M349.7 131.3h0M344.4 110.9h0M342.8 136.4h0M345.1 140.3h0M344.4 111.9h0M348.3 107.9h0M347.4 144.4h0M342.0 144.5h0M343.6 156.0h0M344.6 114.9h0M351.2 106.3h0M352.8 116.8h0M344.8 135.7h0M345.5 133.0h0M345.2 117.1h0M342.8 147.6h0M340.3 165.7h0M341.6 142.8h0M344.6 157.3h0M352.9 126.7h0M350.0 103.7h0M343.4 103.0h0M344.3 108.5h0M343.3 128.1h0M346.1 128.1h0M351.3 121.1h0M347.8 98.8h0M349.6 131.6h0M349.9 109.3h0M350.3 130.3h0M345.0 135.4h0M342.1 144.9h0M346.6 119.0h0M350.9 96.5h0M349.2 104.4h0M348.4 149.2h0M346.7 140.9h0M353.5 132.2h0M351.6 109.6h0M345.6 101.1h0M345.5 101.3h0M340.5 147.7h0M348.6 105.3h0M343.0 139.2h0M348.4 95.2h0M348.4 95.9h0M353.6 131.7h0M347.3 115.4h0M347.2 98.3h0M346.0 125.3h0M341.9 169.1h0M344.1 101.5h0M348.4 134.8h0M340.5 171.6h0M341.8 138.9h0M353.6 111.1h0M351.4 136.8h0M349.8 104.1h0M345.6 153.1h0M353.2 112.9h0M346.2 108.3h0M348.9 128.9h0M346.3 146.6h0M348.5 114.5h0M352.6 130.4h0M351.0 117.4h0M340.5 150.3h0M344.5 111.7h0M346.6 121.4h0M343.1 98.9h0M352.2 108.4h0M348.7 127.7h0M340.8 152.2h0M348.3 113.2h0M344.3 158.8h0M353.2 108.9h0M345.4 104.2h0M349.0 128.7h0M340.4 168.3h0M351.4 119.7h0M349.7 104.6h0M342.4 156.9h0M345.4 98.2h0M343.3 127.3h0M347.9 111.5h0M351.1 103.9h0M353.8 111.4h0M353.0 110.8h0M345.3 147.5h0M353.4 105.7h0M348.4 106.8h0M349.0 129.0h0M345.4 123.1h0M347.5 110.9h0M350.6 102.9h0M349.3 111.8h0M355.2 116.7h0M346.8 131.2h0M340.4 160.0h0M341.2 170.5h0M345.2 95.1h0M349.6 139.5h0M342.2 166.4h0M348.5 117.2h0M344.7 144.0h0M341.5 168.2h0M346.0 134.5h0M347.2 107.0h0" stroke="#2c4193" stroke-width="1.60" stroke-linecap="round" fill="none"/>
<path d="M344.2 101.5h0M342.2 130.8h0M347.6 150.1h0M346.7 101.3h0M345.7 135.0h0M344.2 122.9h0M342.7 146.7h0M346.9 131.3h0M351.5 106.3h0M353.1 132.5h0M350.7 117.3h0M342.5 123.2h0M344.6 114.8h0M345.0 148.2h0M350.4 130.6h0M344.2 132.7h0M351.5 110.6h0M343.1 98.4h0M351.6 124.9h0M348.1 101.4h0M354.5 123.3h0M340.1 133.6h0M349.0 103.5h0M343.5 167.3h0M353.2 123.5h0M347.0 138.2h0M340.8 162.3h0M340.2 131.7h0M345.5 98.3h0M346.5 97.6h0M341.1 157.3h0M346.5 123.1h0M345.4 109.2h0M345.5 106.0h0M351.1 138.6h0M341.0 125.0h0M349.2 131.3h0M344.2 103.8h0M341.3 99.8h0M348.2 140.7h0M346.4 153.1h0M344.0 101.3h0M351.8 107.6h0M350.2 104.0h0M349.7 103.7h0M351.4 122.0h0M349.3 127.7h0M345.0 120.2h0M341.1 122.8h0M349.5 99.6h0M347.4 152.2h0M340.2 161.9h0M341.0 147.1h0M340.1 117.5h0M352.1 120.0h0M349.5 127.3h0M340.5 158.7h0M351.5 98.3h0M348.5 141.5h0M345.8 127.7h0M348.5 127.8h0M342.7 162.9h0M340.7 146.6h0M340.5 139.7h0M350.1 138.4h0M343.7 152.6h0M349.0 140.6h0M348.0 126.3h0M349.4 96.9h0M346.6 119.1h0M347.3 114.6h0M343.0 112.4h0M343.0 142.3h0M343.8 129.1h0M348.0 143.3h0M345.0 137.4h0M351.2 107.5h0M343.8 111.1h0M341.5 154.4h0M345.9 118.1h0M353.9 116.9h0M348.4 144.0h0M340.7 120.5h0M347.7 123.6h0M340.7 135.3h0M347.9 128.1h0M341.9 141.0h0M345.3 131.1h0M346.6 152.5h0M341.4 117.6h0M349.2 141.7h0M345.7 120.1h0M343.5 120.4h0M342.2 112.2h0M352.9 115.1h0M351.6 126.8h0M347.8 139.0h0M350.0 139.1h0M340.6 158.0h0M346.8 123.0h0M350.3 136.8h0M342.8 152.3h0M347.0 112.9h0M342.4 119.5h0M344.6 120.2h0M346.4 109.9h0M340.3 131.9h0M342.4 114.2h0M347.4 135.5h0M350.7 131.4h0M346.2 113.8h0M351.6 130.1h0M347.3 110.3h0M346.6 121.6h0M350.1 101.2h0M342.9 131.9h0M354.0 111.9h0M345.2 100.3h0M341.8 143.0h0M349.1 124.4h0M347.5 100.2h0M349.9 109.3h0M347.4 125.7h0" stroke="#7484cc" stroke-width="1.10" stroke-linecap="round" fill="none"/>
<path d="M305.4 76.6h0M326.7 125.5h0M299.5 90.7h0M304.5 71.3h0M320.4 80.5h0M329.5 130.2h0M325.6 73.6h0M314.7 50.8h0M304.8 143.1h0M320.6 160.2h0M323.1 158.0h0M311.5 164.2h0M313.6 106.2h0M327.2 116.5h0M327.2 104.4h0M313.1 162.3h0M326.7 57.1h0M318.6 60.0h0M313.4 110.2h0M311.0 58.2h0M328.3 114.6h0M324.2 96.3h0M328.1 115.5h0M304.5 156.2h0M322.1 68.9h0M305.8 154.2h0M314.4 105.1h0M298.2 105.4h0M320.4 55.7h0M301.1 129.8h0M320.4 56.5h0M322.0 72.3h0M315.1 107.7h0M316.9 153.4h0M322.2 166.4h0M309.1 122.8h0M300.4 63.3h0M326.5 81.5h0M303.2 169.3h0" stroke="#2c4193" stroke-width="1.50" stroke-linecap="round" fill="none"/>
<path d="M418.4 177.7h0M416.0 122.6h0M399.2 109.8h0M422.6 158.1h0M424.0 93.2h0M410.1 105.5h0M426.7 181.1h0M411.4 156.1h0M399.5 129.2h0M422.7 157.9h0M406.4 103.4h0M413.9 91.9h0M421.3 137.7h0M435.5 171.9h0M421.7 151.3h0M407.2 153.4h0M418.1 140.7h0M413.0 128.4h0M409.9 96.3h0M424.1 98.6h0M402.1 113.9h0M406.6 93.9h0M435.5 193.6h0M417.9 117.2h0M405.6 152.2h0M438.7 194.9h0M408.1 159.0h0M407.3 126.0h0M442.3 189.3h0M406.7 148.3h0M407.7 100.4h0M407.0 98.1h0M414.7 93.2h0M404.6 88.1h0M398.6 100.8h0M396.7 92.8h0M402.9 131.5h0M420.6 185.1h0M397.2 106.3h0M417.4 138.1h0M418.0 112.0h0M402.2 137.2h0M401.0 136.1h0M421.5 131.5h0M412.4 134.8h0M407.6 86.1h0M405.5 110.1h0M411.0 138.2h0M424.6 124.7h0M408.9 83.4h0M416.7 103.6h0M394.0 90.4h0M431.7 163.3h0M426.3 180.7h0M411.2 170.5h0M424.9 165.3h0M414.5 94.3h0M426.7 193.6h0M404.1 141.0h0M402.5 105.5h0M407.3 107.8h0M408.7 139.7h0M438.6 195.8h0M422.9 141.1h0M407.4 112.3h0M401.1 140.6h0M399.9 99.3h0M398.1 106.6h0M408.1 128.5h0M410.0 86.2h0M440.3 173.5h0M434.6 172.6h0M428.6 155.4h0M405.4 144.1h0M395.2 78.1h0M414.0 136.5h0M407.0 99.5h0M394.5 98.0h0M396.3 96.9h0M411.9 88.8h0M405.9 156.2h0M424.0 118.3h0M407.7 150.5h0M441.8 163.6h0M402.0 121.9h0M415.5 125.8h0M404.9 127.5h0M416.1 152.5h0M429.7 162.5h0M423.3 85.1h0M428.3 162.1h0M405.8 141.7h0M429.2 188.9h0M411.2 168.0h0M412.9 94.0h0M401.9 126.8h0M410.1 107.4h0M404.5 96.7h0M418.7 111.2h0M430.6 189.0h0M417.3 166.8h0M418.3 133.7h0M430.5 155.9h0M423.2 176.6h0M407.2 135.2h0M415.9 157.9h0M415.7 118.7h0M423.7 159.0h0M416.3 128.5h0M405.4 88.0h0M398.2 109.4h0M426.7 144.6h0M443.7 187.9h0M400.2 116.9h0M408.7 155.5h0M413.4 80.8h0M408.4 100.7h0M416.2 107.6h0M413.7 87.6h0M423.2 176.5h0M405.2 153.3h0M417.4 154.4h0M414.7 101.2h0M414.7 117.6h0M397.9 110.3h0M398.9 100.5h0M404.8 91.1h0M417.9 148.0h0M394.5 105.6h0M427.7 176.6h0M401.6 119.4h0M396.2 93.9h0M439.0 185.2h0M420.9 159.6h0M434.6 144.8h0" stroke="#cc1a22" stroke-width="1.60" stroke-linecap="round" fill="none"/>
</g>
<rect x="237.5" y="23.5" width="275.0" height="218.0" fill="none" stroke="#111" stroke-width="0.9"/>
<line x1="237.5" y1="241.5" x2="512.5" y2="241.5" stroke="#111" stroke-width="1.2"/>
<line x1="234.5" y1="241.5" x2="237.5" y2="241.5" stroke="#111" stroke-width="1.0"/>
<text x="231.2" y="244" font-size="7.9" text-anchor="end" fill="#222" stroke="#222" stroke-width="0.16">0.0</text>
<line x1="234.5" y1="217" x2="237.5" y2="217" stroke="#111" stroke-width="1.0"/>
<text x="231.2" y="219.5" font-size="7.9" text-anchor="end" fill="#222" stroke="#222" stroke-width="0.16">0.5</text>
<line x1="234.5" y1="192.5" x2="237.5" y2="192.5" stroke="#111" stroke-width="1.0"/>
<text x="231.2" y="195" font-size="7.9" text-anchor="end" fill="#222" stroke="#222" stroke-width="0.16">1.0</text>
<line x1="234.5" y1="168" x2="237.5" y2="168" stroke="#111" stroke-width="1.0"/>
<text x="231.2" y="170.5" font-size="7.9" text-anchor="end" fill="#222" stroke="#222" stroke-width="0.16">1.5</text>
<line x1="234.5" y1="143.5" x2="237.5" y2="143.5" stroke="#111" stroke-width="1.0"/>
<text x="231.2" y="146" font-size="7.9" text-anchor="end" fill="#222" stroke="#222" stroke-width="0.16">2.0</text>
<line x1="234.5" y1="119" x2="237.5" y2="119" stroke="#111" stroke-width="1.0"/>
<text x="231.2" y="121.5" font-size="7.9" text-anchor="end" fill="#222" stroke="#222" stroke-width="0.16">2.5</text>
<line x1="234.5" y1="94.5" x2="237.5" y2="94.5" stroke="#111" stroke-width="1.0"/>
<text x="231.2" y="97" font-size="7.9" text-anchor="end" fill="#222" stroke="#222" stroke-width="0.16">3.0</text>
<line x1="234.5" y1="70" x2="237.5" y2="70" stroke="#111" stroke-width="1.0"/>
<text x="231.2" y="72.5" font-size="7.9" text-anchor="end" fill="#222" stroke="#222" stroke-width="0.16">3.5</text>
<line x1="234.5" y1="45.5" x2="237.5" y2="45.5" stroke="#111" stroke-width="1.0"/>
<text x="231.2" y="48" font-size="7.9" text-anchor="end" fill="#222" stroke="#222" stroke-width="0.16">4.0</text>
<line x1="239.5" y1="241.5" x2="239.5" y2="244.5" stroke="#111" stroke-width="1.0"/>
<text x="238" y="254.4" font-size="7.9" text-anchor="middle" fill="#222" stroke="#222" stroke-width="0.16">–6</text>
<line x1="284.7" y1="241.5" x2="284.7" y2="244.5" stroke="#111" stroke-width="1.0"/>
<text x="283.2" y="254.4" font-size="7.9" text-anchor="middle" fill="#222" stroke="#222" stroke-width="0.16">–4</text>
<line x1="329.8" y1="241.5" x2="329.8" y2="244.5" stroke="#111" stroke-width="1.0"/>
<text x="328.3" y="254.4" font-size="7.9" text-anchor="middle" fill="#222" stroke="#222" stroke-width="0.16">–2</text>
<line x1="375" y1="241.5" x2="375" y2="244.5" stroke="#111" stroke-width="1.0"/>
<text x="375" y="254.4" font-size="7.9" text-anchor="middle" fill="#222" stroke="#222" stroke-width="0.16">0</text>
<line x1="420.2" y1="241.5" x2="420.2" y2="244.5" stroke="#111" stroke-width="1.0"/>
<text x="420.2" y="254.4" font-size="7.9" text-anchor="middle" fill="#222" stroke="#222" stroke-width="0.16">2</text>
<line x1="465.3" y1="241.5" x2="465.3" y2="244.5" stroke="#111" stroke-width="1.0"/>
<text x="465.3" y="254.4" font-size="7.9" text-anchor="middle" fill="#222" stroke="#222" stroke-width="0.16">4</text>
<line x1="510.5" y1="241.5" x2="510.5" y2="244.5" stroke="#111" stroke-width="1.0"/>
<text x="510.5" y="254.4" font-size="7.9" text-anchor="middle" fill="#222" stroke="#222" stroke-width="0.16">6</text>
<text x="216" y="132.8" font-size="8.8" fill="#222" stroke="#222" stroke-width="0.35" text-anchor="middle" transform="rotate(-90 216 132.8)" textLength="43.6" lengthAdjust="spacingAndGlyphs">–log10 <tspan font-style="italic">P</tspan>-value</text>
<text x="331.7" y="267.9" font-size="9" fill="#222" stroke="#222" stroke-width="0.35" textLength="86.6" lengthAdjust="spacingAndGlyphs">Phenotype (MAGeCK epsilon)</text>
<line x1="313" y1="259.3" x2="244.6" y2="259.3" stroke="#222" stroke-width="0.9"/>
<path d="M245.1 257L239.6 259.3L245.1 261.6Z" fill="#222"/>
<line x1="439.2" y1="259.3" x2="508" y2="259.3" stroke="#222" stroke-width="0.9"/>
<path d="M507.5 257L513 259.3L507.5 261.6Z" fill="#222"/>
<text x="248.7" y="268.8" font-size="8" font-style="italic" fill="#444" stroke="#444" stroke-width="0.16">Decreased CD38</text>
<text x="503.8" y="268.2" font-size="8" text-anchor="end" font-style="italic" fill="#444" stroke="#444" stroke-width="0.16">Increased CD38</text>
<circle cx="294.8" cy="46.7" r="3.5" fill="#2b3a8c"/>
<circle cx="258.7" cy="116" r="3.5" fill="#2b3a8c"/>
<line x1="338.9" y1="47.8" x2="338.9" y2="73.9" stroke="#222" stroke-width="0.9"/>
<line x1="338.9" y1="47.8" x2="351.8" y2="116.5" stroke="#222" stroke-width="0.9"/>
<line x1="316.8" y1="123.6" x2="338.5" y2="132.5" stroke="#222" stroke-width="0.9"/>
<line x1="324.6" y1="173.5" x2="354.4" y2="194" stroke="#222" stroke-width="0.9"/>
<line x1="317.8" y1="191.4" x2="374.2" y2="184.4" stroke="#222" stroke-width="0.9"/>
<line x1="317.8" y1="191.4" x2="376.7" y2="201.8" stroke="#222" stroke-width="0.9"/>
<line x1="317.8" y1="191.4" x2="361.3" y2="214.2" stroke="#222" stroke-width="0.9"/>
<line x1="326.4" y1="220.8" x2="373.4" y2="193.5" stroke="#222" stroke-width="0.9"/>
<line x1="328.2" y1="225.2" x2="370.9" y2="235" stroke="#222" stroke-width="0.9"/>
<line x1="404.4" y1="167.7" x2="431.3" y2="167.7" stroke="#222" stroke-width="0.9"/>
<line x1="427.5" y1="189.4" x2="388.4" y2="206.4" stroke="#222" stroke-width="0.9"/>
<line x1="427.5" y1="189.4" x2="381" y2="216.3" stroke="#222" stroke-width="0.9"/>
<line x1="427.5" y1="189.4" x2="382.9" y2="229.2" stroke="#222" stroke-width="0.9"/>
<line x1="415" y1="220.2" x2="384" y2="234" stroke="#222" stroke-width="0.9"/>
<circle cx="338.9" cy="73.9" r="3.2" fill="#2b3a8c"/>
<circle cx="353.8" cy="119.6" r="3.3" fill="#2b3a8c" stroke="#dfe6ff" stroke-width="0.9"/>
<circle cx="341.7" cy="133.7" r="3.3" fill="#2b3a8c" stroke="#dfe6ff" stroke-width="0.9"/>
<text x="295.2" y="59" font-size="8.3" text-anchor="middle" fill="#222" stroke="#222" stroke-width="0.16">CD38</text>
<text x="261" y="108.9" font-size="8.3" text-anchor="middle" fill="#222" stroke="#222" stroke-width="0.16">SPI1</text>
<text x="340.6" y="46.1" font-size="8.3" text-anchor="middle" fill="#222" stroke="#222" stroke-width="0.16">NFKB1/2</text>
<text x="313.4" y="127" font-size="8.3" text-anchor="end" fill="#222" stroke="#222" stroke-width="0.16">XBP1</text>
<text x="322.5" y="174.9" font-size="8.3" text-anchor="end" fill="#222" stroke="#222" stroke-width="0.16">KDM6A</text>
<text x="314.8" y="193.8" font-size="8.3" text-anchor="end" fill="#222" stroke="#222" stroke-width="0.16">HDAC1/6/9</text>
<text x="322.8" y="226.6" font-size="8.3" text-anchor="end" fill="#222" stroke="#222" stroke-width="0.16">STAT1/3</text>
<circle cx="374.2" cy="184.4" r="3.3" fill="#e6e21c" stroke="#f4f08a" stroke-width="0.8"/>
<circle cx="354.4" cy="194" r="3.3" fill="#e6e21c" stroke="#f4f08a" stroke-width="0.8"/>
<circle cx="373.4" cy="193.5" r="3.3" fill="#e6e21c" stroke="#f4f08a" stroke-width="0.8"/>
<circle cx="376.7" cy="201.8" r="3.3" fill="#e6e21c" stroke="#f4f08a" stroke-width="0.8"/>
<circle cx="361.3" cy="214.2" r="3.3" fill="#e6e21c" stroke="#f4f08a" stroke-width="0.8"/>
<circle cx="381" cy="216.3" r="3.3" fill="#e6e21c" stroke="#f4f08a" stroke-width="0.8"/>
<circle cx="382.9" cy="229.2" r="3.3" fill="#e6e21c" stroke="#f4f08a" stroke-width="0.8"/>
<circle cx="370.9" cy="235" r="3.3" fill="#e6e21c" stroke="#f4f08a" stroke-width="0.8"/>
<circle cx="382.4" cy="235" r="3.3" fill="#e6e21c" stroke="#f4f08a" stroke-width="0.8"/>
<circle cx="441.4" cy="59.9" r="3.5" fill="#dd1018"/>
<circle cx="451.9" cy="79.4" r="3.5" fill="#dd1018"/>
<circle cx="425.9" cy="85.6" r="3.5" fill="#dd1018"/>
<circle cx="418.8" cy="91" r="3.5" fill="#dd1018"/>
<circle cx="445.1" cy="111.8" r="3.5" fill="#dd1018"/>
<circle cx="400.6" cy="167.7" r="3.5" fill="#dd1018"/>
<circle cx="388.4" cy="206.4" r="3.5" fill="#dd1018"/>
<text x="430.3" y="55.8" font-size="8.3" text-anchor="middle" fill="#222" stroke="#222" stroke-width="0.16">HEXIM</text>
<text x="456" y="90.8" font-size="8.3" fill="#222" stroke="#222" stroke-width="0.16">TLE3</text>
<text x="427.8" y="96" font-size="8.3" fill="#222" stroke="#222" stroke-width="0.16">SS18</text>
<text x="419.5" y="87.3" font-size="8.3" text-anchor="end" fill="#222" stroke="#222" stroke-width="0.16">RARA</text>
<text x="450.8" y="119.7" font-size="8.3" fill="#222" stroke="#222" stroke-width="0.16">KDM4A</text>
<text x="433.8" y="170.6" font-size="8.3" fill="#222" stroke="#222" stroke-width="0.16">IKZF3</text>
<text x="430.2" y="191.9" font-size="8.3" fill="#222" stroke="#222" stroke-width="0.16">DNMT1/3A/3B</text>
<text x="416.6" y="222.1" font-size="8.3" fill="#222" stroke="#222" stroke-width="0.16">IKZF1</text>
<circle cx="420.4" cy="234.6" r="3.4" fill="#8e8e8e"/>
<text x="427.3" y="237.6" font-size="7.9" fill="#999" stroke="#999" stroke-width="0.16">Neg. control sgRNAs</text>
<text x="464.6" y="213.7" font-size="8" font-style="italic" fill="#333" stroke="#333" stroke-width="0.16">FDR = 0.05</text>
</g>
<text x="192.2" y="336.8" font-size="9.5" fill="#1a1a1a" stroke="#1a1a1a" stroke-width="0.16">GO Upregulated CRISPRi</text>
<rect x="198.5" y="348.8" width="90.1" height="6.4" fill="#1d4c86"/>
<line x1="195.7" y1="352" x2="198.5" y2="352" stroke="#111" stroke-width="1.0"/>
<text x="192.2" y="354.2" font-size="7.9" text-anchor="end" fill="#1a1a1a" stroke="#1a1a1a" stroke-width="0.16">DNA-dependent DNA replication</text>
<rect x="198.5" y="361.7" width="82.3" height="6.4" fill="#1d4c86"/>
<line x1="195.7" y1="364.9" x2="198.5" y2="364.9" stroke="#111" stroke-width="1.0"/>
<text x="192.2" y="367.1" font-size="7.9" text-anchor="end" fill="#1a1a1a" stroke="#1a1a1a" stroke-width="0.16">DNA strand elongation involved in DNA replication</text>
<rect x="198.5" y="374.9" width="70.7" height="6.4" fill="#1d4c86"/>
<line x1="195.7" y1="378.1" x2="198.5" y2="378.1" stroke="#111" stroke-width="1.0"/>
<text x="192.2" y="380.3" font-size="7.9" text-anchor="end" fill="#1a1a1a" stroke="#1a1a1a" stroke-width="0.16">DNA replication</text>
<rect x="198.5" y="388.1" width="65.9" height="6.4" fill="#1d4c86"/>
<line x1="195.7" y1="391.3" x2="198.5" y2="391.3" stroke="#111" stroke-width="1.0"/>
<text x="192.2" y="393.5" font-size="7.9" text-anchor="end" fill="#1a1a1a" stroke="#1a1a1a" stroke-width="0.16">mRNA splicing</text>
<rect x="198.5" y="401.4" width="65.4" height="6.4" fill="#1d4c86"/>
<line x1="195.7" y1="404.6" x2="198.5" y2="404.6" stroke="#111" stroke-width="1.0"/>
<text x="192.2" y="406.8" font-size="7.9" text-anchor="end" fill="#1a1a1a" stroke="#1a1a1a" stroke-width="0.16">DNA metabolic process</text>
<rect x="198.5" y="414.6" width="61.9" height="6.4" fill="#1d4c86"/>
<line x1="195.7" y1="417.8" x2="198.5" y2="417.8" stroke="#111" stroke-width="1.0"/>
<text x="192.2" y="420" font-size="7.9" text-anchor="end" fill="#1a1a1a" stroke="#1a1a1a" stroke-width="0.16">mRNA processing</text>
<rect x="198.5" y="427.6" width="59.6" height="6.4" fill="#1d4c86"/>
<line x1="195.7" y1="430.8" x2="198.5" y2="430.8" stroke="#111" stroke-width="1.0"/>
<text x="192.2" y="433" font-size="7.9" text-anchor="end" fill="#1a1a1a" stroke="#1a1a1a" stroke-width="0.16">regulation of mRNA splicing, via spliceosome</text>
<path d="M198.5 342.5H295.5V439.5" fill="none" stroke="#111" stroke-width="0.9"/>
<line x1="198.5" y1="342.1" x2="198.5" y2="439.5" stroke="#111" stroke-width="1.0"/>
<line x1="198" y1="439.5" x2="295.9" y2="439.5" stroke="#111" stroke-width="1.0"/>
<line x1="198.5" y1="439.5" x2="198.5" y2="442.5" stroke="#111" stroke-width="1.0"/>
<text x="198.5" y="452.9" font-size="8" text-anchor="middle" fill="#222" stroke="#222" stroke-width="0.16">0</text>
<line x1="230.8" y1="439.5" x2="230.8" y2="442.5" stroke="#111" stroke-width="1.0"/>
<text x="230.8" y="452.9" font-size="8" text-anchor="middle" fill="#222" stroke="#222" stroke-width="0.16">5</text>
<line x1="263.2" y1="439.5" x2="263.2" y2="442.5" stroke="#111" stroke-width="1.0"/>
<text x="263.2" y="452.9" font-size="8" text-anchor="middle" fill="#222" stroke="#222" stroke-width="0.16">10</text>
<line x1="295.5" y1="439.5" x2="295.5" y2="442.5" stroke="#111" stroke-width="1.0"/>
<text x="295.5" y="452.9" font-size="8" text-anchor="middle" fill="#222" stroke="#222" stroke-width="0.16">15</text>
<text x="224" y="466" font-size="8.8" fill="#222" stroke="#222" stroke-width="0.35" textLength="44.3" lengthAdjust="spacingAndGlyphs">–log10 <tspan font-style="italic">P</tspan>-value</text>
<text x="186.2" y="491.8" font-size="9.5" fill="#1a1a1a" stroke="#1a1a1a" stroke-width="0.16">KEGG Upregulated CRISPRi</text>
<rect x="198.5" y="503.8" width="86.7" height="6.4" fill="#3aa834"/>
<line x1="195.7" y1="507" x2="198.5" y2="507" stroke="#111" stroke-width="1.0"/>
<text x="192.2" y="509.2" font-size="7.9" text-anchor="end" fill="#1a1a1a" stroke="#1a1a1a" stroke-width="0.16">DNA replication</text>
<rect x="198.5" y="516.7" width="38.6" height="6.4" fill="#3aa834"/>
<line x1="195.7" y1="519.9" x2="198.5" y2="519.9" stroke="#111" stroke-width="1.0"/>
<text x="192.2" y="522.1" font-size="7.9" text-anchor="end" fill="#1a1a1a" stroke="#1a1a1a" stroke-width="0.16">Spliceosome</text>
<rect x="198.5" y="529.9" width="30.3" height="6.4" fill="#3aa834"/>
<line x1="195.7" y1="533.1" x2="198.5" y2="533.1" stroke="#111" stroke-width="1.0"/>
<text x="192.2" y="535.3" font-size="7.9" text-anchor="end" fill="#1a1a1a" stroke="#1a1a1a" stroke-width="0.16">Nucleotide excision repair</text>
<rect x="198.5" y="543.1" width="30.3" height="6.4" fill="#3aa834"/>
<line x1="195.7" y1="546.3" x2="198.5" y2="546.3" stroke="#111" stroke-width="1.0"/>
<text x="192.2" y="548.5" font-size="7.9" text-anchor="end" fill="#1a1a1a" stroke="#1a1a1a" stroke-width="0.16">Mismatch repair</text>
<rect x="198.5" y="556.4" width="23.8" height="6.4" fill="#3aa834"/>
<line x1="195.7" y1="559.6" x2="198.5" y2="559.6" stroke="#111" stroke-width="1.0"/>
<text x="192.2" y="561.8" font-size="7.9" text-anchor="end" fill="#1a1a1a" stroke="#1a1a1a" stroke-width="0.16">Homologous recombination</text>
<rect x="198.5" y="569.6" width="23.1" height="6.4" fill="#3aa834"/>
<line x1="195.7" y1="572.8" x2="198.5" y2="572.8" stroke="#111" stroke-width="1.0"/>
<text x="192.2" y="575" font-size="7.9" text-anchor="end" fill="#1a1a1a" stroke="#1a1a1a" stroke-width="0.16">Cell cycle</text>
<rect x="198.5" y="582.6" width="20.4" height="6.4" fill="#3aa834"/>
<line x1="195.7" y1="585.8" x2="198.5" y2="585.8" stroke="#111" stroke-width="1.0"/>
<text x="192.2" y="588" font-size="7.9" text-anchor="end" fill="#1a1a1a" stroke="#1a1a1a" stroke-width="0.16">Pyrimidine metabolism</text>
<path d="M198.5 497.5H295.5V594.5" fill="none" stroke="#111" stroke-width="0.9"/>
<line x1="198.5" y1="497.1" x2="198.5" y2="594.5" stroke="#111" stroke-width="1.0"/>
<line x1="198" y1="594.5" x2="295.9" y2="594.5" stroke="#111" stroke-width="1.0"/>
<line x1="198.5" y1="594.5" x2="198.5" y2="597.5" stroke="#111" stroke-width="1.0"/>
<text x="198.5" y="608" font-size="8" text-anchor="middle" fill="#222" stroke="#222" stroke-width="0.16">0</text>
<line x1="230.8" y1="594.5" x2="230.8" y2="597.5" stroke="#111" stroke-width="1.0"/>
<text x="230.8" y="608" font-size="8" text-anchor="middle" fill="#222" stroke="#222" stroke-width="0.16">5</text>
<line x1="263.2" y1="594.5" x2="263.2" y2="597.5" stroke="#111" stroke-width="1.0"/>
<text x="263.2" y="608" font-size="8" text-anchor="middle" fill="#222" stroke="#222" stroke-width="0.16">10</text>
<line x1="295.5" y1="594.5" x2="295.5" y2="597.5" stroke="#111" stroke-width="1.0"/>
<text x="295.5" y="608" font-size="8" text-anchor="middle" fill="#222" stroke="#222" stroke-width="0.16">15</text>
<text x="224.6" y="621.2" font-size="8.8" fill="#222" stroke="#222" stroke-width="0.35" textLength="44.4" lengthAdjust="spacingAndGlyphs">–log10 <tspan font-style="italic">P</tspan>-value</text>
<path d="M352 439.2L368 438.8L375 437.9L381.5 435.5L388.8 427.4L393.6 416L396.8 404.7L399.3 393.4L400.9 383.7L402.5 372.4L404.9 357.8L407.4 350.5L409.2 355L411 365L413 380L415 398L417.5 415L420 428L423 436L428 439.2Z" fill="#c3c3c7" stroke="#8c8c90" stroke-width="0.6"/>
<path d="M365 439.2L378 438.7L384.7 437L392 432.2L397.7 422.5L401.7 409.6L404.1 396.6L405.7 385.3L407.4 372.4L409.8 356.2L411.4 348.9L413 353L415 365L417 382L419 400L421.5 418L424.5 432L428 439.2Z" fill="#f0a6aa" stroke="#d88088" stroke-width="0.6" style="mix-blend-mode:multiply"/>
<clipPath id="redclip"><path d="M380 439.2L387 438.8L391.2 437L397.7 430.6L402.5 417.7L405.7 404.7L408.2 388.5L409.8 372.4L411.4 356.2L413 348.1L414.2 351L415.5 356.2L417.4 372.4L419 388.5L421.1 404.7L423.5 419.3L426 432.2L429.2 437.9L433 439.2Z"/></clipPath>
<path d="M380 439.2L387 438.8L391.2 437L397.7 430.6L402.5 417.7L405.7 404.7L408.2 388.5L409.8 372.4L411.4 356.2L413 348.1L414.2 351L415.5 356.2L417.4 372.4L419 388.5L421.1 404.7L423.5 419.3L426 432.2L429.2 437.9L433 439.2Z" fill="#c9323c"/>
<path d="M352 439.2L368 438.8L375 437.9L381.5 435.5L388.8 427.4L393.6 416L396.8 404.7L399.3 393.4L400.9 383.7L402.5 372.4L404.9 357.8L407.4 350.5L409.2 355L411 365L413 380L415 398L417.5 415L420 428L423 436L428 439.2Z" fill="#c8c8cc" clip-path="url(#redclip)" style="mix-blend-mode:multiply"/>
<path d="M380 439.2L387 438.8L391.2 437L397.7 430.6L402.5 417.7L405.7 404.7L408.2 388.5L409.8 372.4L411.4 356.2L413 348.1L414.2 351L415.5 356.2L417.4 372.4L419 388.5L421.1 404.7L423.5 419.3L426 432.2L429.2 437.9L433 439.2Z" fill="none" stroke="#e4222c" stroke-width="0.7"/>
<path d="M342 336.5H445.5V439.8" fill="none" stroke="#111" stroke-width="0.9"/>
<line x1="342" y1="336.1" x2="342" y2="439.8" stroke="#111" stroke-width="1.1"/>
<line x1="341.5" y1="439.8" x2="445.9" y2="439.8" stroke="#111" stroke-width="1.1"/>
<line x1="339.2" y1="439.8" x2="342" y2="439.8" stroke="#111" stroke-width="0.8"/>
<line x1="340.5" y1="435.7" x2="342" y2="435.7" stroke="#111" stroke-width="0.6"/>
<line x1="340.5" y1="431.7" x2="342" y2="431.7" stroke="#111" stroke-width="0.6"/>
<line x1="340.5" y1="427.6" x2="342" y2="427.6" stroke="#111" stroke-width="0.6"/>
<line x1="340.5" y1="423.6" x2="342" y2="423.6" stroke="#111" stroke-width="0.6"/>
<line x1="339.2" y1="419.5" x2="342" y2="419.5" stroke="#111" stroke-width="0.8"/>
<line x1="340.5" y1="415.5" x2="342" y2="415.5" stroke="#111" stroke-width="0.6"/>
<line x1="340.5" y1="411.4" x2="342" y2="411.4" stroke="#111" stroke-width="0.6"/>
<line x1="340.5" y1="407.4" x2="342" y2="407.4" stroke="#111" stroke-width="0.6"/>
<line x1="340.5" y1="403.3" x2="342" y2="403.3" stroke="#111" stroke-width="0.6"/>
<line x1="339.2" y1="399.3" x2="342" y2="399.3" stroke="#111" stroke-width="0.8"/>
<line x1="340.5" y1="395.2" x2="342" y2="395.2" stroke="#111" stroke-width="0.6"/>
<line x1="340.5" y1="391.2" x2="342" y2="391.2" stroke="#111" stroke-width="0.6"/>
<line x1="340.5" y1="387.1" x2="342" y2="387.1" stroke="#111" stroke-width="0.6"/>
<line x1="340.5" y1="383.1" x2="342" y2="383.1" stroke="#111" stroke-width="0.6"/>
<line x1="339.2" y1="379" x2="342" y2="379" stroke="#111" stroke-width="0.8"/>
<line x1="340.5" y1="375" x2="342" y2="375" stroke="#111" stroke-width="0.6"/>
<line x1="340.5" y1="370.9" x2="342" y2="370.9" stroke="#111" stroke-width="0.6"/>
<line x1="340.5" y1="366.9" x2="342" y2="366.9" stroke="#111" stroke-width="0.6"/>
<line x1="340.5" y1="362.8" x2="342" y2="362.8" stroke="#111" stroke-width="0.6"/>
<line x1="339.2" y1="358.8" x2="342" y2="358.8" stroke="#111" stroke-width="0.8"/>
<line x1="340.5" y1="354.7" x2="342" y2="354.7" stroke="#111" stroke-width="0.6"/>
<line x1="340.5" y1="350.7" x2="342" y2="350.7" stroke="#111" stroke-width="0.6"/>
<line x1="340.5" y1="346.6" x2="342" y2="346.6" stroke="#111" stroke-width="0.6"/>
<line x1="340.5" y1="342.6" x2="342" y2="342.6" stroke="#111" stroke-width="0.6"/>
<line x1="339.2" y1="338.5" x2="342" y2="338.5" stroke="#111" stroke-width="0.8"/>
<line x1="342" y1="439.8" x2="342" y2="442.6" stroke="#111" stroke-width="0.8"/>
<line x1="346.1" y1="439.8" x2="346.1" y2="441.3" stroke="#111" stroke-width="0.6"/>
<line x1="350.1" y1="439.8" x2="350.1" y2="441.3" stroke="#111" stroke-width="0.6"/>
<line x1="354.2" y1="439.8" x2="354.2" y2="441.3" stroke="#111" stroke-width="0.6"/>
<line x1="358.2" y1="439.8" x2="358.2" y2="441.3" stroke="#111" stroke-width="0.6"/>
<line x1="362.3" y1="439.8" x2="362.3" y2="442.6" stroke="#111" stroke-width="0.8"/>
<line x1="366.4" y1="439.8" x2="366.4" y2="441.3" stroke="#111" stroke-width="0.6"/>
<line x1="370.4" y1="439.8" x2="370.4" y2="441.3" stroke="#111" stroke-width="0.6"/>
<line x1="374.5" y1="439.8" x2="374.5" y2="441.3" stroke="#111" stroke-width="0.6"/>
<line x1="378.5" y1="439.8" x2="378.5" y2="441.3" stroke="#111" stroke-width="0.6"/>
<line x1="382.6" y1="439.8" x2="382.6" y2="442.6" stroke="#111" stroke-width="0.8"/>
<line x1="386.7" y1="439.8" x2="386.7" y2="441.3" stroke="#111" stroke-width="0.6"/>
<line x1="390.7" y1="439.8" x2="390.7" y2="441.3" stroke="#111" stroke-width="0.6"/>
<line x1="394.8" y1="439.8" x2="394.8" y2="441.3" stroke="#111" stroke-width="0.6"/>
<line x1="398.8" y1="439.8" x2="398.8" y2="441.3" stroke="#111" stroke-width="0.6"/>
<line x1="402.9" y1="439.8" x2="402.9" y2="442.6" stroke="#111" stroke-width="0.8"/>
<line x1="407" y1="439.8" x2="407" y2="441.3" stroke="#111" stroke-width="0.6"/>
<line x1="411" y1="439.8" x2="411" y2="441.3" stroke="#111" stroke-width="0.6"/>
<line x1="415.1" y1="439.8" x2="415.1" y2="441.3" stroke="#111" stroke-width="0.6"/>
<line x1="419.1" y1="439.8" x2="419.1" y2="441.3" stroke="#111" stroke-width="0.6"/>
<line x1="423.2" y1="439.8" x2="423.2" y2="442.6" stroke="#111" stroke-width="0.8"/>
<line x1="427.3" y1="439.8" x2="427.3" y2="441.3" stroke="#111" stroke-width="0.6"/>
<line x1="431.3" y1="439.8" x2="431.3" y2="441.3" stroke="#111" stroke-width="0.6"/>
<line x1="435.4" y1="439.8" x2="435.4" y2="441.3" stroke="#111" stroke-width="0.6"/>
<line x1="439.4" y1="439.8" x2="439.4" y2="441.3" stroke="#111" stroke-width="0.6"/>
<line x1="443.5" y1="439.8" x2="443.5" y2="442.6" stroke="#111" stroke-width="0.8"/>
<text x="345" y="348.2" font-size="9.4" fill="#111" stroke="#111" stroke-width="0.16">TLE3</text>
<rect x="346.4" y="353.3" width="4.6" height="4.6" fill="#d8485a" stroke="#a8203a" stroke-width="0.7"/>
<text x="353.8" y="358.2" font-size="7.9" fill="#222" stroke="#222" stroke-width="0.16">sgRNA_1</text>
<rect x="346.4" y="362.9" width="4.6" height="4.6" fill="#f2b0b0" stroke="#e09090" stroke-width="0.7"/>
<text x="353.8" y="367.8" font-size="7.9" fill="#222" stroke="#222" stroke-width="0.16">sgRNA_2</text>
<rect x="346.4" y="372.1" width="4.6" height="4.6" fill="#bdbdc0" stroke="#9a9a9e" stroke-width="0.7"/>
<text x="353.8" y="377" font-size="7.9" fill="#222" stroke="#222" stroke-width="0.16">scramble</text>
<line x1="362.7" y1="450" x2="418.9" y2="450" stroke="#111" stroke-width="0.9"/>
<path d="M418.4 447.7L423.9 450L418.4 452.3Z" fill="#111"/>
<text x="385.8" y="461.6" font-size="8.8" fill="#222" stroke="#222" stroke-width="0.35" textLength="16.2" lengthAdjust="spacingAndGlyphs">CD38</text>
<path d="M370 595.9L378 595.6L381.3 594.4L387.7 588.9L394 576.2L398.8 563.5L402 547.6L404.4 536.5L406 523.8L407.5 515.9L410.2 505.6L413 515.9L416 531.7L418.2 547.6L419.4 563.5L421 579.4L422.6 592L426 595.9Z" fill="#bcbcc6" stroke="#8a8a94" stroke-width="0.6"/>
<path d="M362 595.9L374 595.5L384.5 588.9L390 576.2L394.8 555.6L398.8 531.7L400.6 516L401.8 511L403.5 513L405 518L406.5 526L408 538L411 554L415 570L419 586L422 594L425 595.9Z" fill="#f8d47a" stroke="#ecc060" stroke-width="0.5"/>
<clipPath id="oraclip"><path d="M366 595.9L375 595.5L378.2 595L386.1 590.5L390.9 579.4L394 563.5L397.2 547.6L399.6 528.6L401.2 515.9L402.3 511.9L404 513.5L405.2 515.9L406.7 523.8L408.3 539.7L411.5 555.6L415.5 571.4L419.4 587.3L422.6 594.4L426 595.9Z"/></clipPath>
<path d="M366 595.9L375 595.5L378.2 595L386.1 590.5L390.9 579.4L394 563.5L397.2 547.6L399.6 528.6L401.2 515.9L402.3 511.9L404 513.5L405.2 515.9L406.7 523.8L408.3 539.7L411.5 555.6L415.5 571.4L419.4 587.3L422.6 594.4L426 595.9Z" fill="#f3a53a" fill-opacity="0.92"/>
<path d="M370 595.9L378 595.6L381.3 594.4L387.7 588.9L394 576.2L398.8 563.5L402 547.6L404.4 536.5L406 523.8L407.5 515.9L410.2 505.6L413 515.9L416 531.7L418.2 547.6L419.4 563.5L421 579.4L422.6 592L426 595.9Z" fill="#c4c4cc" clip-path="url(#oraclip)" style="mix-blend-mode:multiply"/>
<path d="M366 595.9L375 595.5L378.2 595L386.1 590.5L390.9 579.4L394 563.5L397.2 547.6L399.6 528.6L401.2 515.9L402.3 511.9L404 513.5L405.2 515.9L406.7 523.8L408.3 539.7L411.5 555.6L415.5 571.4L419.4 587.3L422.6 594.4L426 595.9Z" fill="none" stroke="#d88c2a" stroke-width="0.6"/>
<path d="M342 493.5H445.5V596.5" fill="none" stroke="#111" stroke-width="0.9"/>
<line x1="342" y1="493.1" x2="342" y2="596.5" stroke="#111" stroke-width="1.1"/>
<line x1="341.5" y1="596.5" x2="445.9" y2="596.5" stroke="#111" stroke-width="1.1"/>
<line x1="339.2" y1="596.5" x2="342" y2="596.5" stroke="#111" stroke-width="0.8"/>
<line x1="340.5" y1="592.5" x2="342" y2="592.5" stroke="#111" stroke-width="0.6"/>
<line x1="340.5" y1="588.4" x2="342" y2="588.4" stroke="#111" stroke-width="0.6"/>
<line x1="340.5" y1="584.4" x2="342" y2="584.4" stroke="#111" stroke-width="0.6"/>
<line x1="340.5" y1="580.3" x2="342" y2="580.3" stroke="#111" stroke-width="0.6"/>
<line x1="339.2" y1="576.3" x2="342" y2="576.3" stroke="#111" stroke-width="0.8"/>
<line x1="340.5" y1="572.3" x2="342" y2="572.3" stroke="#111" stroke-width="0.6"/>
<line x1="340.5" y1="568.2" x2="342" y2="568.2" stroke="#111" stroke-width="0.6"/>
<line x1="340.5" y1="564.2" x2="342" y2="564.2" stroke="#111" stroke-width="0.6"/>
<line x1="340.5" y1="560.1" x2="342" y2="560.1" stroke="#111" stroke-width="0.6"/>
<line x1="339.2" y1="556.1" x2="342" y2="556.1" stroke="#111" stroke-width="0.8"/>
<line x1="340.5" y1="552.1" x2="342" y2="552.1" stroke="#111" stroke-width="0.6"/>
<line x1="340.5" y1="548" x2="342" y2="548" stroke="#111" stroke-width="0.6"/>
<line x1="340.5" y1="544" x2="342" y2="544" stroke="#111" stroke-width="0.6"/>
<line x1="340.5" y1="539.9" x2="342" y2="539.9" stroke="#111" stroke-width="0.6"/>
<line x1="339.2" y1="535.9" x2="342" y2="535.9" stroke="#111" stroke-width="0.8"/>
<line x1="340.5" y1="531.9" x2="342" y2="531.9" stroke="#111" stroke-width="0.6"/>
<line x1="340.5" y1="527.8" x2="342" y2="527.8" stroke="#111" stroke-width="0.6"/>
<line x1="340.5" y1="523.8" x2="342" y2="523.8" stroke="#111" stroke-width="0.6"/>
<line x1="340.5" y1="519.7" x2="342" y2="519.7" stroke="#111" stroke-width="0.6"/>
<line x1="339.2" y1="515.7" x2="342" y2="515.7" stroke="#111" stroke-width="0.8"/>
<line x1="340.5" y1="511.7" x2="342" y2="511.7" stroke="#111" stroke-width="0.6"/>
<line x1="340.5" y1="507.6" x2="342" y2="507.6" stroke="#111" stroke-width="0.6"/>
<line x1="340.5" y1="503.6" x2="342" y2="503.6" stroke="#111" stroke-width="0.6"/>
<line x1="340.5" y1="499.5" x2="342" y2="499.5" stroke="#111" stroke-width="0.6"/>
<line x1="339.2" y1="495.5" x2="342" y2="495.5" stroke="#111" stroke-width="0.8"/>
<line x1="342" y1="596.5" x2="342" y2="599.3" stroke="#111" stroke-width="0.8"/>
<line x1="346.1" y1="596.5" x2="346.1" y2="598" stroke="#111" stroke-width="0.6"/>
<line x1="350.1" y1="596.5" x2="350.1" y2="598" stroke="#111" stroke-width="0.6"/>
<line x1="354.2" y1="596.5" x2="354.2" y2="598" stroke="#111" stroke-width="0.6"/>
<line x1="358.2" y1="596.5" x2="358.2" y2="598" stroke="#111" stroke-width="0.6"/>
<line x1="362.3" y1="596.5" x2="362.3" y2="599.3" stroke="#111" stroke-width="0.8"/>
<line x1="366.4" y1="596.5" x2="366.4" y2="598" stroke="#111" stroke-width="0.6"/>
<line x1="370.4" y1="596.5" x2="370.4" y2="598" stroke="#111" stroke-width="0.6"/>
<line x1="374.5" y1="596.5" x2="374.5" y2="598" stroke="#111" stroke-width="0.6"/>
<line x1="378.5" y1="596.5" x2="378.5" y2="598" stroke="#111" stroke-width="0.6"/>
<line x1="382.6" y1="596.5" x2="382.6" y2="599.3" stroke="#111" stroke-width="0.8"/>
<line x1="386.7" y1="596.5" x2="386.7" y2="598" stroke="#111" stroke-width="0.6"/>
<line x1="390.7" y1="596.5" x2="390.7" y2="598" stroke="#111" stroke-width="0.6"/>
<line x1="394.8" y1="596.5" x2="394.8" y2="598" stroke="#111" stroke-width="0.6"/>
<line x1="398.8" y1="596.5" x2="398.8" y2="598" stroke="#111" stroke-width="0.6"/>
<line x1="402.9" y1="596.5" x2="402.9" y2="599.3" stroke="#111" stroke-width="0.8"/>
<line x1="407" y1="596.5" x2="407" y2="598" stroke="#111" stroke-width="0.6"/>
<line x1="411" y1="596.5" x2="411" y2="598" stroke="#111" stroke-width="0.6"/>
<line x1="415.1" y1="596.5" x2="415.1" y2="598" stroke="#111" stroke-width="0.6"/>
<line x1="419.1" y1="596.5" x2="419.1" y2="598" stroke="#111" stroke-width="0.6"/>
<line x1="423.2" y1="596.5" x2="423.2" y2="599.3" stroke="#111" stroke-width="0.8"/>
<line x1="427.3" y1="596.5" x2="427.3" y2="598" stroke="#111" stroke-width="0.6"/>
<line x1="431.3" y1="596.5" x2="431.3" y2="598" stroke="#111" stroke-width="0.6"/>
<line x1="435.4" y1="596.5" x2="435.4" y2="598" stroke="#111" stroke-width="0.6"/>
<line x1="439.4" y1="596.5" x2="439.4" y2="598" stroke="#111" stroke-width="0.6"/>
<line x1="443.5" y1="596.5" x2="443.5" y2="599.3" stroke="#111" stroke-width="0.8"/>
<text x="344.2" y="504.6" font-size="9.4" fill="#111" stroke="#111" stroke-width="0.16">SPI1</text>
<rect x="346.2" y="509.3" width="4.6" height="4.6" fill="#e8901e" stroke="#b86a10" stroke-width="0.7"/>
<text x="353.6" y="514.2" font-size="7.9" fill="#222" stroke="#222" stroke-width="0.16">sgRNA_1</text>
<rect x="346.2" y="518.5" width="4.6" height="4.6" fill="#fbe08a" stroke="#e8c050" stroke-width="0.7"/>
<text x="353.6" y="523.4" font-size="7.9" fill="#222" stroke="#222" stroke-width="0.16">sgRNA_2</text>
<rect x="346.2" y="527.7" width="4.6" height="4.6" fill="#b8b8c0" stroke="#9a9aa2" stroke-width="0.7"/>
<text x="353.6" y="532.6" font-size="7.9" fill="#222" stroke="#222" stroke-width="0.16">scramble</text>
<line x1="362.7" y1="607.4" x2="418.9" y2="607.4" stroke="#111" stroke-width="0.9"/>
<path d="M418.4 605.1L423.9 607.4L418.4 609.7Z" fill="#111"/>
<text x="385.8" y="618.5" font-size="8.8" fill="#222" stroke="#222" stroke-width="0.35" textLength="16.2" lengthAdjust="spacingAndGlyphs">CD38</text>
<rect x="0.5" y="0.5" width="519" height="628.5" fill="none" stroke="#555" stroke-width="1"/>
<rect x="0" y="628.6" width="520" height="1.4" fill="#555"/>
</svg></body></html>
